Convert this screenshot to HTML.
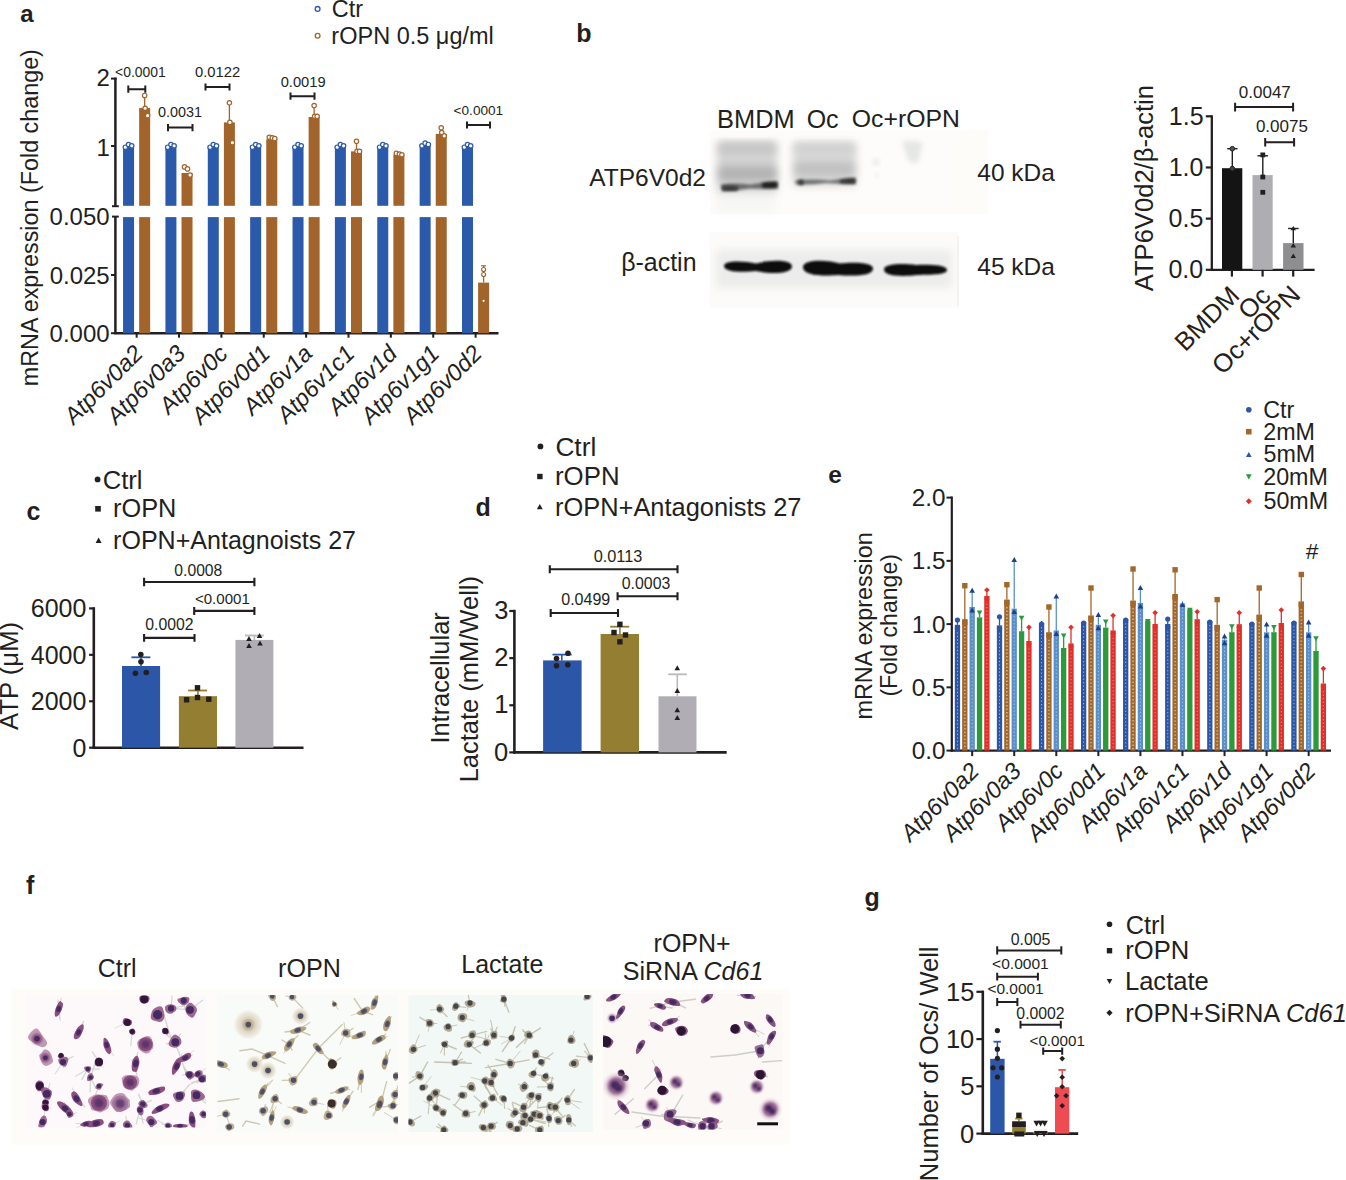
<!DOCTYPE html>
<html><head><meta charset="utf-8"><style>
html,body{margin:0;padding:0;background:#fff;}
svg{display:block;font-family:"Liberation Sans",sans-serif;}
</style></head><body>
<svg width="1346" height="1180" viewBox="0 0 1346 1180">
<rect width="1346" height="1180" fill="#fff"/>
<text x="20.20" y="21.56" font-size="24" font-weight="bold" text-anchor="start" fill="#231f20">a</text>
<circle cx="317.60" cy="8.90" r="2.40" fill="white" stroke="#2c5aaa" stroke-width="1.3"/>
<circle cx="317.60" cy="35.70" r="2.40" fill="white" stroke="#a2642a" stroke-width="1.3"/>
<text x="331.72" y="17.10" font-size="23.5" text-anchor="start" fill="#231f20">Ctr</text>
<text x="331.37" y="43.80" font-size="23.5" text-anchor="start" fill="#231f20">rOPN 0.5 μg/ml</text>
<line x1="115.40" y1="77.60" x2="115.40" y2="206.20" stroke="#231f20" stroke-width="2.5"/>
<line x1="111.00" y1="78.60" x2="116.60" y2="78.60" stroke="#231f20" stroke-width="2"/>
<line x1="111.00" y1="146.00" x2="115.40" y2="146.00" stroke="#231f20" stroke-width="2"/>
<line x1="112.00" y1="206.20" x2="118.80" y2="206.20" stroke="#231f20" stroke-width="2"/>
<line x1="115.40" y1="216.60" x2="115.40" y2="333.20" stroke="#231f20" stroke-width="2.5"/>
<line x1="112.00" y1="216.60" x2="118.80" y2="216.60" stroke="#231f20" stroke-width="2"/>
<line x1="111.00" y1="275.00" x2="115.40" y2="275.00" stroke="#231f20" stroke-width="2"/>
<line x1="111.00" y1="333.20" x2="115.40" y2="333.20" stroke="#231f20" stroke-width="2"/>
<line x1="114.20" y1="333.20" x2="498.50" y2="333.20" stroke="#231f20" stroke-width="2.5"/>
<text x="96.46" y="86.40" font-size="24" text-anchor="start" fill="#231f20">2</text>
<text x="96.46" y="155.86" font-size="24" text-anchor="start" fill="#231f20">1</text>
<text x="49.54" y="225.00" font-size="24" text-anchor="start" fill="#231f20">0.050</text>
<text x="49.66" y="284.00" font-size="24" text-anchor="start" fill="#231f20">0.025</text>
<text x="49.54" y="342.40" font-size="24" text-anchor="start" fill="#231f20">0.000</text>
<text transform="translate(37.50,386.22) rotate(-90)" font-size="23.34" text-anchor="start" fill="#231f20">mRNA expression (Fold change)</text>
<rect x="123.05" y="146.00" width="11.00" height="59.80" fill="#2c5aaa"/>
<rect x="123.05" y="217.10" width="11.00" height="116.10" fill="#2c5aaa"/>
<rect x="139.15" y="107.92" width="11.00" height="97.88" fill="#a2642a"/>
<rect x="139.15" y="217.10" width="11.00" height="116.10" fill="#a2642a"/>
<line x1="136.65" y1="333.20" x2="136.65" y2="337.70" stroke="#231f20" stroke-width="2"/>
<rect x="165.42" y="146.00" width="11.00" height="59.80" fill="#2c5aaa"/>
<rect x="165.42" y="217.10" width="11.00" height="116.10" fill="#2c5aaa"/>
<rect x="181.52" y="172.96" width="11.00" height="32.84" fill="#a2642a"/>
<rect x="181.52" y="217.10" width="11.00" height="116.10" fill="#a2642a"/>
<line x1="179.02" y1="333.20" x2="179.02" y2="337.70" stroke="#231f20" stroke-width="2"/>
<rect x="207.79" y="146.00" width="11.00" height="59.80" fill="#2c5aaa"/>
<rect x="207.79" y="217.10" width="11.00" height="116.10" fill="#2c5aaa"/>
<rect x="223.89" y="122.41" width="11.00" height="83.39" fill="#a2642a"/>
<rect x="223.89" y="217.10" width="11.00" height="116.10" fill="#a2642a"/>
<line x1="221.39" y1="333.20" x2="221.39" y2="337.70" stroke="#231f20" stroke-width="2"/>
<rect x="250.16" y="146.00" width="11.00" height="59.80" fill="#2c5aaa"/>
<rect x="250.16" y="217.10" width="11.00" height="116.10" fill="#2c5aaa"/>
<rect x="266.26" y="139.26" width="11.00" height="66.54" fill="#a2642a"/>
<rect x="266.26" y="217.10" width="11.00" height="116.10" fill="#a2642a"/>
<line x1="263.76" y1="333.20" x2="263.76" y2="337.70" stroke="#231f20" stroke-width="2"/>
<rect x="292.53" y="146.00" width="11.00" height="59.80" fill="#2c5aaa"/>
<rect x="292.53" y="217.10" width="11.00" height="116.10" fill="#2c5aaa"/>
<rect x="308.63" y="117.02" width="11.00" height="88.78" fill="#a2642a"/>
<rect x="308.63" y="217.10" width="11.00" height="116.10" fill="#a2642a"/>
<line x1="306.13" y1="333.20" x2="306.13" y2="337.70" stroke="#231f20" stroke-width="2"/>
<rect x="334.90" y="146.00" width="11.00" height="59.80" fill="#2c5aaa"/>
<rect x="334.90" y="217.10" width="11.00" height="116.10" fill="#2c5aaa"/>
<rect x="351.00" y="151.39" width="11.00" height="54.41" fill="#a2642a"/>
<rect x="351.00" y="217.10" width="11.00" height="116.10" fill="#a2642a"/>
<line x1="348.50" y1="333.20" x2="348.50" y2="337.70" stroke="#231f20" stroke-width="2"/>
<rect x="377.27" y="146.00" width="11.00" height="59.80" fill="#2c5aaa"/>
<rect x="377.27" y="217.10" width="11.00" height="116.10" fill="#2c5aaa"/>
<rect x="393.37" y="154.76" width="11.00" height="51.04" fill="#a2642a"/>
<rect x="393.37" y="217.10" width="11.00" height="116.10" fill="#a2642a"/>
<line x1="390.87" y1="333.20" x2="390.87" y2="337.70" stroke="#231f20" stroke-width="2"/>
<rect x="419.64" y="144.65" width="11.00" height="61.15" fill="#2c5aaa"/>
<rect x="419.64" y="217.10" width="11.00" height="116.10" fill="#2c5aaa"/>
<rect x="435.74" y="133.87" width="11.00" height="71.93" fill="#a2642a"/>
<rect x="435.74" y="217.10" width="11.00" height="116.10" fill="#a2642a"/>
<line x1="433.24" y1="333.20" x2="433.24" y2="337.70" stroke="#231f20" stroke-width="2"/>
<rect x="462.01" y="146.00" width="11.00" height="59.80" fill="#2c5aaa"/>
<rect x="462.01" y="217.10" width="11.00" height="116.10" fill="#2c5aaa"/>
<line x1="475.61" y1="333.20" x2="475.61" y2="337.70" stroke="#231f20" stroke-width="2"/>
<rect x="478.11" y="282.60" width="11.00" height="50.60" fill="#a2642a"/>
<line x1="483.61" y1="282.60" x2="483.61" y2="265.80" stroke="#a2642a" stroke-width="1.2"/>
<line x1="481.11" y1="265.80" x2="486.11" y2="265.80" stroke="#a2642a" stroke-width="1.2"/>
<circle cx="483.61" cy="269.50" r="2.00" fill="white" stroke="#a2642a" stroke-width="1.1"/>
<circle cx="483.61" cy="274.50" r="2.00" fill="white" stroke="#a2642a" stroke-width="1.1"/>
<circle cx="483.61" cy="300.80" r="1.10" fill="white" stroke="none" stroke-width="1"/>
<line x1="144.65" y1="95.45" x2="144.65" y2="107.92" stroke="#a2642a" stroke-width="1.3"/>
<line x1="229.39" y1="102.86" x2="229.39" y2="122.41" stroke="#a2642a" stroke-width="1.3"/>
<line x1="314.13" y1="105.56" x2="314.13" y2="117.02" stroke="#a2642a" stroke-width="1.3"/>
<line x1="356.50" y1="141.28" x2="356.50" y2="151.39" stroke="#a2642a" stroke-width="1.3"/>
<line x1="441.24" y1="127.80" x2="441.24" y2="133.87" stroke="#a2642a" stroke-width="1.3"/>
<circle cx="144.65" cy="95.45" r="2.20" fill="white" stroke="#a2642a" stroke-width="1.2"/>
<circle cx="145.15" cy="108.26" r="2.20" fill="white" stroke="#a2642a" stroke-width="1.2"/>
<circle cx="147.65" cy="115.67" r="2.20" fill="white" stroke="#a2642a" stroke-width="1.2"/>
<circle cx="184.52" cy="166.89" r="2.20" fill="white" stroke="#a2642a" stroke-width="1.2"/>
<circle cx="187.52" cy="168.92" r="2.20" fill="white" stroke="#a2642a" stroke-width="1.2"/>
<circle cx="190.02" cy="174.98" r="2.20" fill="white" stroke="#a2642a" stroke-width="1.2"/>
<circle cx="229.39" cy="102.86" r="2.20" fill="white" stroke="#a2642a" stroke-width="1.2"/>
<circle cx="229.89" cy="122.41" r="2.20" fill="white" stroke="#a2642a" stroke-width="1.2"/>
<circle cx="232.39" cy="142.63" r="2.20" fill="white" stroke="#a2642a" stroke-width="1.2"/>
<circle cx="269.26" cy="137.24" r="2.20" fill="white" stroke="#a2642a" stroke-width="1.2"/>
<circle cx="272.26" cy="137.91" r="2.20" fill="white" stroke="#a2642a" stroke-width="1.2"/>
<circle cx="274.76" cy="138.59" r="2.20" fill="white" stroke="#a2642a" stroke-width="1.2"/>
<circle cx="314.13" cy="105.56" r="2.20" fill="white" stroke="#a2642a" stroke-width="1.2"/>
<circle cx="314.63" cy="116.34" r="2.20" fill="white" stroke="#a2642a" stroke-width="1.2"/>
<circle cx="317.13" cy="116.34" r="2.20" fill="white" stroke="#a2642a" stroke-width="1.2"/>
<circle cx="356.50" cy="141.28" r="2.20" fill="white" stroke="#a2642a" stroke-width="1.2"/>
<circle cx="357.00" cy="151.39" r="2.20" fill="white" stroke="#a2642a" stroke-width="1.2"/>
<circle cx="359.50" cy="151.39" r="2.20" fill="white" stroke="#a2642a" stroke-width="1.2"/>
<circle cx="396.37" cy="153.41" r="2.20" fill="white" stroke="#a2642a" stroke-width="1.2"/>
<circle cx="399.37" cy="154.09" r="2.20" fill="white" stroke="#a2642a" stroke-width="1.2"/>
<circle cx="401.87" cy="154.76" r="2.20" fill="white" stroke="#a2642a" stroke-width="1.2"/>
<circle cx="441.24" cy="127.80" r="2.20" fill="white" stroke="#a2642a" stroke-width="1.2"/>
<circle cx="441.74" cy="132.52" r="2.20" fill="white" stroke="#a2642a" stroke-width="1.2"/>
<circle cx="444.24" cy="135.89" r="2.20" fill="white" stroke="#a2642a" stroke-width="1.2"/>
<circle cx="125.35" cy="147.20" r="2.20" fill="white" stroke="#2c5aaa" stroke-width="1.2"/>
<circle cx="128.55" cy="144.50" r="2.20" fill="white" stroke="#2c5aaa" stroke-width="1.2"/>
<circle cx="131.75" cy="145.80" r="2.20" fill="white" stroke="#2c5aaa" stroke-width="1.2"/>
<circle cx="167.72" cy="147.20" r="2.20" fill="white" stroke="#2c5aaa" stroke-width="1.2"/>
<circle cx="170.92" cy="144.50" r="2.20" fill="white" stroke="#2c5aaa" stroke-width="1.2"/>
<circle cx="174.12" cy="145.80" r="2.20" fill="white" stroke="#2c5aaa" stroke-width="1.2"/>
<circle cx="210.09" cy="147.20" r="2.20" fill="white" stroke="#2c5aaa" stroke-width="1.2"/>
<circle cx="213.29" cy="144.50" r="2.20" fill="white" stroke="#2c5aaa" stroke-width="1.2"/>
<circle cx="216.49" cy="145.80" r="2.20" fill="white" stroke="#2c5aaa" stroke-width="1.2"/>
<circle cx="252.46" cy="147.20" r="2.20" fill="white" stroke="#2c5aaa" stroke-width="1.2"/>
<circle cx="255.66" cy="144.50" r="2.20" fill="white" stroke="#2c5aaa" stroke-width="1.2"/>
<circle cx="258.86" cy="145.80" r="2.20" fill="white" stroke="#2c5aaa" stroke-width="1.2"/>
<circle cx="294.83" cy="147.20" r="2.20" fill="white" stroke="#2c5aaa" stroke-width="1.2"/>
<circle cx="298.03" cy="144.50" r="2.20" fill="white" stroke="#2c5aaa" stroke-width="1.2"/>
<circle cx="301.23" cy="145.80" r="2.20" fill="white" stroke="#2c5aaa" stroke-width="1.2"/>
<circle cx="337.20" cy="147.20" r="2.20" fill="white" stroke="#2c5aaa" stroke-width="1.2"/>
<circle cx="340.40" cy="144.50" r="2.20" fill="white" stroke="#2c5aaa" stroke-width="1.2"/>
<circle cx="343.60" cy="145.80" r="2.20" fill="white" stroke="#2c5aaa" stroke-width="1.2"/>
<circle cx="379.57" cy="147.20" r="2.20" fill="white" stroke="#2c5aaa" stroke-width="1.2"/>
<circle cx="382.77" cy="144.50" r="2.20" fill="white" stroke="#2c5aaa" stroke-width="1.2"/>
<circle cx="385.97" cy="145.80" r="2.20" fill="white" stroke="#2c5aaa" stroke-width="1.2"/>
<circle cx="421.94" cy="145.85" r="2.20" fill="white" stroke="#2c5aaa" stroke-width="1.2"/>
<circle cx="425.14" cy="143.15" r="2.20" fill="white" stroke="#2c5aaa" stroke-width="1.2"/>
<circle cx="428.34" cy="144.45" r="2.20" fill="white" stroke="#2c5aaa" stroke-width="1.2"/>
<circle cx="464.31" cy="147.20" r="2.20" fill="white" stroke="#2c5aaa" stroke-width="1.2"/>
<circle cx="467.51" cy="144.50" r="2.20" fill="white" stroke="#2c5aaa" stroke-width="1.2"/>
<circle cx="470.71" cy="145.80" r="2.20" fill="white" stroke="#2c5aaa" stroke-width="1.2"/>
<path d="M128.30,85.60V92.80M128.30,89.20H145.30M145.30,85.60V92.80" fill="none" stroke="#231f20" stroke-width="2.0"/>
<text x="115.07" y="76.54" font-size="13.92" text-anchor="start" fill="#231f20">&lt;0.0001</text>
<path d="M168.00,124.00V131.20M168.00,127.60H192.50M192.50,124.00V131.20" fill="none" stroke="#231f20" stroke-width="2.0"/>
<text x="157.90" y="117.38" font-size="14.4" text-anchor="start" fill="#231f20">0.0031</text>
<path d="M205.50,83.40V90.60M205.50,87.00H229.50M229.50,83.40V90.60" fill="none" stroke="#231f20" stroke-width="2.0"/>
<text x="194.98" y="77.14" font-size="14.77" text-anchor="start" fill="#231f20">0.0122</text>
<path d="M290.50,92.60V99.80M290.50,96.20H314.50M314.50,92.60V99.80" fill="none" stroke="#231f20" stroke-width="2.0"/>
<text x="280.69" y="87.29" font-size="14.7" text-anchor="start" fill="#231f20">0.0019</text>
<path d="M467.00,121.40V128.60M467.00,125.00H490.00M490.00,121.40V128.60" fill="none" stroke="#231f20" stroke-width="2.0"/>
<text x="453.59" y="115.03" font-size="13.61" text-anchor="start" fill="#231f20">&lt;0.0001</text>
<text transform="translate(144.30,355.05) rotate(-45)" font-size="23.6" font-style="italic" text-anchor="end" fill="#231f20">Atp6v0a2</text>
<text transform="translate(186.67,355.05) rotate(-45)" font-size="23.6" font-style="italic" text-anchor="end" fill="#231f20">Atp6v0a3</text>
<text transform="translate(229.04,355.05) rotate(-45)" font-size="23.6" font-style="italic" text-anchor="end" fill="#231f20">Atp6v0c</text>
<text transform="translate(271.41,355.05) rotate(-45)" font-size="23.6" font-style="italic" text-anchor="end" fill="#231f20">Atp6v0d1</text>
<text transform="translate(313.78,355.05) rotate(-45)" font-size="23.6" font-style="italic" text-anchor="end" fill="#231f20">Atp6v1a</text>
<text transform="translate(356.15,355.05) rotate(-45)" font-size="23.6" font-style="italic" text-anchor="end" fill="#231f20">Atp6v1c1</text>
<text transform="translate(398.52,355.05) rotate(-45)" font-size="23.6" font-style="italic" text-anchor="end" fill="#231f20">Atp6v1d</text>
<text transform="translate(440.89,355.05) rotate(-45)" font-size="23.6" font-style="italic" text-anchor="end" fill="#231f20">Atp6v1g1</text>
<text transform="translate(483.26,355.05) rotate(-45)" font-size="23.6" font-style="italic" text-anchor="end" fill="#231f20">Atp6v0d2</text>
<defs>
<filter id="bl1" x="-50%" y="-50%" width="200%" height="200%"><feGaussianBlur stdDeviation="1.6"/></filter>
<filter id="bl2" x="-50%" y="-50%" width="200%" height="200%"><feGaussianBlur stdDeviation="4"/></filter>
<filter id="bl3" x="-50%" y="-50%" width="200%" height="200%"><feGaussianBlur stdDeviation="2.5"/></filter>
<filter id="bl05" x="-50%" y="-50%" width="200%" height="200%"><feGaussianBlur stdDeviation="0.8"/></filter>
</defs>
<rect x="710.40" y="130.40" width="277.60" height="84.00" fill="#fdfcfa"/>
<rect x="716.00" y="186.00" width="60.00" height="26.00" fill="#f6f6f5" filter="url(#bl2)"/>
<rect x="717.00" y="142.00" width="60.00" height="50.00" fill="#d2d2d2" filter="url(#bl2)"/>
<rect x="719.00" y="143.00" width="56.00" height="9.00" fill="#c2c2c2" filter="url(#bl2)"/>
<rect x="719.00" y="167.00" width="57.00" height="13.00" fill="#b0b0b0" filter="url(#bl2)"/>
<path d="M721,184.5 Q736,182.5 750,184.5 Q765,182 778,181.5 L778,188.5 Q764,189 750,188.5 Q736,191 722,190.5 Z" fill="#6a6a6a" stroke="none" stroke-width="1" filter="url(#bl1)"/>
<path d="M722,186 Q730,185 738,186.5 L738,190.5 Q730,191.5 722,190.5 Z" fill="#3a3a3a" stroke="none" stroke-width="1" filter="url(#bl1)"/>
<path d="M762,183 Q770,181.5 777,182 L777,187.5 Q769,188 762,187.5 Z" fill="#1e1e1e" stroke="none" stroke-width="1" filter="url(#bl1)"/>
<rect x="793.00" y="142.00" width="63.00" height="44.00" fill="#d9d9d9" filter="url(#bl2)"/>
<rect x="795.00" y="144.00" width="59.00" height="9.00" fill="#cfcfcf" filter="url(#bl2)"/>
<rect x="795.00" y="162.00" width="59.00" height="14.00" fill="#c0c0c0" filter="url(#bl2)"/>
<path d="M795,180.5 Q812,178.5 830,180.5 Q845,178 856,178 L856,184 Q840,184 826,183 Q810,185 796,184.5 Z" fill="#707070" stroke="none" stroke-width="1" filter="url(#bl1)"/>
<circle cx="801.00" cy="182.20" r="2.80" fill="#3a3a3a" stroke="none" stroke-width="1" filter="url(#bl1)"/>
<path d="M840,180 Q848,178 855,178.5 L855,183.5 Q846,183.5 840,183 Z" fill="#333333" stroke="none" stroke-width="1" filter="url(#bl1)"/>
<circle cx="876.00" cy="162.00" r="3.00" fill="#e4e4e4" stroke="none" stroke-width="1" filter="url(#bl3)"/>
<circle cx="877.00" cy="175.00" r="2.00" fill="#e8e8e8" stroke="none" stroke-width="1" filter="url(#bl3)"/>
<path d="M902,141 Q915,140 923,143 L918,162 Q912,165 908,160 Z" fill="#e6e6e6" stroke="none" stroke-width="1" filter="url(#bl3)"/>
<rect x="952.50" y="131.00" width="35.50" height="83.00" fill="#fdfcf8"/>
<rect x="709.70" y="232.00" width="248.30" height="76.00" fill="#fcfbf9"/>
<rect x="716.00" y="250.00" width="236.00" height="38.00" fill="#ececec" filter="url(#bl2)"/>
<line x1="958.00" y1="236.00" x2="958.00" y2="306.00" stroke="#e8e8e8" stroke-width="1"/>
<path d="M724,266 C724,260 745,261 756,263.5 C768,260 792,259 792,266.5 C792,274 770,274.5 756,271 C744,272.5 724,272.5 724,266 Z" fill="#0d0b0b" stroke="none" stroke-width="1" filter="url(#bl05)"/>
<path d="M803,267 C803,259 828,259.5 840,263.5 C852,262 873,262 873,268.5 C873,276.5 852,276 838,275 C826,276 803,276.5 803,267 Z" fill="#0b0909" stroke="none" stroke-width="1" filter="url(#bl05)"/>
<path d="M884,269.5 C884,263 905,263.5 916,265 C930,264.5 947,265 947,270 C947,275 930,274.5 918,275 C905,276.5 884,277 884,269.5 Z" fill="#0d0b0b" stroke="none" stroke-width="1" filter="url(#bl05)"/>
<text x="576.17" y="42.02" font-size="25" font-weight="bold" text-anchor="start" fill="#231f20">b</text>
<text x="717.07" y="127.52" font-size="25.39" text-anchor="start" fill="#231f20">BMDM</text>
<text x="806.67" y="127.50" font-size="25" text-anchor="start" fill="#231f20">Oc</text>
<text x="851.78" y="127.35" font-size="24.79" text-anchor="start" fill="#231f20">Oc+rOPN</text>
<text x="589.20" y="186.48" font-size="24.52" text-anchor="start" fill="#231f20">ATP6V0d2</text>
<text x="621.18" y="271.38" font-size="24.94" text-anchor="start" fill="#231f20">β-actin</text>
<text x="977.31" y="181.05" font-size="24.48" text-anchor="start" fill="#231f20">40 kDa</text>
<text x="977.31" y="275.15" font-size="24.48" text-anchor="start" fill="#231f20">45 kDa</text>
<line x1="1211.80" y1="115.30" x2="1211.80" y2="270.80" stroke="#231f20" stroke-width="2.3"/>
<line x1="1205.80" y1="269.80" x2="1211.80" y2="269.80" stroke="#231f20" stroke-width="2.2"/>
<line x1="1205.80" y1="218.63" x2="1211.80" y2="218.63" stroke="#231f20" stroke-width="2.2"/>
<line x1="1205.80" y1="167.47" x2="1211.80" y2="167.47" stroke="#231f20" stroke-width="2.2"/>
<line x1="1205.80" y1="116.30" x2="1211.80" y2="116.30" stroke="#231f20" stroke-width="2.2"/>
<line x1="1210.80" y1="269.80" x2="1314.60" y2="269.80" stroke="#231f20" stroke-width="2.3"/>
<text x="1168.85" y="125.15" font-size="25" text-anchor="start" fill="#231f20">1.5</text>
<text x="1168.72" y="176.00" font-size="25" text-anchor="start" fill="#231f20">1.0</text>
<text x="1168.55" y="227.00" font-size="25" text-anchor="start" fill="#231f20">0.5</text>
<text x="1168.42" y="277.80" font-size="25" text-anchor="start" fill="#231f20">0.0</text>
<rect x="1222.00" y="168.20" width="20.30" height="101.60" fill="#141414"/>
<rect x="1252.50" y="175.10" width="20.20" height="94.70" fill="#aeadb2"/>
<rect x="1283.10" y="243.10" width="20.40" height="26.70" fill="#8e8d90"/>
<line x1="1231.90" y1="269.80" x2="1231.90" y2="276.60" stroke="#231f20" stroke-width="2.2"/>
<line x1="1262.60" y1="269.80" x2="1262.60" y2="276.60" stroke="#231f20" stroke-width="2.2"/>
<line x1="1293.20" y1="269.80" x2="1293.20" y2="276.60" stroke="#231f20" stroke-width="2.2"/>
<line x1="1232.30" y1="148.70" x2="1232.30" y2="168.20" stroke="#231f20" stroke-width="1.4"/>
<line x1="1227.20" y1="148.70" x2="1237.50" y2="148.70" stroke="#231f20" stroke-width="1.4"/>
<circle cx="1232.30" cy="148.70" r="2.30" fill="#555" stroke="#231f20" stroke-width="1"/>
<circle cx="1232.30" cy="168.60" r="2.30" fill="#444" stroke="#231f20" stroke-width="1"/>
<line x1="1262.80" y1="155.80" x2="1262.80" y2="175.10" stroke="#231f20" stroke-width="1.4"/>
<line x1="1257.50" y1="155.80" x2="1268.00" y2="155.80" stroke="#231f20" stroke-width="1.4"/>
<rect x="1260.40" y="152.50" width="4.80" height="4.80" fill="#231f20"/>
<rect x="1260.40" y="174.60" width="4.80" height="4.80" fill="#231f20"/>
<rect x="1260.40" y="189.90" width="4.80" height="4.80" fill="#231f20"/>
<line x1="1293.30" y1="228.50" x2="1293.30" y2="243.10" stroke="#231f20" stroke-width="1.4"/>
<line x1="1288.10" y1="228.50" x2="1298.60" y2="228.50" stroke="#231f20" stroke-width="1.4"/>
<path d="M1293.3,243.0L1296,247.4L1290.6,247.4Z" fill="#231f20" stroke="none" stroke-width="1"/>
<path d="M1293.3,253.6L1296,258.0L1290.6,258.0Z" fill="#231f20" stroke="none" stroke-width="1"/>
<path d="M1293.3,226L1296,230.3L1290.6,230.3Z" fill="#231f20" stroke="none" stroke-width="1"/>
<path d="M1235.10,102.70V111.50M1235.10,107.10H1293.10M1293.10,102.70V111.50" fill="none" stroke="#231f20" stroke-width="2.0"/>
<text x="1238.81" y="97.90" font-size="17" text-anchor="start" fill="#231f20">0.0047</text>
<path d="M1265.20,137.90V146.50M1265.20,142.20H1294.10M1294.10,137.90V146.50" fill="none" stroke="#231f20" stroke-width="2.0"/>
<text x="1255.90" y="131.70" font-size="17" text-anchor="start" fill="#231f20">0.0075</text>
<text transform="translate(1152.90,291.20) rotate(-90)" font-size="25.59" text-anchor="start" fill="#231f20">ATP6V0d2/β-actin</text>
<text transform="translate(1240.80,297.10) rotate(-45)" font-size="25.7" text-anchor="end" fill="#231f20">BMDM</text>
<text transform="translate(1272.05,297.45) rotate(-45)" font-size="25.7" text-anchor="end" fill="#231f20">Oc</text>
<text transform="translate(1301.80,296.40) rotate(-45)" font-size="25.7" text-anchor="end" fill="#231f20">Oc+rOPN</text>
<text x="26.52" y="519.60" font-size="25" font-weight="bold" text-anchor="start" fill="#231f20">c</text>
<circle cx="97.60" cy="479.40" r="2.90" fill="#231f20" stroke="none" stroke-width="1"/>
<text x="102.72" y="488.57" font-size="25.61" text-anchor="start" fill="#231f20">Ctrl</text>
<rect x="95.20" y="506.00" width="5.60" height="5.60" fill="#231f20"/>
<text x="113.05" y="517.14" font-size="25.34" text-anchor="start" fill="#231f20">rOPN</text>
<path d="M98.60,537.60L101.60,543.00L95.60,543.00Z" fill="#231f20" stroke="none" stroke-width="1"/>
<text x="113.07" y="549.07" font-size="25.06" text-anchor="start" fill="#231f20">rOPN+Antagnoists 27</text>
<line x1="93.80" y1="607.20" x2="93.80" y2="748.90" stroke="#231f20" stroke-width="2.6"/>
<line x1="89.10" y1="747.70" x2="93.80" y2="747.70" stroke="#231f20" stroke-width="2.2"/>
<line x1="89.10" y1="701.27" x2="93.80" y2="701.27" stroke="#231f20" stroke-width="2.2"/>
<line x1="89.10" y1="654.83" x2="93.80" y2="654.83" stroke="#231f20" stroke-width="2.2"/>
<line x1="89.10" y1="608.40" x2="93.80" y2="608.40" stroke="#231f20" stroke-width="2.2"/>
<line x1="92.60" y1="747.70" x2="303.50" y2="747.70" stroke="#231f20" stroke-width="2.6"/>
<text x="30.75" y="617.40" font-size="25" text-anchor="start" fill="#231f20">6000</text>
<text x="30.75" y="663.83" font-size="25" text-anchor="start" fill="#231f20">4000</text>
<text x="30.75" y="710.27" font-size="25" text-anchor="start" fill="#231f20">2000</text>
<text x="72.50" y="756.70" font-size="25" text-anchor="start" fill="#231f20">0</text>
<text transform="translate(18.20,730.10) rotate(-90)" font-size="25.76" text-anchor="start" fill="#231f20">ATP (μM)</text>
<rect x="122.00" y="666.00" width="38.10" height="81.70" fill="#2c57a8"/>
<rect x="178.90" y="696.20" width="38.10" height="51.50" fill="#947e32"/>
<rect x="235.40" y="639.90" width="38.00" height="107.80" fill="#b0aeb4"/>
<line x1="141.00" y1="657.30" x2="141.00" y2="666.00" stroke="#2c57a8" stroke-width="1.6"/>
<line x1="131.40" y1="657.30" x2="150.40" y2="657.30" stroke="#2c57a8" stroke-width="1.8"/>
<line x1="197.90" y1="690.50" x2="197.90" y2="696.20" stroke="#947e32" stroke-width="1.6"/>
<line x1="188.20" y1="690.50" x2="207.00" y2="690.50" stroke="#947e32" stroke-width="1.8"/>
<line x1="254.40" y1="635.50" x2="254.40" y2="639.90" stroke="#b9b8bd" stroke-width="1.6"/>
<line x1="245.00" y1="635.50" x2="263.80" y2="635.50" stroke="#b9b8bd" stroke-width="1.8"/>
<circle cx="140.80" cy="654.50" r="2.80" fill="#231f20" stroke="none" stroke-width="1"/>
<circle cx="141.00" cy="661.80" r="2.80" fill="#231f20" stroke="none" stroke-width="1"/>
<circle cx="135.40" cy="673.30" r="2.80" fill="#231f20" stroke="none" stroke-width="1"/>
<circle cx="146.30" cy="672.50" r="2.80" fill="#231f20" stroke="none" stroke-width="1"/>
<rect x="183.90" y="697.10" width="5.40" height="5.40" fill="#231f20"/>
<rect x="194.80" y="685.10" width="5.40" height="5.40" fill="#231f20"/>
<rect x="194.80" y="694.80" width="5.40" height="5.40" fill="#231f20"/>
<rect x="206.10" y="696.50" width="5.40" height="5.40" fill="#231f20"/>
<path d="M249.00,635.98L251.80,641.02L246.20,641.02Z" fill="#231f20" stroke="none" stroke-width="1"/>
<path d="M249.00,642.98L251.80,648.02L246.20,648.02Z" fill="#231f20" stroke="none" stroke-width="1"/>
<path d="M260.00,640.48L262.80,645.52L257.20,645.52Z" fill="#231f20" stroke="none" stroke-width="1"/>
<path d="M259.50,632.98L262.30,638.02L256.70,638.02Z" fill="#231f20" stroke="none" stroke-width="1"/>
<path d="M144.10,577.80V586.20M144.10,582.00H254.40M254.40,577.80V586.20" fill="none" stroke="#231f20" stroke-width="2.1"/>
<text x="174.35" y="575.58" font-size="15.68" text-anchor="start" fill="#231f20">0.0008</text>
<path d="M194.20,606.90V614.90M194.20,610.90H254.40M254.40,606.90V614.90" fill="none" stroke="#231f20" stroke-width="2.1"/>
<text x="194.92" y="603.65" font-size="15.07" text-anchor="start" fill="#231f20">&lt;0.0001</text>
<path d="M144.10,634.00V641.80M144.10,637.90H194.50M194.50,634.00V641.80" fill="none" stroke="#231f20" stroke-width="2.1"/>
<text x="145.25" y="630.27" font-size="15.81" text-anchor="start" fill="#231f20">0.0002</text>
<text x="475.50" y="515.92" font-size="25" font-weight="bold" text-anchor="start" fill="#231f20">d</text>
<circle cx="540.40" cy="446.40" r="2.90" fill="#231f20" stroke="none" stroke-width="1"/>
<text x="555.38" y="455.97" font-size="26.3" text-anchor="start" fill="#231f20">Ctrl</text>
<rect x="537.20" y="473.80" width="5.40" height="5.40" fill="#231f20"/>
<text x="555.02" y="484.67" font-size="25.81" text-anchor="start" fill="#231f20">rOPN</text>
<path d="M539.80,504.09L542.70,509.31L536.90,509.31Z" fill="#231f20" stroke="none" stroke-width="1"/>
<text x="555.05" y="516.22" font-size="25.41" text-anchor="start" fill="#231f20">rOPN+Antagonists 27</text>
<line x1="514.40" y1="609.80" x2="514.40" y2="753.60" stroke="#231f20" stroke-width="2.6"/>
<line x1="509.30" y1="752.40" x2="514.40" y2="752.40" stroke="#231f20" stroke-width="2.2"/>
<line x1="509.30" y1="705.27" x2="514.40" y2="705.27" stroke="#231f20" stroke-width="2.2"/>
<line x1="509.30" y1="658.13" x2="514.40" y2="658.13" stroke="#231f20" stroke-width="2.2"/>
<line x1="509.30" y1="611.00" x2="514.40" y2="611.00" stroke="#231f20" stroke-width="2.2"/>
<line x1="513.20" y1="752.40" x2="726.70" y2="752.40" stroke="#231f20" stroke-width="2.6"/>
<text x="494.04" y="760.65" font-size="25.5" text-anchor="start" fill="#231f20">0</text>
<text x="494.30" y="713.26" font-size="25.5" text-anchor="start" fill="#231f20">1</text>
<text x="494.30" y="666.38" font-size="25.5" text-anchor="start" fill="#231f20">2</text>
<text x="494.17" y="619.25" font-size="25.5" text-anchor="start" fill="#231f20">3</text>
<text transform="translate(449.20,743.59) rotate(-90)" font-size="25.41" text-anchor="start" fill="#231f20">Intracellular</text>
<text transform="translate(478.30,782.34) rotate(-90)" font-size="25.49" text-anchor="start" fill="#231f20">Lactate (mM/Well)</text>
<rect x="543.10" y="660.40" width="38.50" height="92.00" fill="#2c57a8"/>
<rect x="600.60" y="634.00" width="38.40" height="118.40" fill="#947e32"/>
<rect x="658.50" y="696.30" width="38.00" height="56.10" fill="#b0aeb4"/>
<line x1="561.80" y1="654.60" x2="561.80" y2="660.40" stroke="#2c57a8" stroke-width="1.6"/>
<line x1="552.50" y1="654.60" x2="571.70" y2="654.60" stroke="#2c57a8" stroke-width="1.8"/>
<line x1="619.90" y1="626.70" x2="619.90" y2="634.00" stroke="#947e32" stroke-width="1.6"/>
<line x1="610.20" y1="626.70" x2="629.20" y2="626.70" stroke="#947e32" stroke-width="1.8"/>
<line x1="677.30" y1="674.30" x2="677.30" y2="696.30" stroke="#b9b8bd" stroke-width="1.6"/>
<line x1="668.30" y1="674.30" x2="686.80" y2="674.30" stroke="#b9b8bd" stroke-width="1.8"/>
<circle cx="556.50" cy="658.50" r="2.80" fill="#231f20" stroke="none" stroke-width="1"/>
<circle cx="568.00" cy="653.30" r="2.80" fill="#231f20" stroke="none" stroke-width="1"/>
<circle cx="556.50" cy="665.80" r="2.80" fill="#231f20" stroke="none" stroke-width="1"/>
<circle cx="567.80" cy="664.70" r="2.80" fill="#231f20" stroke="none" stroke-width="1"/>
<rect x="617.20" y="621.60" width="5.40" height="5.40" fill="#231f20"/>
<rect x="611.30" y="629.80" width="5.40" height="5.40" fill="#231f20"/>
<rect x="622.80" y="632.30" width="5.40" height="5.40" fill="#231f20"/>
<rect x="617.20" y="639.10" width="5.40" height="5.40" fill="#231f20"/>
<path d="M677.30,665.18L680.10,670.22L674.50,670.22Z" fill="#231f20" stroke="none" stroke-width="1"/>
<path d="M677.30,687.98L680.10,693.02L674.50,693.02Z" fill="#231f20" stroke="none" stroke-width="1"/>
<path d="M677.30,707.18L680.10,712.22L674.50,712.22Z" fill="#231f20" stroke="none" stroke-width="1"/>
<path d="M677.30,714.98L680.10,720.02L674.50,720.02Z" fill="#231f20" stroke="none" stroke-width="1"/>
<path d="M549.80,565.30V573.30M549.80,569.30H677.50M677.50,565.30V573.30" fill="none" stroke="#231f20" stroke-width="2.1"/>
<text x="593.63" y="562.12" font-size="16.32" text-anchor="start" fill="#231f20">0.0113</text>
<path d="M617.60,592.30V600.30M617.60,596.30H677.50M677.50,592.30V600.30" fill="none" stroke="#231f20" stroke-width="2.1"/>
<text x="621.74" y="588.52" font-size="15.88" text-anchor="start" fill="#231f20">0.0003</text>
<path d="M550.70,609.00V617.00M550.70,613.00H618.00M618.00,609.00V617.00" fill="none" stroke="#231f20" stroke-width="2.1"/>
<text x="561.24" y="605.43" font-size="16.04" text-anchor="start" fill="#231f20">0.0499</text>
<text x="828.24" y="483.43" font-size="24.5" font-weight="bold" text-anchor="start" fill="#231f20">e</text>
<circle cx="1248.80" cy="409.70" r="2.80" fill="#2c57a8" stroke="none" stroke-width="1"/>
<rect x="1246.00" y="428.90" width="5.60" height="5.60" fill="#a3672a"/>
<path d="M1248.80,451.89L1251.70,457.11L1245.90,457.11Z" fill="#2c57a8" stroke="none" stroke-width="1"/>
<path d="M1245.90,474.19L1251.70,474.19L1248.80,479.41Z" fill="#2a9a3a" stroke="none" stroke-width="1"/>
<path d="M1248.80,498.20L1251.80,501.20L1248.80,504.20L1245.80,501.20Z" fill="#e1302a" stroke="none" stroke-width="1"/>
<text x="1263.23" y="417.62" font-size="23.31" text-anchor="start" fill="#231f20">Ctr</text>
<text x="1263.24" y="485.00" font-size="23.28" text-anchor="start" fill="#231f20">20mM</text>
<text x="1263.24" y="439.80" font-size="23.28" text-anchor="start" fill="#231f20">2mM</text>
<text x="1263.47" y="461.86" font-size="23.28" text-anchor="start" fill="#231f20">5mM</text>
<text x="1263.47" y="509.40" font-size="23.28" text-anchor="start" fill="#231f20">50mM</text>
<line x1="951.80" y1="496.50" x2="951.80" y2="751.70" stroke="#231f20" stroke-width="2.2"/>
<line x1="946.50" y1="750.60" x2="951.80" y2="750.60" stroke="#231f20" stroke-width="2.0"/>
<line x1="946.50" y1="687.35" x2="951.80" y2="687.35" stroke="#231f20" stroke-width="2.0"/>
<line x1="946.50" y1="624.10" x2="951.80" y2="624.10" stroke="#231f20" stroke-width="2.0"/>
<line x1="946.50" y1="560.85" x2="951.80" y2="560.85" stroke="#231f20" stroke-width="2.0"/>
<line x1="946.50" y1="497.60" x2="951.80" y2="497.60" stroke="#231f20" stroke-width="2.0"/>
<line x1="950.80" y1="750.60" x2="1331.00" y2="750.60" stroke="#231f20" stroke-width="2.4"/>
<text x="911.67" y="506.01" font-size="24.3" text-anchor="start" fill="#231f20">2.0</text>
<text x="911.80" y="569.02" font-size="24.3" text-anchor="start" fill="#231f20">1.5</text>
<text x="911.67" y="632.51" font-size="24.3" text-anchor="start" fill="#231f20">1.0</text>
<text x="911.80" y="695.76" font-size="24.3" text-anchor="start" fill="#231f20">0.5</text>
<text x="911.67" y="759.01" font-size="24.3" text-anchor="start" fill="#231f20">0.0</text>
<text transform="translate(872.30,719.62) rotate(-90)" font-size="23.42" text-anchor="start" fill="#231f20">mRNA expression</text>
<text transform="translate(897.00,696.59) rotate(-90)" font-size="23.12" text-anchor="start" fill="#231f20">(Fold change)</text>
<text x="1305.70" y="559.37" font-size="22.88" text-anchor="start" fill="#231f20">#</text>
<rect x="954.80" y="624.80" width="5.30" height="125.80" fill="#2c57a8"/>
<line x1="957.45" y1="628.80" x2="957.45" y2="749.60" stroke="#9db3dc" stroke-width="1.0" stroke-dasharray="1.3,2.2"/>
<line x1="957.45" y1="620.00" x2="957.45" y2="624.80" stroke="#2c57a8" stroke-width="1.3"/>
<circle cx="957.45" cy="620.00" r="2.60" fill="#2c57a8" stroke="none" stroke-width="1"/>
<circle cx="957.45" cy="627.80" r="2.60" fill="#2c57a8" stroke="none" stroke-width="1"/>
<rect x="962.16" y="619.20" width="5.30" height="131.40" fill="#a3672a"/>
<line x1="964.81" y1="623.20" x2="964.81" y2="749.60" stroke="#c9b59c" stroke-width="1.6" stroke-dasharray="1.3,2.2"/>
<line x1="964.81" y1="585.70" x2="964.81" y2="619.20" stroke="#a3672a" stroke-width="1.3"/>
<rect x="962.11" y="583.00" width="5.40" height="5.40" fill="#a3672a"/>
<rect x="962.11" y="619.50" width="5.40" height="5.40" fill="#a3672a"/>
<rect x="969.52" y="607.00" width="5.30" height="143.60" fill="#5a8fcd"/>
<line x1="972.17" y1="611.00" x2="972.17" y2="749.60" stroke="#a9c1e2" stroke-width="1.0" stroke-dasharray="1.3,2.2"/>
<line x1="972.17" y1="590.30" x2="972.17" y2="607.00" stroke="#5a8fcd" stroke-width="1.3"/>
<path d="M972.17,587.78L974.97,592.82L969.37,592.82Z" fill="#1e3f8a" stroke="none" stroke-width="1"/>
<path d="M972.17,607.48L974.97,612.52L969.37,612.52Z" fill="#1e3f8a" stroke="none" stroke-width="1"/>
<rect x="976.88" y="617.40" width="5.30" height="133.20" fill="#2a9a3a"/>
<line x1="979.53" y1="613.00" x2="979.53" y2="617.40" stroke="#2a9a3a" stroke-width="1.3"/>
<path d="M976.73,610.48L982.33,610.48L979.53,615.52Z" fill="#2a9a3a" stroke="none" stroke-width="1"/>
<path d="M976.73,617.88L982.33,617.88L979.53,622.92Z" fill="#2a9a3a" stroke="none" stroke-width="1"/>
<rect x="984.24" y="596.00" width="5.30" height="154.60" fill="#e1302a"/>
<line x1="986.89" y1="600.00" x2="986.89" y2="749.60" stroke="#f08a86" stroke-width="1.0" stroke-dasharray="1.3,2.2"/>
<line x1="986.89" y1="590.00" x2="986.89" y2="596.00" stroke="#e1302a" stroke-width="1.3"/>
<path d="M986.89,587.20L989.69,590.00L986.89,592.80L984.09,590.00Z" fill="#e1302a" stroke="none" stroke-width="1"/>
<path d="M986.89,596.20L989.69,599.00L986.89,601.80L984.09,599.00Z" fill="#e1302a" stroke="none" stroke-width="1"/>
<line x1="972.17" y1="750.60" x2="972.17" y2="756.10" stroke="#231f20" stroke-width="2.0"/>
<rect x="996.86" y="625.40" width="5.30" height="125.20" fill="#2c57a8"/>
<line x1="999.51" y1="629.40" x2="999.51" y2="749.60" stroke="#9db3dc" stroke-width="1.0" stroke-dasharray="1.3,2.2"/>
<line x1="999.51" y1="616.80" x2="999.51" y2="625.40" stroke="#2c57a8" stroke-width="1.3"/>
<circle cx="999.51" cy="616.80" r="2.60" fill="#2c57a8" stroke="none" stroke-width="1"/>
<circle cx="999.51" cy="628.40" r="2.60" fill="#2c57a8" stroke="none" stroke-width="1"/>
<rect x="1004.22" y="599.60" width="5.30" height="151.00" fill="#a3672a"/>
<line x1="1006.87" y1="603.60" x2="1006.87" y2="749.60" stroke="#c9b59c" stroke-width="1.6" stroke-dasharray="1.3,2.2"/>
<line x1="1006.87" y1="584.70" x2="1006.87" y2="599.60" stroke="#a3672a" stroke-width="1.3"/>
<rect x="1004.17" y="582.00" width="5.40" height="5.40" fill="#a3672a"/>
<rect x="1004.17" y="599.90" width="5.40" height="5.40" fill="#a3672a"/>
<rect x="1011.58" y="608.60" width="5.30" height="142.00" fill="#5a8fcd"/>
<line x1="1014.23" y1="612.60" x2="1014.23" y2="749.60" stroke="#a9c1e2" stroke-width="1.0" stroke-dasharray="1.3,2.2"/>
<line x1="1014.23" y1="559.60" x2="1014.23" y2="608.60" stroke="#5a8fcd" stroke-width="1.3"/>
<path d="M1014.23,557.08L1017.03,562.12L1011.43,562.12Z" fill="#1e3f8a" stroke="none" stroke-width="1"/>
<path d="M1014.23,609.08L1017.03,614.12L1011.43,614.12Z" fill="#1e3f8a" stroke="none" stroke-width="1"/>
<rect x="1018.94" y="631.30" width="5.30" height="119.30" fill="#2a9a3a"/>
<line x1="1021.59" y1="618.30" x2="1021.59" y2="631.30" stroke="#2a9a3a" stroke-width="1.3"/>
<path d="M1018.79,615.78L1024.39,615.78L1021.59,620.82Z" fill="#2a9a3a" stroke="none" stroke-width="1"/>
<path d="M1018.79,631.78L1024.39,631.78L1021.59,636.82Z" fill="#2a9a3a" stroke="none" stroke-width="1"/>
<rect x="1026.30" y="641.00" width="5.30" height="109.60" fill="#e1302a"/>
<line x1="1028.95" y1="645.00" x2="1028.95" y2="749.60" stroke="#f08a86" stroke-width="1.0" stroke-dasharray="1.3,2.2"/>
<line x1="1028.95" y1="627.20" x2="1028.95" y2="641.00" stroke="#e1302a" stroke-width="1.3"/>
<path d="M1028.95,624.40L1031.75,627.20L1028.95,630.00L1026.15,627.20Z" fill="#e1302a" stroke="none" stroke-width="1"/>
<path d="M1028.95,641.20L1031.75,644.00L1028.95,646.80L1026.15,644.00Z" fill="#e1302a" stroke="none" stroke-width="1"/>
<line x1="1014.23" y1="750.60" x2="1014.23" y2="756.10" stroke="#231f20" stroke-width="2.0"/>
<rect x="1038.92" y="623.00" width="5.30" height="127.60" fill="#2c57a8"/>
<line x1="1041.57" y1="627.00" x2="1041.57" y2="749.60" stroke="#9db3dc" stroke-width="1.0" stroke-dasharray="1.3,2.2"/>
<line x1="1041.57" y1="621.00" x2="1041.57" y2="623.00" stroke="#2c57a8" stroke-width="1.3"/>
<circle cx="1041.57" cy="624.00" r="2.60" fill="#2c57a8" stroke="none" stroke-width="1"/>
<rect x="1046.28" y="632.30" width="5.30" height="118.30" fill="#a3672a"/>
<line x1="1048.93" y1="636.30" x2="1048.93" y2="749.60" stroke="#c9b59c" stroke-width="1.6" stroke-dasharray="1.3,2.2"/>
<line x1="1048.93" y1="607.00" x2="1048.93" y2="632.30" stroke="#a3672a" stroke-width="1.3"/>
<rect x="1046.23" y="604.30" width="5.40" height="5.40" fill="#a3672a"/>
<rect x="1046.23" y="632.60" width="5.40" height="5.40" fill="#a3672a"/>
<rect x="1053.64" y="630.40" width="5.30" height="120.20" fill="#5a8fcd"/>
<line x1="1056.29" y1="634.40" x2="1056.29" y2="749.60" stroke="#a9c1e2" stroke-width="1.0" stroke-dasharray="1.3,2.2"/>
<line x1="1056.29" y1="596.00" x2="1056.29" y2="630.40" stroke="#5a8fcd" stroke-width="1.3"/>
<path d="M1056.29,593.48L1059.09,598.52L1053.49,598.52Z" fill="#1e3f8a" stroke="none" stroke-width="1"/>
<path d="M1056.29,630.88L1059.09,635.92L1053.49,635.92Z" fill="#1e3f8a" stroke="none" stroke-width="1"/>
<rect x="1061.00" y="648.00" width="5.30" height="102.60" fill="#2a9a3a"/>
<line x1="1063.65" y1="636.00" x2="1063.65" y2="648.00" stroke="#2a9a3a" stroke-width="1.3"/>
<path d="M1060.85,633.48L1066.45,633.48L1063.65,638.52Z" fill="#2a9a3a" stroke="none" stroke-width="1"/>
<path d="M1060.85,648.48L1066.45,648.48L1063.65,653.52Z" fill="#2a9a3a" stroke="none" stroke-width="1"/>
<rect x="1068.36" y="643.40" width="5.30" height="107.20" fill="#e1302a"/>
<line x1="1071.01" y1="647.40" x2="1071.01" y2="749.60" stroke="#f08a86" stroke-width="1.0" stroke-dasharray="1.3,2.2"/>
<line x1="1071.01" y1="627.20" x2="1071.01" y2="643.40" stroke="#e1302a" stroke-width="1.3"/>
<path d="M1071.01,624.40L1073.81,627.20L1071.01,630.00L1068.21,627.20Z" fill="#e1302a" stroke="none" stroke-width="1"/>
<path d="M1071.01,643.60L1073.81,646.40L1071.01,649.20L1068.21,646.40Z" fill="#e1302a" stroke="none" stroke-width="1"/>
<line x1="1056.29" y1="750.60" x2="1056.29" y2="756.10" stroke="#231f20" stroke-width="2.0"/>
<rect x="1080.98" y="622.00" width="5.30" height="128.60" fill="#2c57a8"/>
<line x1="1083.63" y1="626.00" x2="1083.63" y2="749.60" stroke="#9db3dc" stroke-width="1.0" stroke-dasharray="1.3,2.2"/>
<line x1="1083.63" y1="621.00" x2="1083.63" y2="622.00" stroke="#2c57a8" stroke-width="1.3"/>
<circle cx="1083.63" cy="623.00" r="2.60" fill="#2c57a8" stroke="none" stroke-width="1"/>
<rect x="1088.34" y="615.50" width="5.30" height="135.10" fill="#a3672a"/>
<line x1="1090.99" y1="619.50" x2="1090.99" y2="749.60" stroke="#c9b59c" stroke-width="1.6" stroke-dasharray="1.3,2.2"/>
<line x1="1090.99" y1="588.00" x2="1090.99" y2="615.50" stroke="#a3672a" stroke-width="1.3"/>
<rect x="1088.29" y="585.30" width="5.40" height="5.40" fill="#a3672a"/>
<rect x="1088.29" y="615.80" width="5.40" height="5.40" fill="#a3672a"/>
<rect x="1095.70" y="624.80" width="5.30" height="125.80" fill="#5a8fcd"/>
<line x1="1098.35" y1="628.80" x2="1098.35" y2="749.60" stroke="#a9c1e2" stroke-width="1.0" stroke-dasharray="1.3,2.2"/>
<line x1="1098.35" y1="614.60" x2="1098.35" y2="624.80" stroke="#5a8fcd" stroke-width="1.3"/>
<path d="M1098.35,612.08L1101.15,617.12L1095.55,617.12Z" fill="#1e3f8a" stroke="none" stroke-width="1"/>
<path d="M1098.35,625.28L1101.15,630.32L1095.55,630.32Z" fill="#1e3f8a" stroke="none" stroke-width="1"/>
<rect x="1103.06" y="627.60" width="5.30" height="123.00" fill="#2a9a3a"/>
<line x1="1105.71" y1="622.00" x2="1105.71" y2="627.60" stroke="#2a9a3a" stroke-width="1.3"/>
<path d="M1102.91,619.48L1108.51,619.48L1105.71,624.52Z" fill="#2a9a3a" stroke="none" stroke-width="1"/>
<path d="M1102.91,628.08L1108.51,628.08L1105.71,633.12Z" fill="#2a9a3a" stroke="none" stroke-width="1"/>
<rect x="1110.42" y="630.40" width="5.30" height="120.20" fill="#e1302a"/>
<line x1="1113.07" y1="634.40" x2="1113.07" y2="749.60" stroke="#f08a86" stroke-width="1.0" stroke-dasharray="1.3,2.2"/>
<line x1="1113.07" y1="615.50" x2="1113.07" y2="630.40" stroke="#e1302a" stroke-width="1.3"/>
<path d="M1113.07,612.70L1115.87,615.50L1113.07,618.30L1110.27,615.50Z" fill="#e1302a" stroke="none" stroke-width="1"/>
<path d="M1113.07,630.60L1115.87,633.40L1113.07,636.20L1110.27,633.40Z" fill="#e1302a" stroke="none" stroke-width="1"/>
<line x1="1098.35" y1="750.60" x2="1098.35" y2="756.10" stroke="#231f20" stroke-width="2.0"/>
<rect x="1123.04" y="619.20" width="5.30" height="131.40" fill="#2c57a8"/>
<line x1="1125.69" y1="623.20" x2="1125.69" y2="749.60" stroke="#9db3dc" stroke-width="1.0" stroke-dasharray="1.3,2.2"/>
<circle cx="1125.69" cy="620.20" r="2.60" fill="#2c57a8" stroke="none" stroke-width="1"/>
<rect x="1130.40" y="600.60" width="5.30" height="150.00" fill="#a3672a"/>
<line x1="1133.05" y1="604.60" x2="1133.05" y2="749.60" stroke="#c9b59c" stroke-width="1.6" stroke-dasharray="1.3,2.2"/>
<line x1="1133.05" y1="569.00" x2="1133.05" y2="600.60" stroke="#a3672a" stroke-width="1.3"/>
<rect x="1130.35" y="566.30" width="5.40" height="5.40" fill="#a3672a"/>
<rect x="1130.35" y="600.90" width="5.40" height="5.40" fill="#a3672a"/>
<rect x="1137.76" y="603.00" width="5.30" height="147.60" fill="#5a8fcd"/>
<line x1="1140.41" y1="607.00" x2="1140.41" y2="749.60" stroke="#a9c1e2" stroke-width="1.0" stroke-dasharray="1.3,2.2"/>
<line x1="1140.41" y1="587.50" x2="1140.41" y2="603.00" stroke="#5a8fcd" stroke-width="1.3"/>
<path d="M1140.41,584.98L1143.21,590.02L1137.61,590.02Z" fill="#1e3f8a" stroke="none" stroke-width="1"/>
<path d="M1140.41,603.48L1143.21,608.52L1137.61,608.52Z" fill="#1e3f8a" stroke="none" stroke-width="1"/>
<rect x="1145.12" y="620.50" width="5.30" height="130.10" fill="#2a9a3a"/>
<path d="M1144.97,618.98L1150.57,618.98L1147.77,624.02Z" fill="#2a9a3a" stroke="none" stroke-width="1"/>
<rect x="1152.48" y="624.00" width="5.30" height="126.60" fill="#e1302a"/>
<line x1="1155.13" y1="628.00" x2="1155.13" y2="749.60" stroke="#f08a86" stroke-width="1.0" stroke-dasharray="1.3,2.2"/>
<line x1="1155.13" y1="612.70" x2="1155.13" y2="624.00" stroke="#e1302a" stroke-width="1.3"/>
<path d="M1155.13,609.90L1157.93,612.70L1155.13,615.50L1152.33,612.70Z" fill="#e1302a" stroke="none" stroke-width="1"/>
<path d="M1155.13,624.20L1157.93,627.00L1155.13,629.80L1152.33,627.00Z" fill="#e1302a" stroke="none" stroke-width="1"/>
<line x1="1140.41" y1="750.60" x2="1140.41" y2="756.10" stroke="#231f20" stroke-width="2.0"/>
<rect x="1165.10" y="624.00" width="5.30" height="126.60" fill="#2c57a8"/>
<line x1="1167.75" y1="628.00" x2="1167.75" y2="749.60" stroke="#9db3dc" stroke-width="1.0" stroke-dasharray="1.3,2.2"/>
<line x1="1167.75" y1="619.00" x2="1167.75" y2="624.00" stroke="#2c57a8" stroke-width="1.3"/>
<circle cx="1167.75" cy="619.00" r="2.60" fill="#2c57a8" stroke="none" stroke-width="1"/>
<circle cx="1167.75" cy="627.00" r="2.60" fill="#2c57a8" stroke="none" stroke-width="1"/>
<rect x="1172.46" y="594.00" width="5.30" height="156.60" fill="#a3672a"/>
<line x1="1175.11" y1="598.00" x2="1175.11" y2="749.60" stroke="#c9b59c" stroke-width="1.6" stroke-dasharray="1.3,2.2"/>
<line x1="1175.11" y1="569.80" x2="1175.11" y2="594.00" stroke="#a3672a" stroke-width="1.3"/>
<rect x="1172.41" y="567.10" width="5.40" height="5.40" fill="#a3672a"/>
<rect x="1172.41" y="594.30" width="5.40" height="5.40" fill="#a3672a"/>
<rect x="1179.82" y="603.40" width="5.30" height="147.20" fill="#5a8fcd"/>
<line x1="1182.47" y1="607.40" x2="1182.47" y2="749.60" stroke="#a9c1e2" stroke-width="1.0" stroke-dasharray="1.3,2.2"/>
<line x1="1182.47" y1="601.50" x2="1182.47" y2="603.40" stroke="#5a8fcd" stroke-width="1.3"/>
<path d="M1182.47,601.88L1185.27,606.92L1179.67,606.92Z" fill="#1e3f8a" stroke="none" stroke-width="1"/>
<rect x="1187.18" y="609.30" width="5.30" height="141.30" fill="#2a9a3a"/>
<path d="M1187.03,607.78L1192.63,607.78L1189.83,612.82Z" fill="#2a9a3a" stroke="none" stroke-width="1"/>
<rect x="1194.54" y="619.20" width="5.30" height="131.40" fill="#e1302a"/>
<line x1="1197.19" y1="623.20" x2="1197.19" y2="749.60" stroke="#f08a86" stroke-width="1.0" stroke-dasharray="1.3,2.2"/>
<line x1="1197.19" y1="611.80" x2="1197.19" y2="619.20" stroke="#e1302a" stroke-width="1.3"/>
<path d="M1197.19,609.00L1199.99,611.80L1197.19,614.60L1194.39,611.80Z" fill="#e1302a" stroke="none" stroke-width="1"/>
<path d="M1197.19,619.40L1199.99,622.20L1197.19,625.00L1194.39,622.20Z" fill="#e1302a" stroke="none" stroke-width="1"/>
<line x1="1182.47" y1="750.60" x2="1182.47" y2="756.10" stroke="#231f20" stroke-width="2.0"/>
<rect x="1207.16" y="621.00" width="5.30" height="129.60" fill="#2c57a8"/>
<line x1="1209.81" y1="625.00" x2="1209.81" y2="749.60" stroke="#9db3dc" stroke-width="1.0" stroke-dasharray="1.3,2.2"/>
<circle cx="1209.81" cy="622.00" r="2.60" fill="#2c57a8" stroke="none" stroke-width="1"/>
<rect x="1214.52" y="624.80" width="5.30" height="125.80" fill="#a3672a"/>
<line x1="1217.17" y1="628.80" x2="1217.17" y2="749.60" stroke="#c9b59c" stroke-width="1.6" stroke-dasharray="1.3,2.2"/>
<line x1="1217.17" y1="599.60" x2="1217.17" y2="624.80" stroke="#a3672a" stroke-width="1.3"/>
<rect x="1214.47" y="596.90" width="5.40" height="5.40" fill="#a3672a"/>
<rect x="1214.47" y="625.10" width="5.40" height="5.40" fill="#a3672a"/>
<rect x="1221.88" y="639.70" width="5.30" height="110.90" fill="#5a8fcd"/>
<line x1="1224.53" y1="643.70" x2="1224.53" y2="749.60" stroke="#a9c1e2" stroke-width="1.0" stroke-dasharray="1.3,2.2"/>
<line x1="1224.53" y1="636.00" x2="1224.53" y2="639.70" stroke="#5a8fcd" stroke-width="1.3"/>
<path d="M1224.53,633.48L1227.33,638.52L1221.73,638.52Z" fill="#1e3f8a" stroke="none" stroke-width="1"/>
<path d="M1224.53,640.18L1227.33,645.22L1221.73,645.22Z" fill="#1e3f8a" stroke="none" stroke-width="1"/>
<rect x="1229.24" y="632.30" width="5.30" height="118.30" fill="#2a9a3a"/>
<line x1="1231.89" y1="626.70" x2="1231.89" y2="632.30" stroke="#2a9a3a" stroke-width="1.3"/>
<path d="M1229.09,624.18L1234.69,624.18L1231.89,629.22Z" fill="#2a9a3a" stroke="none" stroke-width="1"/>
<path d="M1229.09,632.78L1234.69,632.78L1231.89,637.82Z" fill="#2a9a3a" stroke="none" stroke-width="1"/>
<rect x="1236.60" y="624.20" width="5.30" height="126.40" fill="#e1302a"/>
<line x1="1239.25" y1="628.20" x2="1239.25" y2="749.60" stroke="#f08a86" stroke-width="1.0" stroke-dasharray="1.3,2.2"/>
<line x1="1239.25" y1="612.70" x2="1239.25" y2="624.20" stroke="#e1302a" stroke-width="1.3"/>
<path d="M1239.25,609.90L1242.05,612.70L1239.25,615.50L1236.45,612.70Z" fill="#e1302a" stroke="none" stroke-width="1"/>
<path d="M1239.25,624.40L1242.05,627.20L1239.25,630.00L1236.45,627.20Z" fill="#e1302a" stroke="none" stroke-width="1"/>
<line x1="1224.53" y1="750.60" x2="1224.53" y2="756.10" stroke="#231f20" stroke-width="2.0"/>
<rect x="1249.22" y="623.00" width="5.30" height="127.60" fill="#2c57a8"/>
<line x1="1251.87" y1="627.00" x2="1251.87" y2="749.60" stroke="#9db3dc" stroke-width="1.0" stroke-dasharray="1.3,2.2"/>
<circle cx="1251.87" cy="624.00" r="2.60" fill="#2c57a8" stroke="none" stroke-width="1"/>
<rect x="1256.58" y="614.60" width="5.30" height="136.00" fill="#a3672a"/>
<line x1="1259.23" y1="618.60" x2="1259.23" y2="749.60" stroke="#c9b59c" stroke-width="1.6" stroke-dasharray="1.3,2.2"/>
<line x1="1259.23" y1="588.00" x2="1259.23" y2="614.60" stroke="#a3672a" stroke-width="1.3"/>
<rect x="1256.53" y="585.30" width="5.40" height="5.40" fill="#a3672a"/>
<rect x="1256.53" y="614.90" width="5.40" height="5.40" fill="#a3672a"/>
<rect x="1263.94" y="632.30" width="5.30" height="118.30" fill="#5a8fcd"/>
<line x1="1266.59" y1="636.30" x2="1266.59" y2="749.60" stroke="#a9c1e2" stroke-width="1.0" stroke-dasharray="1.3,2.2"/>
<line x1="1266.59" y1="623.90" x2="1266.59" y2="632.30" stroke="#5a8fcd" stroke-width="1.3"/>
<path d="M1266.59,621.38L1269.39,626.42L1263.79,626.42Z" fill="#1e3f8a" stroke="none" stroke-width="1"/>
<path d="M1266.59,632.78L1269.39,637.82L1263.79,637.82Z" fill="#1e3f8a" stroke="none" stroke-width="1"/>
<rect x="1271.30" y="632.30" width="5.30" height="118.30" fill="#2a9a3a"/>
<line x1="1273.95" y1="627.60" x2="1273.95" y2="632.30" stroke="#2a9a3a" stroke-width="1.3"/>
<path d="M1271.15,625.08L1276.75,625.08L1273.95,630.12Z" fill="#2a9a3a" stroke="none" stroke-width="1"/>
<path d="M1271.15,632.78L1276.75,632.78L1273.95,637.82Z" fill="#2a9a3a" stroke="none" stroke-width="1"/>
<rect x="1278.66" y="623.00" width="5.30" height="127.60" fill="#e1302a"/>
<line x1="1281.31" y1="627.00" x2="1281.31" y2="749.60" stroke="#f08a86" stroke-width="1.0" stroke-dasharray="1.3,2.2"/>
<line x1="1281.31" y1="610.00" x2="1281.31" y2="623.00" stroke="#e1302a" stroke-width="1.3"/>
<path d="M1281.31,607.20L1284.11,610.00L1281.31,612.80L1278.51,610.00Z" fill="#e1302a" stroke="none" stroke-width="1"/>
<path d="M1281.31,623.20L1284.11,626.00L1281.31,628.80L1278.51,626.00Z" fill="#e1302a" stroke="none" stroke-width="1"/>
<line x1="1266.59" y1="750.60" x2="1266.59" y2="756.10" stroke="#231f20" stroke-width="2.0"/>
<rect x="1291.28" y="622.00" width="5.30" height="128.60" fill="#2c57a8"/>
<line x1="1293.93" y1="626.00" x2="1293.93" y2="749.60" stroke="#9db3dc" stroke-width="1.0" stroke-dasharray="1.3,2.2"/>
<circle cx="1293.93" cy="623.00" r="2.60" fill="#2c57a8" stroke="none" stroke-width="1"/>
<rect x="1298.64" y="601.50" width="5.30" height="149.10" fill="#a3672a"/>
<line x1="1301.29" y1="605.50" x2="1301.29" y2="749.60" stroke="#c9b59c" stroke-width="1.6" stroke-dasharray="1.3,2.2"/>
<line x1="1301.29" y1="574.50" x2="1301.29" y2="601.50" stroke="#a3672a" stroke-width="1.3"/>
<rect x="1298.59" y="571.80" width="5.40" height="5.40" fill="#a3672a"/>
<rect x="1298.59" y="601.80" width="5.40" height="5.40" fill="#a3672a"/>
<rect x="1306.00" y="632.30" width="5.30" height="118.30" fill="#5a8fcd"/>
<line x1="1308.65" y1="636.30" x2="1308.65" y2="749.60" stroke="#a9c1e2" stroke-width="1.0" stroke-dasharray="1.3,2.2"/>
<line x1="1308.65" y1="622.00" x2="1308.65" y2="632.30" stroke="#5a8fcd" stroke-width="1.3"/>
<path d="M1308.65,619.48L1311.45,624.52L1305.85,624.52Z" fill="#1e3f8a" stroke="none" stroke-width="1"/>
<path d="M1308.65,632.78L1311.45,637.82L1305.85,637.82Z" fill="#1e3f8a" stroke="none" stroke-width="1"/>
<rect x="1313.36" y="651.00" width="5.30" height="99.60" fill="#2a9a3a"/>
<line x1="1316.01" y1="638.80" x2="1316.01" y2="651.00" stroke="#2a9a3a" stroke-width="1.3"/>
<path d="M1313.21,636.28L1318.81,636.28L1316.01,641.32Z" fill="#2a9a3a" stroke="none" stroke-width="1"/>
<path d="M1313.21,651.48L1318.81,651.48L1316.01,656.52Z" fill="#2a9a3a" stroke="none" stroke-width="1"/>
<rect x="1320.72" y="683.50" width="5.30" height="67.10" fill="#e1302a"/>
<line x1="1323.37" y1="687.50" x2="1323.37" y2="749.60" stroke="#f08a86" stroke-width="1.0" stroke-dasharray="1.3,2.2"/>
<line x1="1323.37" y1="668.60" x2="1323.37" y2="683.50" stroke="#e1302a" stroke-width="1.3"/>
<path d="M1323.37,665.80L1326.17,668.60L1323.37,671.40L1320.57,668.60Z" fill="#e1302a" stroke="none" stroke-width="1"/>
<path d="M1323.37,683.70L1326.17,686.50L1323.37,689.30L1320.57,686.50Z" fill="#e1302a" stroke="none" stroke-width="1"/>
<line x1="1308.65" y1="750.60" x2="1308.65" y2="756.10" stroke="#231f20" stroke-width="2.0"/>
<text transform="translate(980.52,772.55) rotate(-45)" font-size="23.5" font-style="italic" text-anchor="end" fill="#231f20">Atp6v0a2</text>
<text transform="translate(1022.58,772.55) rotate(-45)" font-size="23.5" font-style="italic" text-anchor="end" fill="#231f20">Atp6v0a3</text>
<text transform="translate(1064.64,772.55) rotate(-45)" font-size="23.5" font-style="italic" text-anchor="end" fill="#231f20">Atp6v0c</text>
<text transform="translate(1106.70,772.55) rotate(-45)" font-size="23.5" font-style="italic" text-anchor="end" fill="#231f20">Atp6v0d1</text>
<text transform="translate(1148.76,772.55) rotate(-45)" font-size="23.5" font-style="italic" text-anchor="end" fill="#231f20">Atp6v1a</text>
<text transform="translate(1190.82,772.55) rotate(-45)" font-size="23.5" font-style="italic" text-anchor="end" fill="#231f20">Atp6v1c1</text>
<text transform="translate(1232.88,772.55) rotate(-45)" font-size="23.5" font-style="italic" text-anchor="end" fill="#231f20">Atp6v1d</text>
<text transform="translate(1274.94,772.55) rotate(-45)" font-size="23.5" font-style="italic" text-anchor="end" fill="#231f20">Atp6v1g1</text>
<text transform="translate(1317.00,772.55) rotate(-45)" font-size="23.5" font-style="italic" text-anchor="end" fill="#231f20">Atp6v0d2</text>
<text x="26.12" y="893.73" font-size="25" font-weight="bold" text-anchor="start" fill="#231f20">f</text>
<defs>
<filter id="cb05" x="-50%" y="-50%" width="200%" height="200%"><feGaussianBlur stdDeviation="0.6"/></filter>
<filter id="cb1" x="-50%" y="-50%" width="200%" height="200%"><feGaussianBlur stdDeviation="1.2"/></filter>
<filter id="cb3" x="-50%" y="-50%" width="200%" height="200%"><feGaussianBlur stdDeviation="2.5"/></filter>
<radialGradient id="hg_2"><stop offset="0" stop-color="#b09a70" stop-opacity="0.9"/><stop offset="0.35" stop-color="#c8b898" stop-opacity="0.7"/><stop offset="0.8" stop-color="#ddd4c0" stop-opacity="0.45"/><stop offset="1" stop-color="#e8e0cc" stop-opacity="0"/></radialGradient>
<radialGradient id="hg_4"><stop offset="0" stop-color="#9a6a95" stop-opacity="0.9"/><stop offset="0.6" stop-color="#b58fb0" stop-opacity="0.6"/><stop offset="1" stop-color="#e8d8e4" stop-opacity="0"/></radialGradient>
<radialGradient id="hg_1"><stop offset="0" stop-color="#9a6a95"/><stop offset="1" stop-color="#e8d8e4" stop-opacity="0"/></radialGradient>
<radialGradient id="hg_3"><stop offset="0" stop-color="#a09070"/><stop offset="1" stop-color="#e8e0cc" stop-opacity="0"/></radialGradient>
<clipPath id="cl1"><rect x="25.4" y="995.6" width="180.6" height="132"/></clipPath>
<clipPath id="cl2"><rect x="217.2" y="995" width="180.8" height="136.2"/></clipPath>
<clipPath id="cl3"><rect x="408.5" y="995" width="184.2" height="136.9"/></clipPath>
<clipPath id="cl4"><rect x="603" y="994" width="179.2" height="135.8"/></clipPath>
</defs>
<rect x="11.00" y="988.60" width="778.40" height="156.00" fill="#fefcf8"/>
<rect x="25.40" y="995.60" width="180.60" height="132.00" fill="#fdf8f9"/>
<g clip-path="url(#cl1)">
<path d="M164.0,1015.4 L170.0,1035.0 L178.0,1050.0 L186.6,1074.7" stroke="#cdd4ce" stroke-width="1.4" stroke-linejoin="round" stroke-linecap="round" fill="none" opacity="0.9"/>
<path d="M132.0,1060.0 L137.0,1075.0" stroke="#cdd4ce" stroke-width="1.4" stroke-linejoin="round" stroke-linecap="round" fill="none" opacity="0.9"/>
<path d="M58.0,1000.0 L60.0,1020.0" stroke="#cdd4ce" stroke-width="1.4" stroke-linejoin="round" stroke-linecap="round" fill="none" opacity="0.9"/>
<path d="M58.8,1009.0L61.2,998.3" stroke="#cdd4ce" stroke-width="1.1" stroke-linecap="round" fill="none" opacity="0.85"/>
<path d="M144.2,999.2L145.9,992.5" stroke="#cdd4ce" stroke-width="0.8" stroke-linecap="round" fill="none" opacity="0.85"/>
<path d="M127.3,1022.5L114.9,1028.1" stroke="#cdd4ce" stroke-width="0.8" stroke-linecap="round" fill="none" opacity="0.85"/>
<path d="M132.2,1031.6L130.8,1045.5" stroke="#cdd4ce" stroke-width="1.2" stroke-linecap="round" fill="none" opacity="0.85"/>
<path d="M157.6,1014.7L162.7,1011.0" stroke="#cdd4ce" stroke-width="0.8" stroke-linecap="round" fill="none" opacity="0.85"/>
<path d="M171.0,1008.4L185.8,1009.3" stroke="#cdd4ce" stroke-width="1.3" stroke-linecap="round" fill="none" opacity="0.85"/>
<path d="M171.0,1008.4L184.0,1005.8" stroke="#cdd4ce" stroke-width="1.2" stroke-linecap="round" fill="none" opacity="0.85"/>
<path d="M171.0,1008.4L172.3,993.1" stroke="#cdd4ce" stroke-width="1.2" stroke-linecap="round" fill="none" opacity="0.85"/>
<path d="M183.7,1000.6L184.7,1008.7" stroke="#cdd4ce" stroke-width="1.1" stroke-linecap="round" fill="none" opacity="0.85"/>
<path d="M183.7,1000.6L182.2,1006.6" stroke="#cdd4ce" stroke-width="1.4" stroke-linecap="round" fill="none" opacity="0.85"/>
<path d="M190.0,1009.8L196.2,1006.5" stroke="#cdd4ce" stroke-width="1.2" stroke-linecap="round" fill="none" opacity="0.85"/>
<path d="M190.0,1009.8L188.5,1001.0" stroke="#cdd4ce" stroke-width="1.3" stroke-linecap="round" fill="none" opacity="0.85"/>
<path d="M190.0,1009.8L202.5,1000.2" stroke="#cdd4ce" stroke-width="1.2" stroke-linecap="round" fill="none" opacity="0.85"/>
<path d="M78.6,1032.3L83.4,1021.5" stroke="#cdd4ce" stroke-width="1.4" stroke-linecap="round" fill="none" opacity="0.85"/>
<path d="M78.6,1032.3L75.2,1037.6" stroke="#cdd4ce" stroke-width="1.0" stroke-linecap="round" fill="none" opacity="0.85"/>
<path d="M106.8,1045.0L109.3,1054.3" stroke="#cdd4ce" stroke-width="1.4" stroke-linecap="round" fill="none" opacity="0.85"/>
<path d="M106.8,1045.0L113.6,1055.7" stroke="#cdd4ce" stroke-width="0.9" stroke-linecap="round" fill="none" opacity="0.85"/>
<path d="M175.3,1042.2L180.5,1034.0" stroke="#cdd4ce" stroke-width="1.3" stroke-linecap="round" fill="none" opacity="0.85"/>
<path d="M175.3,1042.2L166.4,1043.9" stroke="#cdd4ce" stroke-width="1.4" stroke-linecap="round" fill="none" opacity="0.85"/>
<path d="M175.3,1042.2L166.5,1034.4" stroke="#cdd4ce" stroke-width="1.3" stroke-linecap="round" fill="none" opacity="0.85"/>
<path d="M63.0,1062.0L63.9,1068.1" stroke="#cdd4ce" stroke-width="0.9" stroke-linecap="round" fill="none" opacity="0.85"/>
<path d="M63.0,1062.0L73.1,1056.5" stroke="#cdd4ce" stroke-width="1.1" stroke-linecap="round" fill="none" opacity="0.85"/>
<path d="M63.0,1062.0L55.0,1074.0" stroke="#cdd4ce" stroke-width="1.0" stroke-linecap="round" fill="none" opacity="0.85"/>
<path d="M99.0,1062.0L92.5,1051.8" stroke="#cdd4ce" stroke-width="1.3" stroke-linecap="round" fill="none" opacity="0.85"/>
<path d="M135.8,1063.4L137.9,1052.0" stroke="#cdd4ce" stroke-width="1.1" stroke-linecap="round" fill="none" opacity="0.85"/>
<path d="M135.8,1063.4L137.4,1053.9" stroke="#cdd4ce" stroke-width="1.2" stroke-linecap="round" fill="none" opacity="0.85"/>
<path d="M87.8,1069.0L75.7,1076.3" stroke="#cdd4ce" stroke-width="1.1" stroke-linecap="round" fill="none" opacity="0.85"/>
<path d="M87.8,1069.0L99.2,1069.1" stroke="#cdd4ce" stroke-width="1.4" stroke-linecap="round" fill="none" opacity="0.85"/>
<path d="M87.8,1069.0L81.9,1079.5" stroke="#cdd4ce" stroke-width="1.4" stroke-linecap="round" fill="none" opacity="0.85"/>
<path d="M90.6,1077.5L95.8,1088.1" stroke="#cdd4ce" stroke-width="1.4" stroke-linecap="round" fill="none" opacity="0.85"/>
<path d="M90.6,1077.5L94.8,1064.2" stroke="#cdd4ce" stroke-width="1.4" stroke-linecap="round" fill="none" opacity="0.85"/>
<path d="M90.6,1077.5L90.1,1091.9" stroke="#cdd4ce" stroke-width="1.3" stroke-linecap="round" fill="none" opacity="0.85"/>
<path d="M176.7,1066.2L182.1,1053.8" stroke="#cdd4ce" stroke-width="1.0" stroke-linecap="round" fill="none" opacity="0.85"/>
<path d="M185.2,1057.8L192.5,1055.0" stroke="#cdd4ce" stroke-width="1.0" stroke-linecap="round" fill="none" opacity="0.85"/>
<path d="M185.2,1057.8L193.8,1050.5" stroke="#cdd4ce" stroke-width="0.9" stroke-linecap="round" fill="none" opacity="0.85"/>
<path d="M189.4,1074.7L184.1,1067.5" stroke="#cdd4ce" stroke-width="1.3" stroke-linecap="round" fill="none" opacity="0.85"/>
<path d="M189.4,1074.7L182.3,1074.9" stroke="#cdd4ce" stroke-width="1.0" stroke-linecap="round" fill="none" opacity="0.85"/>
<path d="M197.9,1074.0L191.0,1077.8" stroke="#cdd4ce" stroke-width="0.9" stroke-linecap="round" fill="none" opacity="0.85"/>
<path d="M197.9,1074.0L206.9,1067.5" stroke="#cdd4ce" stroke-width="0.9" stroke-linecap="round" fill="none" opacity="0.85"/>
<path d="M202.0,1079.0L187.7,1085.6" stroke="#cdd4ce" stroke-width="1.0" stroke-linecap="round" fill="none" opacity="0.85"/>
<path d="M202.0,1079.0L196.9,1082.8" stroke="#cdd4ce" stroke-width="1.5" stroke-linecap="round" fill="none" opacity="0.85"/>
<path d="M202.0,1079.0L191.6,1082.7" stroke="#cdd4ce" stroke-width="1.1" stroke-linecap="round" fill="none" opacity="0.85"/>
<path d="M46.8,1093.8L50.1,1083.1" stroke="#cdd4ce" stroke-width="1.0" stroke-linecap="round" fill="none" opacity="0.85"/>
<path d="M46.8,1093.8L40.9,1085.8" stroke="#cdd4ce" stroke-width="1.2" stroke-linecap="round" fill="none" opacity="0.85"/>
<path d="M46.8,1093.8L41.5,1104.9" stroke="#cdd4ce" stroke-width="0.8" stroke-linecap="round" fill="none" opacity="0.85"/>
<path d="M45.4,1103.0L51.1,1108.8" stroke="#cdd4ce" stroke-width="0.8" stroke-linecap="round" fill="none" opacity="0.85"/>
<path d="M99.0,1086.0L93.3,1100.3" stroke="#cdd4ce" stroke-width="1.3" stroke-linecap="round" fill="none" opacity="0.85"/>
<path d="M76.5,1098.7L84.9,1106.8" stroke="#cdd4ce" stroke-width="1.4" stroke-linecap="round" fill="none" opacity="0.85"/>
<path d="M76.5,1098.7L72.3,1087.8" stroke="#cdd4ce" stroke-width="0.9" stroke-linecap="round" fill="none" opacity="0.85"/>
<path d="M65.2,1108.6L57.6,1103.0" stroke="#cdd4ce" stroke-width="0.9" stroke-linecap="round" fill="none" opacity="0.85"/>
<path d="M65.2,1108.6L73.2,1116.0" stroke="#cdd4ce" stroke-width="1.5" stroke-linecap="round" fill="none" opacity="0.85"/>
<path d="M65.2,1108.6L74.3,1114.7" stroke="#cdd4ce" stroke-width="1.0" stroke-linecap="round" fill="none" opacity="0.85"/>
<path d="M156.2,1091.0L149.6,1095.5" stroke="#cdd4ce" stroke-width="1.0" stroke-linecap="round" fill="none" opacity="0.85"/>
<path d="M156.2,1091.0L163.6,1087.6" stroke="#cdd4ce" stroke-width="1.3" stroke-linecap="round" fill="none" opacity="0.85"/>
<path d="M142.8,1104.3L151.4,1100.4" stroke="#cdd4ce" stroke-width="1.4" stroke-linecap="round" fill="none" opacity="0.85"/>
<path d="M142.8,1104.3L138.6,1094.3" stroke="#cdd4ce" stroke-width="1.5" stroke-linecap="round" fill="none" opacity="0.85"/>
<path d="M159.8,1108.6L166.3,1106.5" stroke="#cdd4ce" stroke-width="0.9" stroke-linecap="round" fill="none" opacity="0.85"/>
<path d="M140.0,1110.0L143.1,1123.2" stroke="#cdd4ce" stroke-width="1.2" stroke-linecap="round" fill="none" opacity="0.85"/>
<path d="M140.0,1110.0L145.2,1101.9" stroke="#cdd4ce" stroke-width="1.0" stroke-linecap="round" fill="none" opacity="0.85"/>
<path d="M140.0,1110.0L136.2,1124.2" stroke="#cdd4ce" stroke-width="1.2" stroke-linecap="round" fill="none" opacity="0.85"/>
<path d="M179.5,1095.9L185.1,1091.1" stroke="#cdd4ce" stroke-width="1.2" stroke-linecap="round" fill="none" opacity="0.85"/>
<path d="M179.5,1095.9L184.6,1099.8" stroke="#cdd4ce" stroke-width="0.9" stroke-linecap="round" fill="none" opacity="0.85"/>
<path d="M179.5,1095.9L188.8,1085.6" stroke="#cdd4ce" stroke-width="1.4" stroke-linecap="round" fill="none" opacity="0.85"/>
<path d="M196.5,1095.2L205.4,1103.0" stroke="#cdd4ce" stroke-width="1.4" stroke-linecap="round" fill="none" opacity="0.85"/>
<path d="M196.5,1095.2L206.7,1100.5" stroke="#cdd4ce" stroke-width="1.2" stroke-linecap="round" fill="none" opacity="0.85"/>
<path d="M192.2,1119.9L191.8,1131.5" stroke="#cdd4ce" stroke-width="1.4" stroke-linecap="round" fill="none" opacity="0.85"/>
<path d="M192.2,1119.9L192.0,1127.0" stroke="#cdd4ce" stroke-width="0.8" stroke-linecap="round" fill="none" opacity="0.85"/>
<path d="M203.5,1114.2L216.2,1115.2" stroke="#cdd4ce" stroke-width="0.9" stroke-linecap="round" fill="none" opacity="0.85"/>
<path d="M203.5,1114.2L214.6,1124.0" stroke="#cdd4ce" stroke-width="0.8" stroke-linecap="round" fill="none" opacity="0.85"/>
<path d="M42.6,1122.0L45.2,1110.4" stroke="#cdd4ce" stroke-width="0.9" stroke-linecap="round" fill="none" opacity="0.85"/>
<path d="M96.2,1123.4L103.7,1122.1" stroke="#cdd4ce" stroke-width="1.4" stroke-linecap="round" fill="none" opacity="0.85"/>
<path d="M96.2,1123.4L86.4,1123.9" stroke="#cdd4ce" stroke-width="1.5" stroke-linecap="round" fill="none" opacity="0.85"/>
<path d="M151.3,1122.0L138.8,1117.9" stroke="#cdd4ce" stroke-width="1.0" stroke-linecap="round" fill="none" opacity="0.85"/>
<path d="M151.3,1122.0L153.7,1130.9" stroke="#cdd4ce" stroke-width="0.8" stroke-linecap="round" fill="none" opacity="0.85"/>
<path d="M127.3,1125.5L125.9,1116.4" stroke="#cdd4ce" stroke-width="1.1" stroke-linecap="round" fill="none" opacity="0.85"/>
<path d="M127.3,1125.5L122.0,1129.5" stroke="#cdd4ce" stroke-width="1.0" stroke-linecap="round" fill="none" opacity="0.85"/>
<path d="M69.4,1114.2L76.4,1112.9" stroke="#cdd4ce" stroke-width="1.0" stroke-linecap="round" fill="none" opacity="0.85"/>
<path d="M69.4,1114.2L57.7,1103.5" stroke="#cdd4ce" stroke-width="1.2" stroke-linecap="round" fill="none" opacity="0.85"/>
<path d="M69.4,1114.2L64.6,1102.5" stroke="#cdd4ce" stroke-width="1.0" stroke-linecap="round" fill="none" opacity="0.85"/>
<path d="M86.0,1124.0L94.1,1121.7" stroke="#cdd4ce" stroke-width="0.9" stroke-linecap="round" fill="none" opacity="0.85"/>
<path d="M86.0,1124.0L73.5,1129.1" stroke="#cdd4ce" stroke-width="0.9" stroke-linecap="round" fill="none" opacity="0.85"/>
<path d="M86.0,1124.0L76.1,1123.4" stroke="#cdd4ce" stroke-width="1.0" stroke-linecap="round" fill="none" opacity="0.85"/>
<path d="M112.0,1125.0L117.4,1137.8" stroke="#cdd4ce" stroke-width="1.2" stroke-linecap="round" fill="none" opacity="0.85"/>
<path d="M112.0,1125.0L119.4,1121.0" stroke="#cdd4ce" stroke-width="0.9" stroke-linecap="round" fill="none" opacity="0.85"/>
<path d="M168.0,1126.0L157.5,1120.3" stroke="#cdd4ce" stroke-width="1.0" stroke-linecap="round" fill="none" opacity="0.85"/>
<path d="M168.0,1126.0L176.4,1127.1" stroke="#cdd4ce" stroke-width="0.9" stroke-linecap="round" fill="none" opacity="0.85"/>
<path d="M168.0,1126.0L161.6,1123.9" stroke="#cdd4ce" stroke-width="0.9" stroke-linecap="round" fill="none" opacity="0.85"/>
<path d="M180.0,1126.0L193.8,1124.5" stroke="#cdd4ce" stroke-width="1.1" stroke-linecap="round" fill="none" opacity="0.85"/>
<path d="M180.0,1126.0L193.5,1123.1" stroke="#cdd4ce" stroke-width="1.0" stroke-linecap="round" fill="none" opacity="0.85"/>
<path d="M180.0,1126.0L187.4,1124.7" stroke="#cdd4ce" stroke-width="0.9" stroke-linecap="round" fill="none" opacity="0.85"/>
<path d="M60.7,1001.2 Q61.8,1002.0 62.7,1003.1 Q63.6,1004.2 62.5,1007.2 Q61.4,1010.2 60.4,1012.6 Q59.5,1014.9 57.4,1016.3 Q55.3,1017.6 54.8,1015.4 Q54.4,1013.1 55.1,1010.2 Q55.8,1007.3 57.7,1003.9 Q59.5,1000.5 60.7,1001.2Z" fill="#8e5080" stroke="none" stroke-width="1" filter="url(#cb05)"/>
<ellipse cx="58.8" cy="1009.0" rx="3.3" ry="2.4" transform="rotate(-70 58.8 1009.0)" fill="#452c62" filter="url(#cb05)"/>
<path d="M146.4,994.9 Q148.3,995.6 149.2,997.1 Q150.1,998.6 149.0,1000.9 Q147.9,1003.1 145.4,1003.6 Q142.9,1004.1 141.6,1003.1 Q140.4,1002.2 139.7,1000.6 Q139.0,998.9 139.5,997.3 Q140.0,995.6 142.3,994.9 Q144.5,994.2 146.4,994.9Z" fill="#8e5080" stroke="none" stroke-width="1" filter="url(#cb05)"/>
<circle cx="144.20" cy="999.20" r="4.00" fill="#30193a" stroke="none" stroke-width="1" filter="url(#cb05)"/>
<path d="M122.8,1020.9 Q123.4,1018.5 124.4,1018.2 Q125.5,1017.9 127.8,1018.5 Q130.1,1019.1 131.2,1020.2 Q132.4,1021.3 131.9,1023.2 Q131.4,1025.1 129.9,1025.6 Q128.5,1026.1 126.8,1025.8 Q125.1,1025.4 123.7,1024.3 Q122.2,1023.3 122.8,1020.9Z" fill="#8e5080" stroke="none" stroke-width="1" filter="url(#cb05)"/>
<circle cx="127.30" cy="1022.50" r="3.50" fill="#30193a" stroke="none" stroke-width="1" filter="url(#cb05)"/>
<path d="M129.0,1031.5 Q128.9,1030.2 129.6,1029.8 Q130.3,1029.3 131.8,1028.8 Q133.4,1028.2 134.2,1029.3 Q135.0,1030.4 135.4,1031.5 Q135.7,1032.7 134.9,1033.7 Q134.1,1034.8 132.9,1035.0 Q131.8,1035.1 130.4,1034.0 Q129.0,1032.8 129.0,1031.5Z" fill="#8e5080" stroke="none" stroke-width="1" filter="url(#cb05)"/>
<circle cx="132.20" cy="1031.60" r="2.50" fill="#30193a" stroke="none" stroke-width="1" filter="url(#cb05)"/>
<path d="M158.1,1006.6 Q161.7,1005.3 162.7,1008.1 Q163.7,1010.8 164.3,1014.0 Q165.0,1017.1 163.2,1020.0 Q161.4,1022.8 158.2,1021.8 Q155.1,1020.7 152.7,1020.2 Q150.3,1019.6 150.8,1015.8 Q151.3,1011.9 152.8,1009.8 Q154.4,1007.8 158.1,1006.6Z" fill="#8e5080" stroke="none" stroke-width="1" filter="url(#cb05)" opacity="0.85"/>
<circle cx="157.60" cy="1014.70" r="4.68" fill="#452c62" stroke="none" stroke-width="1" filter="url(#cb05)"/>
<path d="M165.1,1009.7 Q164.5,1006.7 166.1,1005.6 Q167.8,1004.5 170.0,1004.2 Q172.1,1003.9 174.2,1005.1 Q176.2,1006.2 176.4,1008.3 Q176.5,1010.4 175.5,1011.0 Q174.5,1011.6 172.8,1012.9 Q171.0,1014.1 168.4,1013.4 Q165.8,1012.8 165.1,1009.7Z" fill="#8e5080" stroke="none" stroke-width="1" filter="url(#cb05)" opacity="0.85"/>
<circle cx="171.00" cy="1008.40" r="3.12" fill="#452c62" stroke="none" stroke-width="1" filter="url(#cb05)"/>
<path d="M178.1,1001.8 Q176.3,999.6 178.7,998.5 Q181.2,997.5 183.0,997.0 Q184.8,996.5 187.3,996.9 Q189.9,997.4 189.4,999.6 Q189.0,1001.9 187.8,1003.3 Q186.6,1004.8 184.7,1005.2 Q182.9,1005.5 181.4,1004.8 Q179.9,1004.0 178.1,1001.8Z" fill="#8e5080" stroke="none" stroke-width="1" filter="url(#cb05)" opacity="0.85"/>
<circle cx="183.70" cy="1000.60" r="3.12" fill="#452c62" stroke="none" stroke-width="1" filter="url(#cb05)"/>
<path d="M187.8,1004.1 Q190.3,1001.9 191.7,1003.1 Q193.1,1004.3 195.5,1006.7 Q197.9,1009.2 196.5,1011.9 Q195.1,1014.7 193.8,1016.7 Q192.5,1018.7 189.8,1016.8 Q187.2,1015.0 186.2,1013.0 Q185.2,1011.1 185.2,1008.7 Q185.2,1006.3 187.8,1004.1Z" fill="#8e5080" stroke="none" stroke-width="1" filter="url(#cb05)" opacity="0.85"/>
<circle cx="190.00" cy="1009.80" r="3.90" fill="#452c62" stroke="none" stroke-width="1" filter="url(#cb05)"/>
<path d="M28.9,1034.8 Q31.0,1031.5 33.7,1029.4 Q36.5,1027.4 38.3,1029.5 Q40.0,1031.6 41.6,1034.4 Q43.2,1037.1 45.8,1040.0 Q48.3,1042.9 46.0,1045.7 Q43.8,1048.4 39.4,1046.2 Q35.1,1044.1 33.7,1042.9 Q32.3,1041.7 29.5,1039.9 Q26.8,1038.1 28.9,1034.8Z" fill="#c09ab4" stroke="none" stroke-width="1" filter="url(#cb05)"/>
<circle cx="37.00" cy="1038.70" r="5.25" fill="#8e5080" stroke="none" stroke-width="1" filter="url(#cb1)"/>
<circle cx="37.00" cy="1038.70" r="2.80" fill="#452c62" stroke="none" stroke-width="1" filter="url(#cb05)"/>
<path d="M40.2,1054.0 Q41.8,1053.1 43.0,1050.7 Q44.1,1048.2 47.2,1049.7 Q50.2,1051.2 51.2,1054.5 Q52.1,1057.8 53.0,1059.7 Q53.9,1061.7 51.5,1063.6 Q49.2,1065.5 46.4,1066.0 Q43.6,1066.4 42.1,1063.3 Q40.7,1060.2 39.6,1057.5 Q38.5,1054.9 40.2,1054.0Z" fill="#c09ab4" stroke="none" stroke-width="1" filter="url(#cb05)"/>
<circle cx="45.40" cy="1057.80" r="4.50" fill="#8e5080" stroke="none" stroke-width="1" filter="url(#cb1)"/>
<circle cx="45.40" cy="1057.80" r="2.40" fill="#452c62" stroke="none" stroke-width="1" filter="url(#cb05)"/>
<path d="M81.6,1024.6 Q83.7,1023.6 83.8,1026.0 Q84.0,1028.4 82.6,1031.6 Q81.3,1034.9 79.8,1037.0 Q78.2,1039.1 76.2,1039.3 Q74.3,1039.6 73.8,1037.4 Q73.4,1035.3 74.9,1032.2 Q76.4,1029.0 78.0,1027.3 Q79.5,1025.6 81.6,1024.6Z" fill="#8e5080" stroke="none" stroke-width="1" filter="url(#cb05)"/>
<ellipse cx="78.6" cy="1032.3" rx="3.3" ry="2.4" transform="rotate(-60 78.6 1032.3)" fill="#452c62" filter="url(#cb05)"/>
<path d="M103.5,1039.4 Q103.5,1037.2 105.4,1038.0 Q107.3,1038.8 108.7,1042.1 Q110.2,1045.3 111.0,1048.2 Q111.8,1051.0 110.9,1052.7 Q109.9,1054.4 108.7,1054.0 Q107.5,1053.5 105.5,1050.4 Q103.5,1047.3 103.4,1044.4 Q103.4,1041.6 103.5,1039.4Z" fill="#8e5080" stroke="none" stroke-width="1" filter="url(#cb05)"/>
<ellipse cx="106.8" cy="1045.0" rx="3.3" ry="2.4" transform="rotate(-110 106.8 1045.0)" fill="#452c62" filter="url(#cb05)"/>
<path d="M152.9,1042.6 Q153.6,1045.0 153.3,1046.9 Q153.0,1048.7 152.1,1049.3 Q151.2,1049.9 150.3,1051.4 Q149.4,1052.9 147.3,1053.5 Q145.3,1054.0 142.3,1052.1 Q139.4,1050.2 138.5,1048.7 Q137.7,1047.3 137.5,1045.8 Q137.3,1044.4 137.1,1043.0 Q137.0,1041.6 138.6,1040.2 Q140.1,1038.8 142.1,1037.9 Q144.1,1036.9 145.1,1036.4 Q146.1,1035.8 148.3,1036.1 Q150.5,1036.4 151.4,1038.3 Q152.2,1040.1 152.9,1042.6Z" fill="#c09ab4" stroke="none" stroke-width="1" filter="url(#cb05)"/>
<circle cx="145.60" cy="1044.30" r="7.12" fill="#8e5080" stroke="none" stroke-width="1" filter="url(#cb05)"/>
<circle cx="145.60" cy="1044.30" r="4.12" fill="#452c62" stroke="none" stroke-width="1" filter="url(#cb1)" opacity="0.7"/>
<path d="M162.9,1028.2 Q163.6,1027.7 165.0,1027.7 Q166.4,1027.7 167.2,1028.7 Q168.0,1029.6 168.7,1031.4 Q169.4,1033.1 168.1,1033.9 Q166.8,1034.7 165.6,1034.3 Q164.4,1034.0 163.2,1033.5 Q162.0,1033.0 162.0,1030.8 Q162.1,1028.7 162.9,1028.2Z" fill="#8e5080" stroke="none" stroke-width="1" filter="url(#cb05)"/>
<circle cx="165.40" cy="1031.00" r="3.00" fill="#30193a" stroke="none" stroke-width="1" filter="url(#cb05)"/>
<path d="M176.6,1034.9 Q178.8,1036.4 180.1,1037.8 Q181.4,1039.3 181.5,1041.9 Q181.6,1044.4 179.0,1046.2 Q176.3,1048.0 174.4,1047.8 Q172.4,1047.6 170.0,1046.3 Q167.7,1044.9 169.1,1041.8 Q170.5,1038.8 172.5,1036.1 Q174.5,1033.5 176.6,1034.9Z" fill="#8e5080" stroke="none" stroke-width="1" filter="url(#cb05)" opacity="0.85"/>
<circle cx="175.30" cy="1042.20" r="3.90" fill="#452c62" stroke="none" stroke-width="1" filter="url(#cb05)"/>
<path d="M61.9,1053.0 Q62.8,1053.5 63.7,1054.6 Q64.6,1055.7 63.9,1056.8 Q63.1,1057.9 61.7,1058.1 Q60.4,1058.3 59.3,1057.9 Q58.3,1057.5 57.9,1056.9 Q57.5,1056.3 58.4,1054.7 Q59.3,1053.2 60.1,1052.9 Q61.0,1052.6 61.9,1053.0Z" fill="#8e5080" stroke="none" stroke-width="1" filter="url(#cb05)"/>
<circle cx="61.00" cy="1055.60" r="2.50" fill="#30193a" stroke="none" stroke-width="1" filter="url(#cb05)"/>
<path d="M67.7,1057.7 Q68.7,1059.1 68.2,1061.0 Q67.6,1062.8 66.6,1065.3 Q65.7,1067.7 63.1,1066.4 Q60.5,1065.2 59.7,1064.1 Q59.0,1063.1 58.3,1061.2 Q57.7,1059.4 59.4,1058.3 Q61.2,1057.3 63.9,1056.8 Q66.7,1056.4 67.7,1057.7Z" fill="#8e5080" stroke="none" stroke-width="1" filter="url(#cb05)" opacity="0.85"/>
<circle cx="63.00" cy="1062.00" r="3.12" fill="#452c62" stroke="none" stroke-width="1" filter="url(#cb05)"/>
<path d="M98.1,1057.6 Q100.2,1057.2 101.4,1058.3 Q102.6,1059.4 102.9,1060.8 Q103.3,1062.2 102.6,1064.5 Q102.0,1066.7 99.7,1066.6 Q97.3,1066.5 96.2,1066.0 Q95.1,1065.6 94.7,1063.5 Q94.3,1061.4 95.2,1059.7 Q96.0,1058.0 98.1,1057.6Z" fill="#8e5080" stroke="none" stroke-width="1" filter="url(#cb05)"/>
<circle cx="99.00" cy="1062.00" r="4.00" fill="#30193a" stroke="none" stroke-width="1" filter="url(#cb05)"/>
<path d="M135.2,1056.4 Q136.7,1055.0 137.7,1056.3 Q138.6,1057.5 139.2,1059.8 Q139.8,1062.2 138.3,1067.4 Q136.8,1072.5 135.7,1072.1 Q134.6,1071.7 133.2,1071.6 Q131.7,1071.5 131.7,1066.8 Q131.7,1062.0 132.7,1059.9 Q133.7,1057.8 135.2,1056.4Z" fill="#8e5080" stroke="none" stroke-width="1" filter="url(#cb05)"/>
<ellipse cx="135.8" cy="1063.4" rx="3.8" ry="2.8" transform="rotate(-80 135.8 1063.4)" fill="#452c62" filter="url(#cb05)"/>
<path d="M84.2,1068.6 Q83.6,1067.2 84.9,1066.8 Q86.1,1066.4 87.7,1066.2 Q89.3,1066.0 90.3,1066.5 Q91.3,1067.0 91.1,1068.7 Q90.9,1070.3 90.0,1071.9 Q89.1,1073.4 87.9,1072.6 Q86.7,1071.9 85.8,1070.9 Q84.8,1070.0 84.2,1068.6Z" fill="#8e5080" stroke="none" stroke-width="1" filter="url(#cb05)" opacity="0.85"/>
<circle cx="87.80" cy="1069.00" r="2.34" fill="#452c62" stroke="none" stroke-width="1" filter="url(#cb05)"/>
<path d="M92.3,1073.7 Q93.1,1075.0 93.7,1075.9 Q94.2,1076.8 93.7,1078.0 Q93.3,1079.3 91.9,1080.1 Q90.5,1081.0 88.9,1081.1 Q87.2,1081.3 87.0,1080.0 Q86.8,1078.6 87.3,1076.6 Q87.7,1074.6 89.6,1073.5 Q91.4,1072.4 92.3,1073.7Z" fill="#8e5080" stroke="none" stroke-width="1" filter="url(#cb05)" opacity="0.85"/>
<circle cx="90.60" cy="1077.50" r="2.34" fill="#452c62" stroke="none" stroke-width="1" filter="url(#cb05)"/>
<path d="M139.4,1081.0 Q139.2,1082.7 138.6,1084.8 Q137.9,1086.9 135.9,1088.0 Q133.9,1089.1 133.4,1090.0 Q133.0,1091.0 130.0,1090.2 Q126.9,1089.4 126.5,1089.2 Q126.0,1089.0 124.7,1088.0 Q123.5,1087.1 122.9,1084.9 Q122.3,1082.7 121.8,1080.3 Q121.2,1077.8 122.9,1076.8 Q124.5,1075.7 125.7,1075.3 Q126.9,1075.0 128.8,1075.0 Q130.7,1075.1 133.8,1075.2 Q136.9,1075.4 138.2,1077.3 Q139.6,1079.2 139.4,1081.0Z" fill="#c09ab4" stroke="none" stroke-width="1" filter="url(#cb05)"/>
<circle cx="130.10" cy="1082.50" r="7.12" fill="#8e5080" stroke="none" stroke-width="1" filter="url(#cb05)"/>
<circle cx="130.10" cy="1082.50" r="4.12" fill="#452c62" stroke="none" stroke-width="1" filter="url(#cb1)" opacity="0.7"/>
<path d="M178.6,1057.8 Q181.1,1056.6 181.3,1058.9 Q181.5,1061.1 180.8,1064.1 Q180.1,1067.1 177.9,1069.9 Q175.7,1072.7 174.2,1074.3 Q172.6,1075.8 172.1,1073.7 Q171.6,1071.6 172.0,1068.8 Q172.4,1065.9 174.3,1062.4 Q176.2,1058.9 178.6,1057.8Z" fill="#8e5080" stroke="none" stroke-width="1" filter="url(#cb05)"/>
<ellipse cx="176.7" cy="1066.2" rx="3.8" ry="2.8" transform="rotate(-65 176.7 1066.2)" fill="#452c62" filter="url(#cb05)"/>
<path d="M190.0,1053.1 Q191.6,1054.1 191.2,1055.9 Q190.8,1057.7 189.1,1059.3 Q187.5,1060.9 184.7,1061.5 Q181.9,1062.1 179.8,1061.8 Q177.7,1061.6 177.9,1060.2 Q178.1,1058.7 180.9,1056.7 Q183.8,1054.8 186.1,1053.5 Q188.4,1052.1 190.0,1053.1Z" fill="#8e5080" stroke="none" stroke-width="1" filter="url(#cb05)"/>
<ellipse cx="185.2" cy="1057.8" rx="3.3" ry="2.4" transform="rotate(-30 185.2 1057.8)" fill="#452c62" filter="url(#cb05)"/>
<path d="M185.5,1075.6 Q184.7,1074.2 185.2,1072.9 Q185.7,1071.6 187.5,1071.2 Q189.3,1070.8 190.9,1071.0 Q192.4,1071.2 193.8,1073.3 Q195.3,1075.5 194.2,1076.7 Q193.1,1077.8 191.5,1079.1 Q189.8,1080.4 188.1,1078.8 Q186.4,1077.1 185.5,1075.6Z" fill="#8e5080" stroke="none" stroke-width="1" filter="url(#cb05)" opacity="0.85"/>
<circle cx="189.40" cy="1074.70" r="3.12" fill="#452c62" stroke="none" stroke-width="1" filter="url(#cb05)"/>
<path d="M201.2,1070.6 Q203.1,1071.5 202.7,1073.8 Q202.3,1076.1 200.8,1076.8 Q199.4,1077.5 197.7,1077.7 Q196.0,1077.9 194.7,1076.6 Q193.4,1075.4 194.1,1073.9 Q194.8,1072.4 195.8,1071.7 Q196.8,1071.0 198.0,1070.3 Q199.2,1069.6 201.2,1070.6Z" fill="#8e5080" stroke="none" stroke-width="1" filter="url(#cb05)" opacity="0.85"/>
<circle cx="197.90" cy="1074.00" r="2.73" fill="#452c62" stroke="none" stroke-width="1" filter="url(#cb05)"/>
<path d="M197.8,1078.9 Q197.4,1077.2 198.8,1075.8 Q200.2,1074.5 203.0,1074.4 Q205.8,1074.4 206.2,1076.0 Q206.5,1077.6 206.6,1079.5 Q206.6,1081.5 205.1,1082.0 Q203.5,1082.6 202.0,1082.8 Q200.6,1082.9 199.4,1081.8 Q198.3,1080.6 197.8,1078.9Z" fill="#8e5080" stroke="none" stroke-width="1" filter="url(#cb05)" opacity="0.85"/>
<circle cx="202.00" cy="1079.00" r="3.12" fill="#452c62" stroke="none" stroke-width="1" filter="url(#cb05)"/>
<path d="M35.5,1083.8 Q36.3,1081.6 38.1,1080.8 Q39.9,1080.0 41.7,1081.2 Q43.6,1082.4 43.8,1084.0 Q43.9,1085.5 43.9,1087.7 Q43.9,1089.9 41.8,1090.8 Q39.6,1091.6 38.1,1091.0 Q36.7,1090.5 35.8,1088.2 Q34.8,1085.9 35.5,1083.8Z" fill="#8e5080" stroke="none" stroke-width="1" filter="url(#cb05)"/>
<circle cx="39.80" cy="1086.00" r="4.00" fill="#30193a" stroke="none" stroke-width="1" filter="url(#cb05)"/>
<path d="M42.9,1087.4 Q45.8,1086.7 47.7,1087.9 Q49.7,1089.1 51.1,1090.2 Q52.5,1091.2 51.8,1094.5 Q51.1,1097.7 50.0,1098.9 Q48.8,1100.2 46.3,1099.2 Q43.8,1098.2 43.1,1096.7 Q42.3,1095.1 41.2,1091.6 Q40.1,1088.0 42.9,1087.4Z" fill="#8e5080" stroke="none" stroke-width="1" filter="url(#cb05)" opacity="0.85"/>
<circle cx="46.80" cy="1093.80" r="3.90" fill="#452c62" stroke="none" stroke-width="1" filter="url(#cb05)"/>
<path d="M44.9,1099.2 Q45.9,1098.9 47.5,1099.7 Q49.1,1100.5 49.1,1101.9 Q49.2,1103.4 48.1,1105.0 Q47.1,1106.6 45.7,1106.6 Q44.4,1106.7 43.5,1105.4 Q42.6,1104.0 42.3,1102.6 Q42.0,1101.1 43.0,1100.2 Q43.9,1099.4 44.9,1099.2Z" fill="#8e5080" stroke="none" stroke-width="1" filter="url(#cb05)"/>
<circle cx="45.40" cy="1103.00" r="3.00" fill="#30193a" stroke="none" stroke-width="1" filter="url(#cb05)"/>
<path d="M41.6,1106.8 Q41.3,1104.9 42.6,1104.2 Q43.9,1103.5 45.9,1103.7 Q47.9,1104.0 48.4,1105.3 Q48.9,1106.6 49.0,1108.6 Q49.0,1110.6 47.7,1111.0 Q46.5,1111.3 45.0,1110.9 Q43.4,1110.4 42.7,1109.5 Q41.9,1108.6 41.6,1106.8Z" fill="#8e5080" stroke="none" stroke-width="1" filter="url(#cb05)"/>
<circle cx="45.40" cy="1107.50" r="3.00" fill="#30193a" stroke="none" stroke-width="1" filter="url(#cb05)"/>
<path d="M102.0,1083.4 Q104.2,1084.1 103.1,1085.3 Q101.9,1086.5 101.4,1088.1 Q100.9,1089.7 99.5,1089.7 Q98.1,1089.7 96.5,1089.0 Q94.9,1088.3 95.6,1086.7 Q96.3,1085.0 96.8,1084.3 Q97.3,1083.7 98.5,1083.2 Q99.7,1082.7 102.0,1083.4Z" fill="#8e5080" stroke="none" stroke-width="1" filter="url(#cb05)" opacity="0.85"/>
<circle cx="99.00" cy="1086.00" r="2.34" fill="#452c62" stroke="none" stroke-width="1" filter="url(#cb05)"/>
<path d="M108.9,1100.3 Q110.0,1102.0 109.4,1105.1 Q108.9,1108.2 106.6,1109.6 Q104.3,1111.0 102.2,1111.8 Q100.0,1112.7 99.1,1112.2 Q98.3,1111.7 94.4,1110.8 Q90.5,1109.9 90.8,1108.5 Q91.1,1107.2 89.3,1104.5 Q87.5,1101.7 88.0,1100.1 Q88.4,1098.6 90.3,1097.3 Q92.2,1096.1 94.1,1095.1 Q96.0,1094.2 99.3,1094.4 Q102.5,1094.7 104.9,1095.0 Q107.3,1095.3 107.6,1096.9 Q107.8,1098.5 108.9,1100.3Z" fill="#c09ab4" stroke="none" stroke-width="1" filter="url(#cb05)"/>
<circle cx="99.00" cy="1103.00" r="8.07" fill="#8e5080" stroke="none" stroke-width="1" filter="url(#cb05)"/>
<circle cx="99.00" cy="1103.00" r="4.68" fill="#452c62" stroke="none" stroke-width="1" filter="url(#cb1)" opacity="0.7"/>
<path d="M129.9,1101.2 Q129.4,1102.1 130.0,1104.4 Q130.6,1106.8 128.8,1108.1 Q127.0,1109.5 124.1,1110.8 Q121.2,1112.1 119.4,1112.1 Q117.6,1112.1 116.6,1112.1 Q115.6,1112.1 113.7,1109.0 Q111.7,1105.8 111.0,1105.3 Q110.3,1104.7 110.1,1102.8 Q109.9,1100.9 112.4,1097.7 Q114.9,1094.4 116.7,1093.7 Q118.5,1093.0 121.2,1093.0 Q123.9,1092.9 125.2,1095.0 Q126.5,1097.1 128.5,1098.7 Q130.5,1100.3 129.9,1101.2Z" fill="#c09ab4" stroke="none" stroke-width="1" filter="url(#cb05)"/>
<circle cx="120.20" cy="1103.60" r="8.07" fill="#a878a0" stroke="none" stroke-width="1" filter="url(#cb05)"/>
<circle cx="120.20" cy="1103.60" r="4.68" fill="#452c62" stroke="none" stroke-width="1" filter="url(#cb1)" opacity="0.7"/>
<path d="M71.2,1094.1 Q71.2,1092.2 73.1,1091.5 Q75.0,1090.8 76.8,1093.1 Q78.7,1095.4 80.7,1099.3 Q82.7,1103.2 82.5,1105.0 Q82.4,1106.8 80.2,1105.8 Q78.0,1104.8 75.4,1102.8 Q72.9,1100.7 72.1,1098.3 Q71.2,1096.0 71.2,1094.1Z" fill="#8e5080" stroke="none" stroke-width="1" filter="url(#cb05)"/>
<ellipse cx="76.5" cy="1098.7" rx="3.8" ry="2.8" transform="rotate(-125 76.5 1098.7)" fill="#452c62" filter="url(#cb05)"/>
<path d="M57.0,1103.1 Q56.9,1101.1 59.1,1101.2 Q61.3,1101.3 64.9,1103.5 Q68.4,1105.7 70.9,1109.0 Q73.5,1112.3 73.5,1114.1 Q73.5,1115.8 71.8,1115.9 Q70.2,1116.0 66.2,1113.4 Q62.3,1110.8 59.7,1107.9 Q57.2,1105.1 57.0,1103.1Z" fill="#8e5080" stroke="none" stroke-width="1" filter="url(#cb05)"/>
<ellipse cx="65.2" cy="1108.6" rx="3.8" ry="2.8" transform="rotate(-140 65.2 1108.6)" fill="#452c62" filter="url(#cb05)"/>
<path d="M163.9,1086.6 Q165.3,1086.9 165.2,1088.9 Q165.2,1090.8 162.0,1092.4 Q158.9,1094.0 155.4,1094.7 Q151.9,1095.4 150.1,1094.9 Q148.3,1094.4 148.3,1092.7 Q148.3,1091.0 152.3,1089.3 Q156.3,1087.7 159.5,1086.9 Q162.6,1086.2 163.9,1086.6Z" fill="#8e5080" stroke="none" stroke-width="1" filter="url(#cb05)"/>
<ellipse cx="156.2" cy="1091.0" rx="3.8" ry="2.8" transform="rotate(-20 156.2 1091.0)" fill="#452c62" filter="url(#cb05)"/>
<path d="M138.7,1105.0 Q137.8,1103.8 138.7,1102.4 Q139.5,1100.9 141.5,1100.3 Q143.6,1099.7 144.7,1100.9 Q145.8,1102.0 147.1,1103.9 Q148.4,1105.8 147.0,1106.9 Q145.6,1107.9 144.2,1108.3 Q142.8,1108.7 141.2,1107.4 Q139.6,1106.2 138.7,1105.0Z" fill="#8e5080" stroke="none" stroke-width="1" filter="url(#cb05)" opacity="0.85"/>
<circle cx="142.80" cy="1104.30" r="2.73" fill="#452c62" stroke="none" stroke-width="1" filter="url(#cb05)"/>
<path d="M167.7,1103.7 Q170.3,1104.2 169.2,1105.9 Q168.0,1107.5 164.6,1109.5 Q161.2,1111.5 157.2,1112.9 Q153.2,1114.3 152.1,1113.8 Q150.9,1113.2 152.6,1110.8 Q154.4,1108.4 156.0,1107.3 Q157.5,1106.2 161.2,1104.7 Q165.0,1103.3 167.7,1103.7Z" fill="#8e5080" stroke="none" stroke-width="1" filter="url(#cb05)"/>
<ellipse cx="159.8" cy="1108.6" rx="3.8" ry="2.8" transform="rotate(-25 159.8 1108.6)" fill="#452c62" filter="url(#cb05)"/>
<path d="M137.1,1107.6 Q137.6,1106.2 139.6,1105.4 Q141.7,1104.7 142.6,1106.7 Q143.4,1108.7 143.6,1110.3 Q143.8,1111.8 143.2,1113.7 Q142.7,1115.5 141.0,1115.5 Q139.4,1115.4 138.2,1113.6 Q137.1,1111.8 136.8,1110.4 Q136.6,1108.9 137.1,1107.6Z" fill="#8e5080" stroke="none" stroke-width="1" filter="url(#cb05)" opacity="0.85"/>
<circle cx="140.00" cy="1110.00" r="2.73" fill="#452c62" stroke="none" stroke-width="1" filter="url(#cb05)"/>
<path d="M173.3,1096.7 Q172.1,1094.4 174.3,1093.0 Q176.6,1091.6 179.5,1091.4 Q182.4,1091.2 183.9,1091.9 Q185.5,1092.7 185.1,1095.0 Q184.7,1097.3 183.2,1099.5 Q181.7,1101.6 179.2,1101.9 Q176.7,1102.3 175.6,1100.7 Q174.5,1099.0 173.3,1096.7Z" fill="#8e5080" stroke="none" stroke-width="1" filter="url(#cb05)" opacity="0.85"/>
<circle cx="179.50" cy="1095.90" r="3.90" fill="#452c62" stroke="none" stroke-width="1" filter="url(#cb05)"/>
<path d="M203.7,1094.1 Q205.7,1096.2 204.8,1097.9 Q204.0,1099.6 199.8,1100.9 Q195.7,1102.3 193.5,1102.0 Q191.3,1101.7 191.2,1098.7 Q191.1,1095.8 190.9,1093.0 Q190.7,1090.2 193.5,1089.7 Q196.3,1089.3 199.0,1090.6 Q201.6,1091.9 203.7,1094.1Z" fill="#8e5080" stroke="none" stroke-width="1" filter="url(#cb05)" opacity="0.85"/>
<circle cx="196.50" cy="1095.20" r="3.90" fill="#452c62" stroke="none" stroke-width="1" filter="url(#cb05)"/>
<path d="M189.7,1112.8 Q190.3,1111.3 191.7,1111.5 Q193.1,1111.6 194.2,1114.8 Q195.3,1118.0 195.4,1122.3 Q195.4,1126.5 195.0,1127.9 Q194.6,1129.2 192.4,1127.2 Q190.3,1125.3 189.4,1123.7 Q188.5,1122.1 188.8,1118.2 Q189.2,1114.2 189.7,1112.8Z" fill="#8e5080" stroke="none" stroke-width="1" filter="url(#cb05)"/>
<ellipse cx="192.2" cy="1119.9" rx="3.8" ry="2.8" transform="rotate(-100 192.2 1119.9)" fill="#452c62" filter="url(#cb05)"/>
<path d="M199.6,1115.1 Q199.0,1114.1 200.0,1112.6 Q201.0,1111.0 202.5,1110.6 Q203.9,1110.2 205.0,1111.2 Q206.0,1112.3 207.0,1113.1 Q208.0,1113.9 207.3,1115.8 Q206.7,1117.8 204.9,1118.2 Q203.2,1118.6 201.7,1117.4 Q200.2,1116.1 199.6,1115.1Z" fill="#8e5080" stroke="none" stroke-width="1" filter="url(#cb05)" opacity="0.85"/>
<circle cx="203.50" cy="1114.20" r="2.34" fill="#452c62" stroke="none" stroke-width="1" filter="url(#cb05)"/>
<path d="M44.5,1115.6 Q46.1,1116.1 46.8,1118.9 Q47.6,1121.6 46.4,1123.3 Q45.1,1125.0 44.3,1126.5 Q43.4,1127.9 40.6,1127.8 Q37.8,1127.6 38.4,1125.2 Q38.9,1122.7 39.4,1121.0 Q39.9,1119.2 41.4,1117.1 Q42.9,1115.1 44.5,1115.6Z" fill="#8e5080" stroke="none" stroke-width="1" filter="url(#cb05)" opacity="0.85"/>
<circle cx="42.60" cy="1122.00" r="3.12" fill="#452c62" stroke="none" stroke-width="1" filter="url(#cb05)"/>
<path d="M102.9,1120.0 Q103.5,1120.9 103.8,1122.6 Q104.1,1124.2 101.0,1125.4 Q97.9,1126.7 94.3,1127.2 Q90.7,1127.7 88.4,1127.2 Q86.2,1126.8 87.5,1124.5 Q88.8,1122.2 92.6,1120.6 Q96.4,1118.9 99.4,1119.0 Q102.4,1119.0 102.9,1120.0Z" fill="#8e5080" stroke="none" stroke-width="1" filter="url(#cb05)"/>
<ellipse cx="96.2" cy="1123.4" rx="3.8" ry="2.8" transform="rotate(-15 96.2 1123.4)" fill="#452c62" filter="url(#cb05)"/>
<path d="M146.2,1119.4 Q146.4,1117.3 148.5,1116.2 Q150.7,1115.1 152.5,1116.6 Q154.4,1118.2 156.3,1120.5 Q158.1,1122.8 156.3,1123.9 Q154.4,1125.1 152.6,1126.8 Q150.9,1128.4 150.1,1126.8 Q149.3,1125.1 147.7,1123.2 Q146.1,1121.4 146.2,1119.4Z" fill="#8e5080" stroke="none" stroke-width="1" filter="url(#cb05)" opacity="0.85"/>
<circle cx="151.30" cy="1122.00" r="3.12" fill="#452c62" stroke="none" stroke-width="1" filter="url(#cb05)"/>
<path d="M123.0,1123.6 Q123.4,1121.7 125.8,1120.7 Q128.2,1119.8 129.4,1121.4 Q130.6,1123.0 131.6,1124.5 Q132.7,1126.0 132.1,1127.9 Q131.5,1129.8 129.6,1130.2 Q127.8,1130.6 126.3,1129.6 Q124.8,1128.6 123.7,1127.1 Q122.6,1125.6 123.0,1123.6Z" fill="#8e5080" stroke="none" stroke-width="1" filter="url(#cb05)" opacity="0.85"/>
<circle cx="127.30" cy="1125.50" r="2.73" fill="#452c62" stroke="none" stroke-width="1" filter="url(#cb05)"/>
<path d="M67.4,1110.2 Q68.9,1108.8 70.1,1110.3 Q71.3,1111.8 72.2,1112.8 Q73.1,1113.8 73.0,1115.2 Q72.9,1116.7 71.1,1117.5 Q69.3,1118.3 68.6,1117.8 Q67.8,1117.3 66.9,1115.6 Q66.0,1113.9 65.9,1112.8 Q65.8,1111.6 67.4,1110.2Z" fill="#8e5080" stroke="none" stroke-width="1" filter="url(#cb05)" opacity="0.85"/>
<circle cx="69.40" cy="1114.20" r="2.34" fill="#452c62" stroke="none" stroke-width="1" filter="url(#cb05)"/>
<path d="M92.3,1121.9 Q92.7,1123.1 92.1,1124.2 Q91.4,1125.4 88.3,1126.1 Q85.3,1126.9 83.8,1126.7 Q82.2,1126.5 80.9,1125.8 Q79.6,1125.1 80.4,1124.3 Q81.2,1123.5 83.2,1122.2 Q85.2,1120.9 88.5,1120.8 Q91.9,1120.7 92.3,1121.9Z" fill="#8e5080" stroke="none" stroke-width="1" filter="url(#cb05)"/>
<ellipse cx="86.0" cy="1124.0" rx="2.8" ry="2.1" transform="rotate(-10 86.0 1124.0)" fill="#452c62" filter="url(#cb05)"/>
<path d="M111.4,1120.9 Q112.4,1120.7 114.2,1121.4 Q116.1,1122.2 116.0,1123.5 Q115.8,1124.9 115.1,1126.2 Q114.3,1127.5 112.8,1128.8 Q111.4,1130.1 109.8,1129.0 Q108.2,1127.8 108.0,1126.4 Q107.8,1125.0 109.1,1123.0 Q110.4,1121.0 111.4,1120.9Z" fill="#8e5080" stroke="none" stroke-width="1" filter="url(#cb05)" opacity="0.85"/>
<circle cx="112.00" cy="1125.00" r="2.34" fill="#452c62" stroke="none" stroke-width="1" filter="url(#cb05)"/>
<path d="M169.1,1122.8 Q170.4,1123.5 171.4,1124.3 Q172.5,1125.1 171.8,1126.6 Q171.2,1128.1 169.4,1128.7 Q167.7,1129.2 166.8,1128.8 Q165.9,1128.3 165.2,1127.5 Q164.6,1126.6 164.7,1125.3 Q164.8,1123.9 166.3,1123.0 Q167.8,1122.0 169.1,1122.8Z" fill="#8e5080" stroke="none" stroke-width="1" filter="url(#cb05)" opacity="0.85"/>
<circle cx="168.00" cy="1126.00" r="2.34" fill="#452c62" stroke="none" stroke-width="1" filter="url(#cb05)"/>
<path d="M187.2,1125.2 Q188.6,1126.2 187.1,1126.9 Q185.6,1127.6 182.9,1128.3 Q180.1,1128.9 178.3,1128.4 Q176.6,1128.0 174.3,1127.2 Q172.0,1126.5 173.0,1125.4 Q174.0,1124.4 177.3,1124.0 Q180.6,1123.7 183.2,1124.0 Q185.7,1124.3 187.2,1125.2Z" fill="#8e5080" stroke="none" stroke-width="1" filter="url(#cb05)"/>
<ellipse cx="180.0" cy="1126.0" rx="2.8" ry="2.1" transform="rotate(0 180.0 1126.0)" fill="#452c62" filter="url(#cb05)"/>
</g>
<rect x="217.20" y="995.00" width="180.80" height="136.20" fill="#f9fbf8"/>
<g clip-path="url(#cl2)">
<path d="M294.2,1080.3 L318.2,1048.6 L342.2,1024.6" stroke="#cbc3a8" stroke-width="1.4" stroke-linejoin="round" stroke-linecap="round" fill="none" opacity="0.9"/>
<path d="M239.8,1050.7 L252.0,1049.0 L268.0,1055.6 L285.0,1063.4" stroke="#cbc3a8" stroke-width="1.4" stroke-linejoin="round" stroke-linecap="round" fill="none" opacity="0.9"/>
<path d="M218.0,1101.5 L239.1,1098.7" stroke="#cbc3a8" stroke-width="1.4" stroke-linejoin="round" stroke-linecap="round" fill="none" opacity="0.9"/>
<path d="M242.6,1126.2 L246.0,1121.0 L259.6,1124.1" stroke="#cbc3a8" stroke-width="1.4" stroke-linejoin="round" stroke-linecap="round" fill="none" opacity="0.9"/>
<path d="M354.2,998.5 L362.6,1011.2 L372.5,1014.7" stroke="#cbc3a8" stroke-width="1.4" stroke-linejoin="round" stroke-linecap="round" fill="none" opacity="0.9"/>
<path d="M369.7,1107.2 L381.7,1100.1 L386.6,1081.8" stroke="#cbc3a8" stroke-width="1.4" stroke-linejoin="round" stroke-linecap="round" fill="none" opacity="0.9"/>
<path d="M285.0,1032.0 L297.7,1030.2 L310.0,1035.0" stroke="#cbc3a8" stroke-width="1.4" stroke-linejoin="round" stroke-linecap="round" fill="none" opacity="0.9"/>
<path d="M282.0,1040.0 L289.2,1044.3 L292.0,1050.0" stroke="#cbc3a8" stroke-width="1.4" stroke-linejoin="round" stroke-linecap="round" fill="none" opacity="0.9"/>
<path d="M297.7,1030.2L309.8,1022.5" stroke="#cbc3a8" stroke-width="1.3" stroke-linecap="round" fill="none" opacity="0.85"/>
<path d="M289.2,1044.3L286.1,1051.8" stroke="#cbc3a8" stroke-width="0.8" stroke-linecap="round" fill="none" opacity="0.85"/>
<path d="M289.2,1044.3L298.0,1035.5" stroke="#cbc3a8" stroke-width="1.4" stroke-linecap="round" fill="none" opacity="0.85"/>
<path d="M289.2,1044.3L283.8,1053.2" stroke="#cbc3a8" stroke-width="1.0" stroke-linecap="round" fill="none" opacity="0.85"/>
<path d="M318.2,1048.6L328.9,1059.6" stroke="#cbc3a8" stroke-width="1.4" stroke-linecap="round" fill="none" opacity="0.85"/>
<path d="M268.0,1055.6L275.7,1052.3" stroke="#cbc3a8" stroke-width="0.8" stroke-linecap="round" fill="none" opacity="0.85"/>
<path d="M268.0,1055.6L258.9,1061.9" stroke="#cbc3a8" stroke-width="1.1" stroke-linecap="round" fill="none" opacity="0.85"/>
<path d="M220.8,1064.1L229.4,1070.1" stroke="#cbc3a8" stroke-width="1.1" stroke-linecap="round" fill="none" opacity="0.85"/>
<path d="M220.8,1064.1L212.4,1059.5" stroke="#cbc3a8" stroke-width="1.5" stroke-linecap="round" fill="none" opacity="0.85"/>
<path d="M220.8,1064.1L207.5,1061.8" stroke="#cbc3a8" stroke-width="1.3" stroke-linecap="round" fill="none" opacity="0.85"/>
<path d="M293.5,1080.3L288.7,1073.3" stroke="#cbc3a8" stroke-width="1.0" stroke-linecap="round" fill="none" opacity="0.85"/>
<path d="M293.5,1080.3L282.3,1080.4" stroke="#cbc3a8" stroke-width="1.4" stroke-linecap="round" fill="none" opacity="0.85"/>
<path d="M332.3,1064.1L340.9,1057.8" stroke="#cbc3a8" stroke-width="1.2" stroke-linecap="round" fill="none" opacity="0.85"/>
<path d="M345.7,1033.0L343.9,1022.3" stroke="#cbc3a8" stroke-width="1.0" stroke-linecap="round" fill="none" opacity="0.85"/>
<path d="M345.7,1033.0L339.8,1044.6" stroke="#cbc3a8" stroke-width="0.9" stroke-linecap="round" fill="none" opacity="0.85"/>
<path d="M345.7,1033.0L353.0,1028.3" stroke="#cbc3a8" stroke-width="1.4" stroke-linecap="round" fill="none" opacity="0.85"/>
<path d="M359.8,1035.2L346.8,1036.6" stroke="#cbc3a8" stroke-width="1.2" stroke-linecap="round" fill="none" opacity="0.85"/>
<path d="M359.8,1035.2L352.5,1038.7" stroke="#cbc3a8" stroke-width="1.2" stroke-linecap="round" fill="none" opacity="0.85"/>
<path d="M378.9,1039.4L387.7,1036.0" stroke="#cbc3a8" stroke-width="0.8" stroke-linecap="round" fill="none" opacity="0.85"/>
<path d="M378.9,1039.4L385.7,1037.6" stroke="#cbc3a8" stroke-width="1.2" stroke-linecap="round" fill="none" opacity="0.85"/>
<path d="M378.9,1039.4L385.5,1034.4" stroke="#cbc3a8" stroke-width="1.4" stroke-linecap="round" fill="none" opacity="0.85"/>
<path d="M387.3,1023.9L391.6,1016.6" stroke="#cbc3a8" stroke-width="0.9" stroke-linecap="round" fill="none" opacity="0.85"/>
<path d="M364.0,1011.2L351.1,1015.4" stroke="#cbc3a8" stroke-width="0.8" stroke-linecap="round" fill="none" opacity="0.85"/>
<path d="M374.6,1002.7L375.9,996.6" stroke="#cbc3a8" stroke-width="0.9" stroke-linecap="round" fill="none" opacity="0.85"/>
<path d="M374.6,1002.7L375.9,989.5" stroke="#cbc3a8" stroke-width="0.8" stroke-linecap="round" fill="none" opacity="0.85"/>
<path d="M292.0,997.0L302.7,1008.0" stroke="#cbc3a8" stroke-width="1.3" stroke-linecap="round" fill="none" opacity="0.85"/>
<path d="M292.0,997.0L286.0,996.1" stroke="#cbc3a8" stroke-width="1.2" stroke-linecap="round" fill="none" opacity="0.85"/>
<path d="M334.4,1004.1L338.1,1009.3" stroke="#cbc3a8" stroke-width="1.0" stroke-linecap="round" fill="none" opacity="0.85"/>
<path d="M385.2,1062.0L385.9,1051.1" stroke="#cbc3a8" stroke-width="1.0" stroke-linecap="round" fill="none" opacity="0.85"/>
<path d="M385.2,1062.0L390.3,1049.4" stroke="#cbc3a8" stroke-width="1.4" stroke-linecap="round" fill="none" opacity="0.85"/>
<path d="M385.2,1062.0L386.5,1053.9" stroke="#cbc3a8" stroke-width="1.3" stroke-linecap="round" fill="none" opacity="0.85"/>
<path d="M395.8,1076.1L399.1,1070.8" stroke="#cbc3a8" stroke-width="1.4" stroke-linecap="round" fill="none" opacity="0.85"/>
<path d="M395.8,1076.1L406.4,1072.5" stroke="#cbc3a8" stroke-width="1.3" stroke-linecap="round" fill="none" opacity="0.85"/>
<path d="M361.2,1076.8L361.4,1092.4" stroke="#cbc3a8" stroke-width="1.0" stroke-linecap="round" fill="none" opacity="0.85"/>
<path d="M361.2,1076.8L357.9,1089.4" stroke="#cbc3a8" stroke-width="1.5" stroke-linecap="round" fill="none" opacity="0.85"/>
<path d="M341.5,1090.2L348.0,1086.8" stroke="#cbc3a8" stroke-width="0.9" stroke-linecap="round" fill="none" opacity="0.85"/>
<path d="M341.5,1090.2L330.8,1093.2" stroke="#cbc3a8" stroke-width="1.5" stroke-linecap="round" fill="none" opacity="0.85"/>
<path d="M341.5,1090.2L349.8,1089.5" stroke="#cbc3a8" stroke-width="1.1" stroke-linecap="round" fill="none" opacity="0.85"/>
<path d="M346.4,1101.5L353.0,1091.2" stroke="#cbc3a8" stroke-width="1.4" stroke-linecap="round" fill="none" opacity="0.85"/>
<path d="M346.4,1101.5L342.5,1110.9" stroke="#cbc3a8" stroke-width="1.2" stroke-linecap="round" fill="none" opacity="0.85"/>
<path d="M314.0,1102.2L323.8,1104.4" stroke="#cbc3a8" stroke-width="0.9" stroke-linecap="round" fill="none" opacity="0.85"/>
<path d="M299.8,1110.0L306.6,1111.5" stroke="#cbc3a8" stroke-width="0.9" stroke-linecap="round" fill="none" opacity="0.85"/>
<path d="M299.8,1110.0L306.0,1110.9" stroke="#cbc3a8" stroke-width="1.3" stroke-linecap="round" fill="none" opacity="0.85"/>
<path d="M299.8,1110.0L287.8,1106.9" stroke="#cbc3a8" stroke-width="0.9" stroke-linecap="round" fill="none" opacity="0.85"/>
<path d="M328.8,1115.6L327.4,1105.4" stroke="#cbc3a8" stroke-width="1.2" stroke-linecap="round" fill="none" opacity="0.85"/>
<path d="M262.4,1091.6L272.5,1080.1" stroke="#cbc3a8" stroke-width="1.2" stroke-linecap="round" fill="none" opacity="0.85"/>
<path d="M262.4,1091.6L268.6,1082.7" stroke="#cbc3a8" stroke-width="0.8" stroke-linecap="round" fill="none" opacity="0.85"/>
<path d="M262.4,1091.6L267.3,1084.2" stroke="#cbc3a8" stroke-width="1.5" stroke-linecap="round" fill="none" opacity="0.85"/>
<path d="M275.1,1098.7L269.8,1112.5" stroke="#cbc3a8" stroke-width="1.1" stroke-linecap="round" fill="none" opacity="0.85"/>
<path d="M275.1,1098.7L281.4,1103.6" stroke="#cbc3a8" stroke-width="1.3" stroke-linecap="round" fill="none" opacity="0.85"/>
<path d="M263.1,1110.7L265.6,1104.6" stroke="#cbc3a8" stroke-width="1.2" stroke-linecap="round" fill="none" opacity="0.85"/>
<path d="M271.6,1117.8L276.1,1106.5" stroke="#cbc3a8" stroke-width="0.8" stroke-linecap="round" fill="none" opacity="0.85"/>
<path d="M271.6,1117.8L273.3,1102.5" stroke="#cbc3a8" stroke-width="0.9" stroke-linecap="round" fill="none" opacity="0.85"/>
<path d="M225.7,1114.2L229.9,1125.2" stroke="#cbc3a8" stroke-width="1.1" stroke-linecap="round" fill="none" opacity="0.85"/>
<path d="M225.7,1114.2L212.5,1117.3" stroke="#cbc3a8" stroke-width="1.1" stroke-linecap="round" fill="none" opacity="0.85"/>
<path d="M229.2,1127.0L229.0,1134.2" stroke="#cbc3a8" stroke-width="1.2" stroke-linecap="round" fill="none" opacity="0.85"/>
<path d="M379.6,1104.3L372.4,1115.0" stroke="#cbc3a8" stroke-width="0.8" stroke-linecap="round" fill="none" opacity="0.85"/>
<path d="M379.6,1104.3L373.3,1116.0" stroke="#cbc3a8" stroke-width="1.1" stroke-linecap="round" fill="none" opacity="0.85"/>
<path d="M393.0,1105.8L400.2,1103.9" stroke="#cbc3a8" stroke-width="1.1" stroke-linecap="round" fill="none" opacity="0.85"/>
<path d="M393.0,1105.8L378.4,1107.3" stroke="#cbc3a8" stroke-width="1.3" stroke-linecap="round" fill="none" opacity="0.85"/>
<path d="M395.1,1094.5L400.2,1080.1" stroke="#cbc3a8" stroke-width="1.4" stroke-linecap="round" fill="none" opacity="0.85"/>
<path d="M395.1,1094.5L392.7,1102.5" stroke="#cbc3a8" stroke-width="1.1" stroke-linecap="round" fill="none" opacity="0.85"/>
<path d="M395.1,1094.5L394.5,1104.8" stroke="#cbc3a8" stroke-width="1.3" stroke-linecap="round" fill="none" opacity="0.85"/>
<path d="M396.5,1119.9L384.3,1112.6" stroke="#cbc3a8" stroke-width="0.9" stroke-linecap="round" fill="none" opacity="0.85"/>
<path d="M272.3,996.4L277.4,1006.6" stroke="#cbc3a8" stroke-width="1.4" stroke-linecap="round" fill="none" opacity="0.85"/>
<path d="M272.3,996.4L283.5,988.1" stroke="#cbc3a8" stroke-width="1.4" stroke-linecap="round" fill="none" opacity="0.85"/>
<circle cx="248.3" cy="1024.6" r="15.0" fill="url(#hg_2)"/>
<circle cx="248.30" cy="1024.60" r="5.40" fill="#b5a27c" stroke="none" stroke-width="1" filter="url(#cb1)" opacity="0.7"/>
<circle cx="248.30" cy="1024.60" r="2.80" fill="#4e4f68" stroke="none" stroke-width="1" filter="url(#cb05)"/>
<circle cx="300.5" cy="1016.1" r="8.8" fill="url(#hg_2)"/>
<circle cx="300.50" cy="1016.10" r="3.15" fill="#b5a27c" stroke="none" stroke-width="1" filter="url(#cb1)" opacity="0.7"/>
<circle cx="300.50" cy="1016.10" r="2.80" fill="#4e4f68" stroke="none" stroke-width="1" filter="url(#cb05)"/>
<path d="M304.1,1026.8 Q306.6,1027.2 306.4,1028.4 Q306.2,1029.5 302.8,1031.5 Q299.3,1033.4 295.8,1033.8 Q292.4,1034.1 291.5,1033.6 Q290.7,1033.2 290.0,1031.9 Q289.4,1030.7 293.7,1028.7 Q298.0,1026.7 299.8,1026.5 Q301.6,1026.4 304.1,1026.8Z" fill="#b5a27c" stroke="none" stroke-width="1" filter="url(#cb05)"/>
<ellipse cx="297.7" cy="1030.2" rx="3.3" ry="2.4" transform="rotate(-20 297.7 1030.2)" fill="#4e4f68" filter="url(#cb05)"/>
<path d="M291.3,1038.6 Q292.9,1038.0 294.0,1038.3 Q295.2,1038.6 294.1,1042.0 Q293.0,1045.3 290.7,1048.2 Q288.5,1051.0 286.6,1051.2 Q284.8,1051.3 284.3,1049.7 Q283.7,1048.1 284.8,1045.5 Q285.8,1042.9 287.8,1041.1 Q289.8,1039.3 291.3,1038.6Z" fill="#b5a27c" stroke="none" stroke-width="1" filter="url(#cb05)"/>
<ellipse cx="289.2" cy="1044.3" rx="3.3" ry="2.4" transform="rotate(-60 289.2 1044.3)" fill="#4e4f68" filter="url(#cb05)"/>
<path d="M323.5,1053.2 Q323.3,1054.2 321.4,1054.2 Q319.6,1054.2 317.6,1052.2 Q315.5,1050.3 313.8,1047.7 Q312.1,1045.2 313.1,1044.1 Q314.1,1043.0 315.5,1042.7 Q316.8,1042.5 318.6,1044.6 Q320.5,1046.8 322.1,1049.5 Q323.8,1052.2 323.5,1053.2Z" fill="#b5a27c" stroke="none" stroke-width="1" filter="url(#cb05)"/>
<ellipse cx="318.2" cy="1048.6" rx="3.3" ry="2.4" transform="rotate(50 318.2 1048.6)" fill="#4e4f68" filter="url(#cb05)"/>
<path d="M274.6,1051.5 Q277.0,1052.0 275.9,1053.5 Q274.8,1054.9 271.5,1057.0 Q268.2,1059.1 266.6,1059.3 Q265.0,1059.4 263.2,1059.1 Q261.3,1058.8 261.7,1057.3 Q262.0,1055.8 263.7,1054.2 Q265.3,1052.5 268.8,1051.7 Q272.2,1050.9 274.6,1051.5Z" fill="#b5a27c" stroke="none" stroke-width="1" filter="url(#cb05)"/>
<ellipse cx="268.0" cy="1055.6" rx="3.3" ry="2.4" transform="rotate(-25 268.0 1055.6)" fill="#4e4f68" filter="url(#cb05)"/>
<circle cx="254.6" cy="1064.1" r="8.8" fill="url(#hg_2)"/>
<circle cx="254.60" cy="1064.10" r="3.15" fill="#b5a27c" stroke="none" stroke-width="1" filter="url(#cb1)" opacity="0.7"/>
<circle cx="254.60" cy="1064.10" r="2.80" fill="#4e4f68" stroke="none" stroke-width="1" filter="url(#cb05)"/>
<circle cx="268.0" cy="1070.5" r="8.8" fill="url(#hg_2)"/>
<circle cx="268.00" cy="1070.50" r="3.15" fill="#b5a27c" stroke="none" stroke-width="1" filter="url(#cb1)" opacity="0.7"/>
<circle cx="268.00" cy="1070.50" r="2.80" fill="#4e4f68" stroke="none" stroke-width="1" filter="url(#cb05)"/>
<path d="M227.8,1065.3 Q227.8,1067.0 226.2,1067.7 Q224.6,1068.4 222.1,1067.9 Q219.6,1067.4 217.4,1066.3 Q215.1,1065.2 214.0,1063.2 Q212.9,1061.2 213.8,1060.4 Q214.8,1059.6 219.2,1060.4 Q223.7,1061.3 225.8,1062.5 Q227.9,1063.6 227.8,1065.3Z" fill="#b5a27c" stroke="none" stroke-width="1" filter="url(#cb05)"/>
<ellipse cx="220.8" cy="1064.1" rx="3.3" ry="2.4" transform="rotate(20 220.8 1064.1)" fill="#4e4f68" filter="url(#cb05)"/>
<path d="M291.4,1076.9 Q293.3,1076.6 295.2,1076.1 Q297.0,1075.6 297.4,1078.1 Q297.8,1080.7 297.1,1082.3 Q296.4,1084.0 294.8,1084.8 Q293.2,1085.7 291.9,1085.4 Q290.6,1085.0 289.2,1082.4 Q287.8,1079.7 288.7,1078.5 Q289.5,1077.2 291.4,1076.9Z" fill="#b5a27c" stroke="none" stroke-width="1" filter="url(#cb05)" opacity="0.85"/>
<circle cx="293.50" cy="1080.30" r="2.73" fill="#4e4f68" stroke="none" stroke-width="1" filter="url(#cb05)"/>
<path d="M327.8,1063.2 Q328.2,1061.3 329.2,1059.4 Q330.1,1057.6 332.5,1058.9 Q334.9,1060.3 336.3,1061.4 Q337.7,1062.5 337.3,1064.1 Q336.9,1065.8 335.1,1067.8 Q333.3,1069.8 331.7,1069.6 Q330.1,1069.5 328.8,1067.3 Q327.5,1065.1 327.8,1063.2Z" fill="#b5a27c" stroke="none" stroke-width="1" filter="url(#cb05)"/>
<circle cx="332.30" cy="1064.10" r="4.50" fill="#3b2e2c" stroke="none" stroke-width="1" filter="url(#cb05)"/>
<path d="M342.3,1030.8 Q343.5,1029.1 344.6,1028.9 Q345.8,1028.7 347.9,1029.1 Q350.0,1029.5 350.4,1031.7 Q350.7,1034.0 350.0,1036.1 Q349.2,1038.3 347.2,1037.6 Q345.2,1036.9 343.2,1036.3 Q341.2,1035.8 341.1,1034.1 Q341.1,1032.4 342.3,1030.8Z" fill="#b5a27c" stroke="none" stroke-width="1" filter="url(#cb05)" opacity="0.85"/>
<circle cx="345.70" cy="1033.00" r="2.73" fill="#4e4f68" stroke="none" stroke-width="1" filter="url(#cb05)"/>
<path d="M365.6,1031.4 Q366.0,1032.5 365.7,1034.3 Q365.4,1036.2 363.0,1037.0 Q360.7,1037.8 358.2,1038.8 Q355.8,1039.7 353.2,1038.9 Q350.7,1038.1 352.0,1036.8 Q353.3,1035.5 355.8,1034.0 Q358.2,1032.4 361.8,1031.4 Q365.3,1030.3 365.6,1031.4Z" fill="#b5a27c" stroke="none" stroke-width="1" filter="url(#cb05)"/>
<ellipse cx="359.8" cy="1035.2" rx="3.3" ry="2.4" transform="rotate(-20 359.8 1035.2)" fill="#4e4f68" filter="url(#cb05)"/>
<path d="M383.7,1035.1 Q385.1,1035.8 385.6,1037.3 Q386.0,1038.8 383.6,1040.2 Q381.2,1041.6 378.3,1043.3 Q375.4,1045.0 373.1,1044.5 Q370.9,1044.1 372.4,1041.8 Q373.9,1039.6 375.3,1038.5 Q376.6,1037.5 379.5,1035.9 Q382.3,1034.4 383.7,1035.1Z" fill="#b5a27c" stroke="none" stroke-width="1" filter="url(#cb05)"/>
<ellipse cx="378.9" cy="1039.4" rx="3.3" ry="2.4" transform="rotate(-30 378.9 1039.4)" fill="#4e4f68" filter="url(#cb05)"/>
<path d="M388.9,1016.0 Q390.4,1015.0 390.8,1017.6 Q391.2,1020.1 390.7,1023.0 Q390.3,1025.8 388.8,1028.4 Q387.3,1031.0 386.1,1031.3 Q384.8,1031.5 383.7,1030.0 Q382.7,1028.5 383.2,1025.3 Q383.8,1022.1 385.6,1019.5 Q387.5,1017.0 388.9,1016.0Z" fill="#b5a27c" stroke="none" stroke-width="1" filter="url(#cb05)"/>
<ellipse cx="387.3" cy="1023.9" rx="3.3" ry="2.4" transform="rotate(-70 387.3 1023.9)" fill="#4e4f68" filter="url(#cb05)"/>
<path d="M368.7,1006.8 Q370.1,1007.9 370.3,1008.9 Q370.6,1009.9 368.6,1012.0 Q366.7,1014.1 363.8,1014.7 Q360.8,1015.4 359.0,1015.0 Q357.1,1014.6 356.7,1013.6 Q356.3,1012.6 358.9,1011.0 Q361.6,1009.3 364.4,1007.5 Q367.3,1005.7 368.7,1006.8Z" fill="#b5a27c" stroke="none" stroke-width="1" filter="url(#cb05)"/>
<ellipse cx="364.0" cy="1011.2" rx="3.3" ry="2.4" transform="rotate(-30 364.0 1011.2)" fill="#4e4f68" filter="url(#cb05)"/>
<path d="M376.1,996.0 Q377.9,994.5 378.2,995.8 Q378.4,997.2 377.9,1001.1 Q377.4,1004.9 376.1,1007.0 Q374.7,1009.1 373.1,1009.5 Q371.5,1009.9 370.9,1009.0 Q370.4,1008.2 371.1,1004.0 Q371.8,999.8 373.0,998.7 Q374.2,997.5 376.1,996.0Z" fill="#b5a27c" stroke="none" stroke-width="1" filter="url(#cb05)"/>
<ellipse cx="374.6" cy="1002.7" rx="3.3" ry="2.4" transform="rotate(-70 374.6 1002.7)" fill="#4e4f68" filter="url(#cb05)"/>
<path d="M292.1,993.8 Q293.0,993.6 294.7,994.6 Q296.3,995.5 296.5,996.8 Q296.6,998.1 294.8,999.7 Q292.9,1001.3 291.5,1000.6 Q290.1,1000.0 289.4,999.6 Q288.7,999.2 288.7,997.6 Q288.8,995.9 290.0,994.9 Q291.2,994.0 292.1,993.8Z" fill="#b5a27c" stroke="none" stroke-width="1" filter="url(#cb05)" opacity="0.85"/>
<circle cx="292.00" cy="997.00" r="2.34" fill="#4e4f68" stroke="none" stroke-width="1" filter="url(#cb05)"/>
<path d="M332.3,1001.3 Q332.6,999.8 333.7,1000.7 Q334.8,1001.6 336.0,1002.3 Q337.3,1003.1 337.4,1004.5 Q337.4,1005.9 336.5,1006.3 Q335.5,1006.6 334.5,1007.1 Q333.5,1007.7 332.6,1006.6 Q331.8,1005.4 331.9,1004.1 Q332.0,1002.9 332.3,1001.3Z" fill="#b5a27c" stroke="none" stroke-width="1" filter="url(#cb05)" opacity="0.85"/>
<circle cx="334.40" cy="1004.10" r="1.95" fill="#4e4f68" stroke="none" stroke-width="1" filter="url(#cb05)"/>
<path d="M385.2,1055.7 Q386.5,1053.9 387.6,1055.8 Q388.6,1057.7 388.3,1060.2 Q387.9,1062.7 386.9,1065.9 Q385.9,1069.1 385.1,1069.5 Q384.2,1069.9 382.9,1069.0 Q381.6,1068.0 381.6,1065.1 Q381.6,1062.3 382.7,1059.9 Q383.9,1057.5 385.2,1055.7Z" fill="#b5a27c" stroke="none" stroke-width="1" filter="url(#cb05)"/>
<ellipse cx="385.2" cy="1062.0" rx="3.3" ry="2.4" transform="rotate(-80 385.2 1062.0)" fill="#4e4f68" filter="url(#cb05)"/>
<path d="M395.9,1072.0 Q397.6,1071.9 398.7,1072.9 Q399.8,1073.9 399.8,1075.8 Q399.8,1077.8 398.9,1078.4 Q398.0,1079.0 396.7,1080.3 Q395.4,1081.7 394.2,1079.9 Q393.0,1078.1 392.9,1076.7 Q392.8,1075.3 393.5,1073.7 Q394.3,1072.0 395.9,1072.0Z" fill="#b5a27c" stroke="none" stroke-width="1" filter="url(#cb05)" opacity="0.85"/>
<circle cx="395.80" cy="1076.10" r="2.73" fill="#4e4f68" stroke="none" stroke-width="1" filter="url(#cb05)"/>
<path d="M361.2,1069.6 Q362.5,1069.4 363.2,1070.8 Q363.8,1072.2 364.0,1074.8 Q364.1,1077.4 363.4,1080.6 Q362.7,1083.7 361.1,1084.6 Q359.5,1085.5 358.6,1084.2 Q357.8,1083.0 357.5,1079.8 Q357.3,1076.5 358.5,1073.2 Q359.8,1069.8 361.2,1069.6Z" fill="#b5a27c" stroke="none" stroke-width="1" filter="url(#cb05)"/>
<ellipse cx="361.2" cy="1076.8" rx="3.3" ry="2.4" transform="rotate(-80 361.2 1076.8)" fill="#4e4f68" filter="url(#cb05)"/>
<path d="M347.6,1086.7 Q349.5,1087.5 347.9,1089.2 Q346.4,1090.8 343.8,1092.1 Q341.2,1093.3 339.5,1093.7 Q337.8,1094.2 336.4,1093.6 Q335.0,1093.0 335.1,1091.7 Q335.3,1090.3 337.4,1089.2 Q339.5,1088.0 342.6,1087.0 Q345.7,1085.9 347.6,1086.7Z" fill="#b5a27c" stroke="none" stroke-width="1" filter="url(#cb05)"/>
<ellipse cx="341.5" cy="1090.2" rx="3.3" ry="2.4" transform="rotate(-20 341.5 1090.2)" fill="#4e4f68" filter="url(#cb05)"/>
<path d="M349.0,1094.8 Q350.2,1094.9 350.5,1096.4 Q350.7,1097.9 349.7,1100.5 Q348.8,1103.0 347.0,1105.8 Q345.1,1108.6 343.9,1108.6 Q342.7,1108.6 342.4,1107.2 Q342.0,1105.8 342.6,1103.5 Q343.1,1101.3 345.5,1098.0 Q347.8,1094.7 349.0,1094.8Z" fill="#b5a27c" stroke="none" stroke-width="1" filter="url(#cb05)"/>
<ellipse cx="346.4" cy="1101.5" rx="3.3" ry="2.4" transform="rotate(-60 346.4 1101.5)" fill="#4e4f68" filter="url(#cb05)"/>
<path d="M328.1,1101.0 Q328.8,1099.7 329.8,1099.3 Q330.9,1098.9 333.5,1099.5 Q336.2,1100.1 336.6,1101.7 Q337.0,1103.4 336.0,1105.9 Q334.9,1108.5 333.8,1108.8 Q332.6,1109.1 330.0,1107.7 Q327.4,1106.4 327.3,1104.4 Q327.3,1102.4 328.1,1101.0Z" fill="#b5a27c" stroke="none" stroke-width="1" filter="url(#cb05)"/>
<circle cx="331.60" cy="1103.60" r="4.00" fill="#3b2e2c" stroke="none" stroke-width="1" filter="url(#cb05)"/>
<path d="M315.2,1097.2 Q317.8,1097.4 317.6,1099.3 Q317.3,1101.2 317.5,1103.3 Q317.6,1105.4 316.5,1105.7 Q315.4,1106.0 313.0,1106.2 Q310.6,1106.5 309.4,1105.0 Q308.2,1103.5 309.1,1102.2 Q310.0,1100.9 311.3,1099.0 Q312.7,1097.1 315.2,1097.2Z" fill="#b5a27c" stroke="none" stroke-width="1" filter="url(#cb05)" opacity="0.85"/>
<circle cx="314.00" cy="1102.20" r="2.73" fill="#4e4f68" stroke="none" stroke-width="1" filter="url(#cb05)"/>
<path d="M308.0,1111.8 Q308.4,1113.3 305.9,1113.7 Q303.4,1114.1 301.6,1113.6 Q299.8,1113.1 295.8,1111.3 Q291.7,1109.5 292.2,1108.1 Q292.6,1106.8 293.9,1106.2 Q295.1,1105.6 298.1,1106.3 Q301.2,1107.0 304.4,1108.7 Q307.6,1110.3 308.0,1111.8Z" fill="#b5a27c" stroke="none" stroke-width="1" filter="url(#cb05)"/>
<ellipse cx="299.8" cy="1110.0" rx="3.3" ry="2.4" transform="rotate(20 299.8 1110.0)" fill="#4e4f68" filter="url(#cb05)"/>
<path d="M328.5,1110.7 Q330.4,1111.2 331.8,1112.7 Q333.2,1114.2 332.9,1116.3 Q332.7,1118.4 331.0,1118.8 Q329.4,1119.2 327.2,1119.9 Q325.0,1120.5 324.2,1119.0 Q323.5,1117.5 323.7,1115.7 Q323.9,1114.0 325.2,1112.0 Q326.5,1110.1 328.5,1110.7Z" fill="#b5a27c" stroke="none" stroke-width="1" filter="url(#cb05)" opacity="0.85"/>
<circle cx="328.80" cy="1115.60" r="2.73" fill="#4e4f68" stroke="none" stroke-width="1" filter="url(#cb05)"/>
<path d="M264.8,1084.6 Q266.1,1084.0 266.8,1086.1 Q267.6,1088.2 266.0,1091.0 Q264.3,1093.7 262.9,1096.1 Q261.5,1098.4 259.9,1098.8 Q258.3,1099.2 258.2,1097.4 Q258.0,1095.6 258.9,1092.3 Q259.8,1088.9 261.7,1087.1 Q263.6,1085.2 264.8,1084.6Z" fill="#b5a27c" stroke="none" stroke-width="1" filter="url(#cb05)"/>
<ellipse cx="262.4" cy="1091.6" rx="3.3" ry="2.4" transform="rotate(-60 262.4 1091.6)" fill="#4e4f68" filter="url(#cb05)"/>
<path d="M276.5,1094.1 Q277.7,1094.4 278.4,1096.5 Q279.0,1098.5 279.0,1100.4 Q279.1,1102.2 276.8,1102.5 Q274.6,1102.7 272.7,1103.1 Q270.8,1103.4 270.5,1101.6 Q270.1,1099.9 271.0,1098.0 Q271.8,1096.2 273.5,1095.0 Q275.3,1093.8 276.5,1094.1Z" fill="#b5a27c" stroke="none" stroke-width="1" filter="url(#cb05)" opacity="0.85"/>
<circle cx="275.10" cy="1098.70" r="2.73" fill="#4e4f68" stroke="none" stroke-width="1" filter="url(#cb05)"/>
<path d="M265.2,1106.5 Q267.0,1105.6 267.9,1108.1 Q268.7,1110.6 267.7,1111.8 Q266.7,1113.0 264.9,1114.9 Q263.1,1116.7 261.8,1115.4 Q260.4,1114.0 259.4,1113.1 Q258.4,1112.1 259.3,1109.5 Q260.3,1107.0 261.8,1107.2 Q263.3,1107.4 265.2,1106.5Z" fill="#b5a27c" stroke="none" stroke-width="1" filter="url(#cb05)" opacity="0.85"/>
<circle cx="263.10" cy="1110.70" r="2.73" fill="#4e4f68" stroke="none" stroke-width="1" filter="url(#cb05)"/>
<path d="M271.8,1110.9 Q272.9,1109.7 273.7,1111.0 Q274.5,1112.3 274.6,1115.1 Q274.8,1117.9 273.5,1121.4 Q272.3,1124.9 271.5,1125.4 Q270.7,1125.9 269.6,1124.1 Q268.5,1122.3 268.6,1120.4 Q268.8,1118.6 269.7,1115.3 Q270.6,1112.0 271.8,1110.9Z" fill="#b5a27c" stroke="none" stroke-width="1" filter="url(#cb05)"/>
<ellipse cx="271.6" cy="1117.8" rx="3.3" ry="2.4" transform="rotate(-80 271.6 1117.8)" fill="#4e4f68" filter="url(#cb05)"/>
<circle cx="287.1" cy="1122.0" r="7.5" fill="url(#hg_2)"/>
<circle cx="287.10" cy="1122.00" r="2.70" fill="#b5a27c" stroke="none" stroke-width="1" filter="url(#cb1)" opacity="0.7"/>
<circle cx="287.10" cy="1122.00" r="2.80" fill="#4e4f68" stroke="none" stroke-width="1" filter="url(#cb05)"/>
<path d="M227.5,1110.0 Q228.1,1111.1 229.7,1112.3 Q231.2,1113.5 229.9,1115.6 Q228.6,1117.7 226.8,1117.8 Q225.1,1117.9 224.0,1117.2 Q222.9,1116.5 222.3,1115.4 Q221.6,1114.4 221.8,1113.0 Q222.0,1111.6 224.4,1110.3 Q226.8,1109.0 227.5,1110.0Z" fill="#b5a27c" stroke="none" stroke-width="1" filter="url(#cb05)" opacity="0.85"/>
<circle cx="225.70" cy="1114.20" r="2.73" fill="#4e4f68" stroke="none" stroke-width="1" filter="url(#cb05)"/>
<path d="M233.4,1124.2 Q234.3,1125.1 234.4,1127.0 Q234.5,1128.9 232.0,1129.8 Q229.6,1130.8 228.3,1130.7 Q227.1,1130.5 226.2,1129.3 Q225.3,1128.1 225.0,1127.0 Q224.7,1125.9 226.4,1124.5 Q228.2,1123.1 230.4,1123.2 Q232.5,1123.3 233.4,1124.2Z" fill="#b5a27c" stroke="none" stroke-width="1" filter="url(#cb05)" opacity="0.85"/>
<circle cx="229.20" cy="1127.00" r="2.73" fill="#4e4f68" stroke="none" stroke-width="1" filter="url(#cb05)"/>
<path d="M380.3,1095.9 Q382.4,1094.6 383.4,1097.0 Q384.5,1099.4 383.6,1102.9 Q382.7,1106.5 381.5,1108.3 Q380.2,1110.1 378.5,1110.8 Q376.8,1111.5 375.6,1110.5 Q374.3,1109.4 375.3,1106.5 Q376.3,1103.6 377.3,1100.5 Q378.3,1097.3 380.3,1095.9Z" fill="#b5a27c" stroke="none" stroke-width="1" filter="url(#cb05)"/>
<ellipse cx="379.6" cy="1104.3" rx="3.8" ry="2.8" transform="rotate(-70 379.6 1104.3)" fill="#4e4f68" filter="url(#cb05)"/>
<path d="M388.1,1107.0 Q386.7,1105.0 388.5,1104.3 Q390.3,1103.5 391.7,1101.9 Q393.2,1100.3 394.9,1102.2 Q396.7,1104.0 396.8,1105.1 Q396.8,1106.2 396.0,1107.4 Q395.2,1108.5 393.5,1109.4 Q391.8,1110.2 390.6,1109.6 Q389.5,1108.9 388.1,1107.0Z" fill="#b5a27c" stroke="none" stroke-width="1" filter="url(#cb05)" opacity="0.85"/>
<circle cx="393.00" cy="1105.80" r="2.73" fill="#4e4f68" stroke="none" stroke-width="1" filter="url(#cb05)"/>
<path d="M390.9,1095.7 Q390.3,1093.7 391.5,1092.8 Q392.6,1091.8 393.5,1090.7 Q394.3,1089.6 396.6,1089.8 Q398.8,1090.0 400.0,1091.9 Q401.1,1093.9 399.6,1096.1 Q398.1,1098.3 396.2,1099.1 Q394.2,1099.8 392.9,1098.7 Q391.6,1097.6 390.9,1095.7Z" fill="#b5a27c" stroke="none" stroke-width="1" filter="url(#cb05)" opacity="0.85"/>
<circle cx="395.10" cy="1094.50" r="2.73" fill="#4e4f68" stroke="none" stroke-width="1" filter="url(#cb05)"/>
<path d="M393.1,1121.3 Q392.6,1119.3 393.0,1118.4 Q393.4,1117.6 394.7,1116.7 Q396.0,1115.8 398.7,1116.0 Q401.5,1116.3 401.0,1118.1 Q400.6,1120.0 400.7,1121.8 Q400.7,1123.5 398.7,1124.1 Q396.7,1124.6 395.2,1123.9 Q393.7,1123.2 393.1,1121.3Z" fill="#b5a27c" stroke="none" stroke-width="1" filter="url(#cb05)" opacity="0.85"/>
<circle cx="396.50" cy="1119.90" r="2.73" fill="#4e4f68" stroke="none" stroke-width="1" filter="url(#cb05)"/>
<path d="M268.2,995.7 Q267.5,993.8 268.6,992.9 Q269.7,991.9 271.8,992.7 Q273.9,993.6 275.0,994.4 Q276.1,995.3 276.1,996.9 Q276.2,998.5 275.0,999.9 Q273.8,1001.2 272.2,1000.9 Q270.5,1000.6 269.8,999.1 Q269.0,997.5 268.2,995.7Z" fill="#b5a27c" stroke="none" stroke-width="1" filter="url(#cb05)" opacity="0.85"/>
<circle cx="272.30" cy="996.40" r="2.34" fill="#4e4f68" stroke="none" stroke-width="1" filter="url(#cb05)"/>
</g>
<rect x="408.50" y="995.00" width="184.20" height="136.90" fill="#f1f8f5"/>
<g clip-path="url(#cl3)">
<path d="M434.6,1062.0 L455.1,1062.7 L471.3,1063.4" stroke="#c2bca8" stroke-width="1.4" stroke-linejoin="round" stroke-linecap="round" fill="none" opacity="0.9"/>
<path d="M485.5,1067.6 L510.2,1063.4 L529.2,1059.9" stroke="#c2bca8" stroke-width="1.4" stroke-linejoin="round" stroke-linecap="round" fill="none" opacity="0.9"/>
<path d="M409.2,1083.2 L419.8,1076.1 L427.6,1062.0" stroke="#c2bca8" stroke-width="1.4" stroke-linejoin="round" stroke-linecap="round" fill="none" opacity="0.9"/>
<path d="M502.4,1051.4 L511.6,1038.0 L515.1,1026.7" stroke="#c2bca8" stroke-width="1.4" stroke-linejoin="round" stroke-linecap="round" fill="none" opacity="0.9"/>
<path d="M516.5,1047.2 L529.2,1035.2 L540.5,1028.1" stroke="#c2bca8" stroke-width="1.4" stroke-linejoin="round" stroke-linecap="round" fill="none" opacity="0.9"/>
<path d="M584.3,1043.6 L591.3,1057.8" stroke="#c2bca8" stroke-width="1.4" stroke-linejoin="round" stroke-linecap="round" fill="none" opacity="0.9"/>
<path d="M439.6,1009.1L447.3,1016.7" stroke="#c2bca8" stroke-width="1.2" stroke-linecap="round" fill="none" opacity="0.85"/>
<path d="M439.6,1009.1L430.2,1010.1" stroke="#c2bca8" stroke-width="0.8" stroke-linecap="round" fill="none" opacity="0.85"/>
<path d="M455.8,1006.2L466.0,1007.5" stroke="#c2bca8" stroke-width="1.1" stroke-linecap="round" fill="none" opacity="0.85"/>
<path d="M462.2,1017.5L473.9,1020.8" stroke="#c2bca8" stroke-width="0.8" stroke-linecap="round" fill="none" opacity="0.85"/>
<path d="M429.7,1023.2L419.8,1017.3" stroke="#c2bca8" stroke-width="1.4" stroke-linecap="round" fill="none" opacity="0.85"/>
<path d="M429.7,1023.2L428.2,1031.4" stroke="#c2bca8" stroke-width="0.8" stroke-linecap="round" fill="none" opacity="0.85"/>
<path d="M429.7,1023.2L436.8,1023.5" stroke="#c2bca8" stroke-width="1.2" stroke-linecap="round" fill="none" opacity="0.85"/>
<path d="M448.1,1026.7L456.9,1025.1" stroke="#c2bca8" stroke-width="1.0" stroke-linecap="round" fill="none" opacity="0.85"/>
<path d="M472.1,1035.2L486.3,1039.1" stroke="#c2bca8" stroke-width="1.0" stroke-linecap="round" fill="none" opacity="0.85"/>
<path d="M472.1,1035.2L486.6,1031.4" stroke="#c2bca8" stroke-width="1.1" stroke-linecap="round" fill="none" opacity="0.85"/>
<path d="M472.1,1035.2L461.2,1038.0" stroke="#c2bca8" stroke-width="1.3" stroke-linecap="round" fill="none" opacity="0.85"/>
<path d="M493.9,1035.2L490.9,1028.8" stroke="#c2bca8" stroke-width="1.5" stroke-linecap="round" fill="none" opacity="0.85"/>
<path d="M493.9,1035.2L497.2,1027.1" stroke="#c2bca8" stroke-width="1.2" stroke-linecap="round" fill="none" opacity="0.85"/>
<path d="M493.9,1035.2L490.6,1020.2" stroke="#c2bca8" stroke-width="1.1" stroke-linecap="round" fill="none" opacity="0.85"/>
<path d="M511.6,1038.0L500.2,1036.5" stroke="#c2bca8" stroke-width="0.8" stroke-linecap="round" fill="none" opacity="0.85"/>
<path d="M511.6,1038.0L501.4,1044.0" stroke="#c2bca8" stroke-width="0.8" stroke-linecap="round" fill="none" opacity="0.85"/>
<path d="M529.2,1035.2L523.0,1031.3" stroke="#c2bca8" stroke-width="1.2" stroke-linecap="round" fill="none" opacity="0.85"/>
<path d="M529.2,1035.2L524.5,1043.5" stroke="#c2bca8" stroke-width="1.4" stroke-linecap="round" fill="none" opacity="0.85"/>
<path d="M529.2,1035.2L522.4,1029.6" stroke="#c2bca8" stroke-width="1.1" stroke-linecap="round" fill="none" opacity="0.85"/>
<path d="M444.5,1044.3L456.3,1049.0" stroke="#c2bca8" stroke-width="1.5" stroke-linecap="round" fill="none" opacity="0.85"/>
<path d="M444.5,1044.3L444.4,1054.9" stroke="#c2bca8" stroke-width="1.2" stroke-linecap="round" fill="none" opacity="0.85"/>
<path d="M444.5,1044.3L440.4,1053.0" stroke="#c2bca8" stroke-width="1.0" stroke-linecap="round" fill="none" opacity="0.85"/>
<path d="M469.2,1044.3L474.0,1037.1" stroke="#c2bca8" stroke-width="1.4" stroke-linecap="round" fill="none" opacity="0.85"/>
<path d="M469.2,1044.3L480.4,1053.0" stroke="#c2bca8" stroke-width="1.5" stroke-linecap="round" fill="none" opacity="0.85"/>
<path d="M486.2,1042.9L485.4,1033.8" stroke="#c2bca8" stroke-width="1.0" stroke-linecap="round" fill="none" opacity="0.85"/>
<path d="M486.2,1042.9L489.0,1035.0" stroke="#c2bca8" stroke-width="0.9" stroke-linecap="round" fill="none" opacity="0.85"/>
<path d="M486.2,1042.9L474.3,1048.0" stroke="#c2bca8" stroke-width="0.9" stroke-linecap="round" fill="none" opacity="0.85"/>
<path d="M413.5,1049.3L425.6,1045.3" stroke="#c2bca8" stroke-width="1.0" stroke-linecap="round" fill="none" opacity="0.85"/>
<path d="M413.5,1049.3L419.2,1034.8" stroke="#c2bca8" stroke-width="0.9" stroke-linecap="round" fill="none" opacity="0.85"/>
<path d="M503.8,999.2L495.1,987.2" stroke="#c2bca8" stroke-width="1.1" stroke-linecap="round" fill="none" opacity="0.85"/>
<path d="M503.8,999.2L504.9,1006.3" stroke="#c2bca8" stroke-width="1.2" stroke-linecap="round" fill="none" opacity="0.85"/>
<path d="M503.8,999.2L508.9,1012.3" stroke="#c2bca8" stroke-width="1.4" stroke-linecap="round" fill="none" opacity="0.85"/>
<path d="M587.1,996.4L593.3,989.3" stroke="#c2bca8" stroke-width="1.4" stroke-linecap="round" fill="none" opacity="0.85"/>
<path d="M570.9,1040.1L574.2,1031.2" stroke="#c2bca8" stroke-width="0.9" stroke-linecap="round" fill="none" opacity="0.85"/>
<path d="M590.6,1057.8L576.2,1056.1" stroke="#c2bca8" stroke-width="1.1" stroke-linecap="round" fill="none" opacity="0.85"/>
<path d="M590.6,1057.8L584.7,1051.2" stroke="#c2bca8" stroke-width="1.2" stroke-linecap="round" fill="none" opacity="0.85"/>
<path d="M573.7,1063.4L580.3,1059.8" stroke="#c2bca8" stroke-width="0.8" stroke-linecap="round" fill="none" opacity="0.85"/>
<path d="M455.1,1062.7L465.4,1061.9" stroke="#c2bca8" stroke-width="1.5" stroke-linecap="round" fill="none" opacity="0.85"/>
<path d="M455.1,1062.7L462.5,1059.1" stroke="#c2bca8" stroke-width="1.3" stroke-linecap="round" fill="none" opacity="0.85"/>
<path d="M455.1,1062.7L461.6,1051.9" stroke="#c2bca8" stroke-width="1.2" stroke-linecap="round" fill="none" opacity="0.85"/>
<path d="M510.2,1063.4L495.9,1059.3" stroke="#c2bca8" stroke-width="1.4" stroke-linecap="round" fill="none" opacity="0.85"/>
<path d="M510.2,1063.4L520.1,1051.2" stroke="#c2bca8" stroke-width="0.9" stroke-linecap="round" fill="none" opacity="0.85"/>
<path d="M535.6,1055.0L550.0,1059.2" stroke="#c2bca8" stroke-width="1.3" stroke-linecap="round" fill="none" opacity="0.85"/>
<path d="M541.2,1062.0L553.1,1052.9" stroke="#c2bca8" stroke-width="1.2" stroke-linecap="round" fill="none" opacity="0.85"/>
<path d="M419.8,1076.1L412.6,1077.0" stroke="#c2bca8" stroke-width="1.2" stroke-linecap="round" fill="none" opacity="0.85"/>
<path d="M493.9,1074.7L488.0,1065.1" stroke="#c2bca8" stroke-width="1.1" stroke-linecap="round" fill="none" opacity="0.85"/>
<path d="M484.8,1081.0L490.3,1085.7" stroke="#c2bca8" stroke-width="1.5" stroke-linecap="round" fill="none" opacity="0.85"/>
<path d="M484.8,1081.0L471.1,1077.4" stroke="#c2bca8" stroke-width="0.8" stroke-linecap="round" fill="none" opacity="0.85"/>
<path d="M484.8,1081.0L486.1,1088.1" stroke="#c2bca8" stroke-width="1.4" stroke-linecap="round" fill="none" opacity="0.85"/>
<path d="M491.1,1082.5L497.7,1094.7" stroke="#c2bca8" stroke-width="1.4" stroke-linecap="round" fill="none" opacity="0.85"/>
<path d="M533.5,1073.3L536.2,1067.9" stroke="#c2bca8" stroke-width="1.2" stroke-linecap="round" fill="none" opacity="0.85"/>
<path d="M545.5,1076.1L553.8,1078.8" stroke="#c2bca8" stroke-width="1.0" stroke-linecap="round" fill="none" opacity="0.85"/>
<path d="M545.5,1076.1L535.4,1074.4" stroke="#c2bca8" stroke-width="1.1" stroke-linecap="round" fill="none" opacity="0.85"/>
<path d="M422.6,1087.4L431.2,1076.6" stroke="#c2bca8" stroke-width="0.8" stroke-linecap="round" fill="none" opacity="0.85"/>
<path d="M435.4,1093.0L449.7,1099.6" stroke="#c2bca8" stroke-width="1.4" stroke-linecap="round" fill="none" opacity="0.85"/>
<path d="M471.3,1087.4L460.5,1086.3" stroke="#c2bca8" stroke-width="0.9" stroke-linecap="round" fill="none" opacity="0.85"/>
<path d="M462.2,1095.2L454.8,1105.2" stroke="#c2bca8" stroke-width="1.2" stroke-linecap="round" fill="none" opacity="0.85"/>
<path d="M429.7,1098.0L428.2,1113.8" stroke="#c2bca8" stroke-width="1.1" stroke-linecap="round" fill="none" opacity="0.85"/>
<path d="M429.7,1098.0L433.9,1102.3" stroke="#c2bca8" stroke-width="1.3" stroke-linecap="round" fill="none" opacity="0.85"/>
<path d="M524.3,1086.7L518.4,1084.1" stroke="#c2bca8" stroke-width="1.1" stroke-linecap="round" fill="none" opacity="0.85"/>
<path d="M550.4,1086.7L552.4,1077.1" stroke="#c2bca8" stroke-width="1.4" stroke-linecap="round" fill="none" opacity="0.85"/>
<path d="M550.4,1086.7L543.0,1079.5" stroke="#c2bca8" stroke-width="1.1" stroke-linecap="round" fill="none" opacity="0.85"/>
<path d="M550.4,1086.7L537.4,1087.0" stroke="#c2bca8" stroke-width="1.1" stroke-linecap="round" fill="none" opacity="0.85"/>
<path d="M531.3,1095.2L525.9,1098.2" stroke="#c2bca8" stroke-width="1.0" stroke-linecap="round" fill="none" opacity="0.85"/>
<path d="M531.3,1095.2L529.8,1107.0" stroke="#c2bca8" stroke-width="1.4" stroke-linecap="round" fill="none" opacity="0.85"/>
<path d="M531.3,1095.2L532.5,1102.4" stroke="#c2bca8" stroke-width="0.8" stroke-linecap="round" fill="none" opacity="0.85"/>
<path d="M538.4,1097.3L527.9,1107.9" stroke="#c2bca8" stroke-width="1.4" stroke-linecap="round" fill="none" opacity="0.85"/>
<path d="M538.4,1097.3L537.6,1107.9" stroke="#c2bca8" stroke-width="0.9" stroke-linecap="round" fill="none" opacity="0.85"/>
<path d="M492.5,1098.0L484.7,1085.3" stroke="#c2bca8" stroke-width="1.4" stroke-linecap="round" fill="none" opacity="0.85"/>
<path d="M492.5,1098.0L485.9,1086.4" stroke="#c2bca8" stroke-width="1.2" stroke-linecap="round" fill="none" opacity="0.85"/>
<path d="M492.5,1098.0L502.0,1105.2" stroke="#c2bca8" stroke-width="0.8" stroke-linecap="round" fill="none" opacity="0.85"/>
<path d="M503.8,1098.7L504.7,1108.5" stroke="#c2bca8" stroke-width="1.2" stroke-linecap="round" fill="none" opacity="0.85"/>
<path d="M567.3,1100.1L579.3,1108.7" stroke="#c2bca8" stroke-width="0.9" stroke-linecap="round" fill="none" opacity="0.85"/>
<path d="M567.3,1100.1L581.6,1102.2" stroke="#c2bca8" stroke-width="0.9" stroke-linecap="round" fill="none" opacity="0.85"/>
<path d="M567.3,1100.1L574.4,1089.5" stroke="#c2bca8" stroke-width="1.4" stroke-linecap="round" fill="none" opacity="0.85"/>
<path d="M436.1,1107.9L423.8,1101.2" stroke="#c2bca8" stroke-width="0.8" stroke-linecap="round" fill="none" opacity="0.85"/>
<path d="M436.1,1107.9L437.3,1096.9" stroke="#c2bca8" stroke-width="1.3" stroke-linecap="round" fill="none" opacity="0.85"/>
<path d="M443.1,1112.8L436.5,1110.5" stroke="#c2bca8" stroke-width="1.2" stroke-linecap="round" fill="none" opacity="0.85"/>
<path d="M484.1,1105.0L478.9,1115.4" stroke="#c2bca8" stroke-width="1.4" stroke-linecap="round" fill="none" opacity="0.85"/>
<path d="M484.1,1105.0L484.5,1112.8" stroke="#c2bca8" stroke-width="1.0" stroke-linecap="round" fill="none" opacity="0.85"/>
<path d="M484.1,1105.0L474.0,1096.0" stroke="#c2bca8" stroke-width="1.1" stroke-linecap="round" fill="none" opacity="0.85"/>
<path d="M465.7,1113.5L453.2,1104.5" stroke="#c2bca8" stroke-width="1.2" stroke-linecap="round" fill="none" opacity="0.85"/>
<path d="M465.7,1113.5L475.2,1111.5" stroke="#c2bca8" stroke-width="1.0" stroke-linecap="round" fill="none" opacity="0.85"/>
<path d="M523.6,1107.2L532.3,1094.2" stroke="#c2bca8" stroke-width="1.1" stroke-linecap="round" fill="none" opacity="0.85"/>
<path d="M523.6,1107.2L512.9,1102.3" stroke="#c2bca8" stroke-width="1.4" stroke-linecap="round" fill="none" opacity="0.85"/>
<path d="M550.4,1106.5L538.0,1107.8" stroke="#c2bca8" stroke-width="1.4" stroke-linecap="round" fill="none" opacity="0.85"/>
<path d="M550.4,1106.5L554.5,1112.1" stroke="#c2bca8" stroke-width="1.3" stroke-linecap="round" fill="none" opacity="0.85"/>
<path d="M550.4,1106.5L560.1,1100.9" stroke="#c2bca8" stroke-width="1.1" stroke-linecap="round" fill="none" opacity="0.85"/>
<path d="M555.3,1107.2L559.9,1101.5" stroke="#c2bca8" stroke-width="1.3" stroke-linecap="round" fill="none" opacity="0.85"/>
<path d="M555.3,1107.2L562.1,1116.1" stroke="#c2bca8" stroke-width="1.5" stroke-linecap="round" fill="none" opacity="0.85"/>
<path d="M555.3,1107.2L562.1,1098.1" stroke="#c2bca8" stroke-width="1.3" stroke-linecap="round" fill="none" opacity="0.85"/>
<path d="M515.1,1112.8L512.3,1103.1" stroke="#c2bca8" stroke-width="1.4" stroke-linecap="round" fill="none" opacity="0.85"/>
<path d="M515.1,1112.8L507.6,1108.4" stroke="#c2bca8" stroke-width="1.0" stroke-linecap="round" fill="none" opacity="0.85"/>
<path d="M515.1,1112.8L525.8,1114.4" stroke="#c2bca8" stroke-width="1.1" stroke-linecap="round" fill="none" opacity="0.85"/>
<path d="M525.0,1115.6L517.4,1112.0" stroke="#c2bca8" stroke-width="1.1" stroke-linecap="round" fill="none" opacity="0.85"/>
<path d="M534.2,1114.2L522.9,1120.6" stroke="#c2bca8" stroke-width="1.3" stroke-linecap="round" fill="none" opacity="0.85"/>
<path d="M539.8,1115.6L525.7,1118.5" stroke="#c2bca8" stroke-width="1.4" stroke-linecap="round" fill="none" opacity="0.85"/>
<path d="M530.6,1119.2L546.3,1122.0" stroke="#c2bca8" stroke-width="0.9" stroke-linecap="round" fill="none" opacity="0.85"/>
<path d="M530.6,1119.2L543.7,1114.7" stroke="#c2bca8" stroke-width="1.4" stroke-linecap="round" fill="none" opacity="0.85"/>
<path d="M530.6,1119.2L545.1,1123.5" stroke="#c2bca8" stroke-width="1.4" stroke-linecap="round" fill="none" opacity="0.85"/>
<path d="M549.0,1118.5L546.4,1106.0" stroke="#c2bca8" stroke-width="1.5" stroke-linecap="round" fill="none" opacity="0.85"/>
<path d="M549.0,1118.5L554.1,1111.8" stroke="#c2bca8" stroke-width="0.9" stroke-linecap="round" fill="none" opacity="0.85"/>
<path d="M549.0,1118.5L548.6,1126.4" stroke="#c2bca8" stroke-width="1.3" stroke-linecap="round" fill="none" opacity="0.85"/>
<path d="M558.2,1120.6L565.1,1115.6" stroke="#c2bca8" stroke-width="1.4" stroke-linecap="round" fill="none" opacity="0.85"/>
<path d="M568.8,1119.9L571.6,1126.2" stroke="#c2bca8" stroke-width="1.4" stroke-linecap="round" fill="none" opacity="0.85"/>
<path d="M568.8,1119.9L575.2,1125.7" stroke="#c2bca8" stroke-width="1.4" stroke-linecap="round" fill="none" opacity="0.85"/>
<path d="M522.9,1122.7L515.6,1132.0" stroke="#c2bca8" stroke-width="1.3" stroke-linecap="round" fill="none" opacity="0.85"/>
<path d="M510.2,1125.5L519.4,1127.2" stroke="#c2bca8" stroke-width="1.1" stroke-linecap="round" fill="none" opacity="0.85"/>
<path d="M517.2,1129.0L520.1,1140.5" stroke="#c2bca8" stroke-width="1.5" stroke-linecap="round" fill="none" opacity="0.85"/>
<path d="M483.3,1127.6L489.8,1134.1" stroke="#c2bca8" stroke-width="1.4" stroke-linecap="round" fill="none" opacity="0.85"/>
<path d="M483.3,1127.6L492.5,1132.4" stroke="#c2bca8" stroke-width="1.1" stroke-linecap="round" fill="none" opacity="0.85"/>
<path d="M491.1,1126.2L497.0,1122.4" stroke="#c2bca8" stroke-width="1.5" stroke-linecap="round" fill="none" opacity="0.85"/>
<path d="M491.1,1126.2L481.4,1136.0" stroke="#c2bca8" stroke-width="1.3" stroke-linecap="round" fill="none" opacity="0.85"/>
<path d="M491.1,1126.2L487.5,1138.4" stroke="#c2bca8" stroke-width="1.3" stroke-linecap="round" fill="none" opacity="0.85"/>
<path d="M539.8,1129.8L551.9,1139.4" stroke="#c2bca8" stroke-width="1.0" stroke-linecap="round" fill="none" opacity="0.85"/>
<path d="M539.8,1129.8L529.5,1125.3" stroke="#c2bca8" stroke-width="1.3" stroke-linecap="round" fill="none" opacity="0.85"/>
<path d="M443.8,1129.8L435.9,1140.4" stroke="#c2bca8" stroke-width="1.3" stroke-linecap="round" fill="none" opacity="0.85"/>
<path d="M443.8,1129.8L436.7,1126.6" stroke="#c2bca8" stroke-width="1.3" stroke-linecap="round" fill="none" opacity="0.85"/>
<path d="M443.8,1129.8L438.5,1124.1" stroke="#c2bca8" stroke-width="1.4" stroke-linecap="round" fill="none" opacity="0.85"/>
<path d="M410.0,1122.0L403.2,1124.0" stroke="#c2bca8" stroke-width="1.2" stroke-linecap="round" fill="none" opacity="0.85"/>
<path d="M410.0,1122.0L420.9,1116.1" stroke="#c2bca8" stroke-width="1.3" stroke-linecap="round" fill="none" opacity="0.85"/>
<path d="M410.0,1122.0L402.1,1126.3" stroke="#c2bca8" stroke-width="0.9" stroke-linecap="round" fill="none" opacity="0.85"/>
<path d="M470.0,1003.0L467.0,1010.2" stroke="#c2bca8" stroke-width="0.8" stroke-linecap="round" fill="none" opacity="0.85"/>
<path d="M470.0,1003.0L467.1,989.8" stroke="#c2bca8" stroke-width="1.2" stroke-linecap="round" fill="none" opacity="0.85"/>
<path d="M436.3,1007.2 Q436.6,1006.2 437.8,1004.8 Q439.1,1003.5 440.6,1004.5 Q442.0,1005.6 443.5,1007.4 Q444.9,1009.1 443.8,1010.7 Q442.8,1012.2 441.4,1013.0 Q440.0,1013.8 438.2,1012.6 Q436.5,1011.4 436.3,1009.8 Q436.1,1008.2 436.3,1007.2Z" fill="#a89a7e" stroke="none" stroke-width="1" filter="url(#cb05)" opacity="0.85"/>
<circle cx="439.60" cy="1009.10" r="2.65" fill="#45454f" stroke="none" stroke-width="1" filter="url(#cb05)"/>
<path d="M456.9,1002.2 Q457.9,1003.1 459.4,1004.6 Q460.9,1006.1 459.8,1007.1 Q458.7,1008.1 457.3,1009.8 Q455.9,1011.4 453.8,1010.7 Q451.6,1010.0 451.9,1008.3 Q452.2,1006.6 452.7,1005.3 Q453.1,1004.0 454.5,1002.7 Q455.9,1001.4 456.9,1002.2Z" fill="#a89a7e" stroke="none" stroke-width="1" filter="url(#cb05)" opacity="0.85"/>
<circle cx="455.80" cy="1006.20" r="2.65" fill="#45454f" stroke="none" stroke-width="1" filter="url(#cb05)"/>
<path d="M464.9,1013.2 Q466.5,1013.7 467.1,1015.3 Q467.8,1016.9 466.2,1019.6 Q464.6,1022.4 463.0,1022.3 Q461.4,1022.1 459.6,1021.3 Q457.8,1020.5 457.6,1018.4 Q457.4,1016.2 458.1,1014.9 Q458.8,1013.6 461.0,1013.2 Q463.3,1012.7 464.9,1013.2Z" fill="#a89a7e" stroke="none" stroke-width="1" filter="url(#cb05)" opacity="0.85"/>
<circle cx="462.20" cy="1017.50" r="2.65" fill="#45454f" stroke="none" stroke-width="1" filter="url(#cb05)"/>
<path d="M425.7,1020.9 Q425.3,1019.6 427.6,1019.1 Q430.0,1018.7 431.4,1019.6 Q432.9,1020.5 433.6,1021.9 Q434.3,1023.3 433.9,1024.8 Q433.5,1026.4 431.5,1027.0 Q429.4,1027.6 427.5,1027.1 Q425.5,1026.6 425.8,1024.4 Q426.2,1022.1 425.7,1020.9Z" fill="#a89a7e" stroke="none" stroke-width="1" filter="url(#cb05)" opacity="0.85"/>
<circle cx="429.70" cy="1023.20" r="2.65" fill="#45454f" stroke="none" stroke-width="1" filter="url(#cb05)"/>
<path d="M444.1,1025.5 Q445.3,1024.4 446.2,1023.7 Q447.1,1022.9 448.6,1022.9 Q450.0,1022.8 451.2,1025.0 Q452.3,1027.1 452.1,1028.9 Q452.0,1030.6 451.0,1031.3 Q450.1,1032.1 447.4,1031.4 Q444.7,1030.8 443.7,1028.7 Q442.8,1026.6 444.1,1025.5Z" fill="#a89a7e" stroke="none" stroke-width="1" filter="url(#cb05)" opacity="0.85"/>
<circle cx="448.10" cy="1026.70" r="2.65" fill="#45454f" stroke="none" stroke-width="1" filter="url(#cb05)"/>
<path d="M473.2,1030.2 Q475.6,1030.1 476.0,1032.2 Q476.3,1034.2 475.9,1035.9 Q475.6,1037.6 474.4,1037.9 Q473.3,1038.2 472.0,1038.6 Q470.7,1039.0 469.4,1038.2 Q468.0,1037.4 468.2,1035.1 Q468.5,1032.8 469.7,1031.6 Q470.9,1030.4 473.2,1030.2Z" fill="#a89a7e" stroke="none" stroke-width="1" filter="url(#cb05)" opacity="0.85"/>
<circle cx="472.10" cy="1035.20" r="2.65" fill="#45454f" stroke="none" stroke-width="1" filter="url(#cb05)"/>
<path d="M495.0,1030.7 Q497.1,1030.5 497.3,1032.3 Q497.5,1034.2 497.4,1036.4 Q497.3,1038.7 495.9,1039.0 Q494.5,1039.4 492.7,1039.4 Q490.9,1039.4 490.8,1037.9 Q490.8,1036.3 490.1,1034.6 Q489.5,1032.9 491.2,1031.9 Q492.8,1030.9 495.0,1030.7Z" fill="#a89a7e" stroke="none" stroke-width="1" filter="url(#cb05)" opacity="0.85"/>
<circle cx="493.90" cy="1035.20" r="2.65" fill="#45454f" stroke="none" stroke-width="1" filter="url(#cb05)"/>
<path d="M513.5,1034.6 Q514.6,1035.4 514.9,1036.8 Q515.3,1038.2 514.7,1039.2 Q514.0,1040.2 512.6,1041.3 Q511.1,1042.5 510.1,1041.4 Q509.1,1040.4 508.2,1039.0 Q507.3,1037.7 508.7,1036.5 Q510.1,1035.3 511.3,1034.6 Q512.5,1033.8 513.5,1034.6Z" fill="#a89a7e" stroke="none" stroke-width="1" filter="url(#cb05)" opacity="0.85"/>
<circle cx="511.60" cy="1038.00" r="2.65" fill="#45454f" stroke="none" stroke-width="1" filter="url(#cb05)"/>
<path d="M532.5,1033.9 Q533.3,1035.5 533.3,1036.4 Q533.3,1037.3 531.8,1038.5 Q530.3,1039.6 528.6,1038.8 Q526.9,1037.9 525.3,1037.2 Q523.8,1036.5 524.1,1034.5 Q524.5,1032.4 526.6,1031.1 Q528.7,1029.9 530.2,1031.1 Q531.7,1032.2 532.5,1033.9Z" fill="#a89a7e" stroke="none" stroke-width="1" filter="url(#cb05)" opacity="0.85"/>
<circle cx="529.20" cy="1035.20" r="2.65" fill="#45454f" stroke="none" stroke-width="1" filter="url(#cb05)"/>
<path d="M446.8,1040.6 Q448.5,1040.8 448.2,1042.2 Q448.0,1043.7 448.1,1046.0 Q448.2,1048.3 446.3,1047.9 Q444.3,1047.5 443.4,1047.5 Q442.5,1047.4 441.9,1046.3 Q441.2,1045.1 440.8,1043.5 Q440.5,1041.9 442.8,1041.2 Q445.2,1040.5 446.8,1040.6Z" fill="#a89a7e" stroke="none" stroke-width="1" filter="url(#cb05)" opacity="0.85"/>
<circle cx="444.50" cy="1044.30" r="2.65" fill="#45454f" stroke="none" stroke-width="1" filter="url(#cb05)"/>
<path d="M463.8,1045.6 Q463.4,1043.9 464.7,1041.8 Q466.0,1039.6 467.3,1040.1 Q468.7,1040.6 471.4,1040.8 Q474.1,1041.0 473.8,1042.5 Q473.5,1044.0 472.4,1045.6 Q471.3,1047.1 470.2,1047.6 Q469.1,1048.1 466.7,1047.8 Q464.2,1047.4 463.8,1045.6Z" fill="#a89a7e" stroke="none" stroke-width="1" filter="url(#cb05)" opacity="0.85"/>
<circle cx="469.20" cy="1044.30" r="2.65" fill="#45454f" stroke="none" stroke-width="1" filter="url(#cb05)"/>
<path d="M489.5,1039.6 Q491.2,1040.4 490.9,1042.3 Q490.7,1044.3 489.1,1045.4 Q487.6,1046.6 486.4,1046.6 Q485.2,1046.6 483.5,1045.8 Q481.8,1045.0 482.1,1043.8 Q482.5,1042.6 483.4,1040.7 Q484.2,1038.8 486.1,1038.9 Q487.9,1038.9 489.5,1039.6Z" fill="#a89a7e" stroke="none" stroke-width="1" filter="url(#cb05)" opacity="0.85"/>
<circle cx="486.20" cy="1042.90" r="2.65" fill="#45454f" stroke="none" stroke-width="1" filter="url(#cb05)"/>
<path d="M412.1,1044.8 Q413.1,1043.8 414.5,1044.6 Q416.0,1045.4 417.1,1047.7 Q418.2,1050.1 417.2,1050.9 Q416.3,1051.8 414.5,1053.2 Q412.7,1054.6 410.9,1053.6 Q409.2,1052.7 408.7,1051.0 Q408.2,1049.2 409.7,1047.5 Q411.2,1045.8 412.1,1044.8Z" fill="#a89a7e" stroke="none" stroke-width="1" filter="url(#cb05)" opacity="0.85"/>
<circle cx="413.50" cy="1049.30" r="2.65" fill="#45454f" stroke="none" stroke-width="1" filter="url(#cb05)"/>
<path d="M503.2,994.3 Q505.0,994.7 506.0,996.5 Q507.1,998.3 506.9,999.4 Q506.7,1000.6 506.4,1002.1 Q506.0,1003.6 504.4,1003.1 Q502.7,1002.6 501.1,1002.3 Q499.5,1002.0 500.3,1000.0 Q501.1,997.9 501.3,995.9 Q501.5,993.9 503.2,994.3Z" fill="#a89a7e" stroke="none" stroke-width="1" filter="url(#cb05)" opacity="0.85"/>
<circle cx="503.80" cy="999.20" r="2.65" fill="#45454f" stroke="none" stroke-width="1" filter="url(#cb05)"/>
<path d="M589.5,993.3 Q590.8,993.5 591.3,995.3 Q591.9,997.0 590.6,998.6 Q589.4,1000.1 588.2,1000.1 Q586.9,1000.0 585.1,1000.4 Q583.2,1000.8 583.5,998.8 Q583.8,996.8 584.6,995.1 Q585.5,993.3 586.9,993.2 Q588.2,993.0 589.5,993.3Z" fill="#a89a7e" stroke="none" stroke-width="1" filter="url(#cb05)" opacity="0.85"/>
<circle cx="587.10" cy="996.40" r="2.65" fill="#45454f" stroke="none" stroke-width="1" filter="url(#cb05)"/>
<path d="M569.7,1035.3 Q571.0,1034.2 572.8,1035.5 Q574.7,1036.9 575.3,1039.1 Q576.0,1041.3 574.9,1042.6 Q573.9,1043.9 572.2,1043.9 Q570.6,1043.9 568.8,1043.4 Q567.0,1042.8 567.3,1041.0 Q567.5,1039.2 568.0,1037.8 Q568.4,1036.3 569.7,1035.3Z" fill="#a89a7e" stroke="none" stroke-width="1" filter="url(#cb05)" opacity="0.85"/>
<circle cx="570.90" cy="1040.10" r="2.65" fill="#45454f" stroke="none" stroke-width="1" filter="url(#cb05)"/>
<path d="M587.0,1056.4 Q587.2,1054.9 588.9,1054.6 Q590.6,1054.4 592.4,1054.5 Q594.3,1054.7 594.9,1056.5 Q595.6,1058.4 594.4,1059.7 Q593.2,1061.0 592.1,1062.4 Q591.0,1063.8 589.4,1062.3 Q587.7,1060.7 587.3,1059.3 Q586.9,1057.9 587.0,1056.4Z" fill="#a89a7e" stroke="none" stroke-width="1" filter="url(#cb05)" opacity="0.85"/>
<circle cx="590.60" cy="1057.80" r="2.65" fill="#45454f" stroke="none" stroke-width="1" filter="url(#cb05)"/>
<path d="M577.8,1059.8 Q578.9,1061.4 579.0,1063.4 Q579.2,1065.4 577.6,1066.8 Q576.1,1068.2 574.1,1067.8 Q572.2,1067.5 570.1,1066.5 Q568.0,1065.6 568.8,1063.7 Q569.6,1061.8 570.9,1060.7 Q572.2,1059.7 574.4,1059.0 Q576.7,1058.3 577.8,1059.8Z" fill="#a89a7e" stroke="none" stroke-width="1" filter="url(#cb05)" opacity="0.85"/>
<circle cx="573.70" cy="1063.40" r="2.65" fill="#45454f" stroke="none" stroke-width="1" filter="url(#cb05)"/>
<path d="M456.3,1059.6 Q458.0,1059.9 459.0,1060.4 Q460.1,1060.8 459.4,1062.9 Q458.8,1065.0 456.9,1065.5 Q455.1,1066.1 453.7,1066.0 Q452.2,1065.9 451.6,1064.8 Q451.0,1063.7 451.3,1061.5 Q451.6,1059.3 453.1,1059.3 Q454.6,1059.3 456.3,1059.6Z" fill="#a89a7e" stroke="none" stroke-width="1" filter="url(#cb05)" opacity="0.85"/>
<circle cx="455.10" cy="1062.70" r="2.65" fill="#45454f" stroke="none" stroke-width="1" filter="url(#cb05)"/>
<path d="M510.9,1059.1 Q512.3,1060.4 513.8,1060.9 Q515.3,1061.5 514.8,1064.2 Q514.3,1067.0 512.0,1068.1 Q509.6,1069.2 508.8,1067.9 Q508.0,1066.7 506.9,1065.7 Q505.9,1064.8 506.3,1062.8 Q506.7,1060.8 508.1,1059.4 Q509.4,1057.9 510.9,1059.1Z" fill="#a89a7e" stroke="none" stroke-width="1" filter="url(#cb05)" opacity="0.85"/>
<circle cx="510.20" cy="1063.40" r="2.65" fill="#45454f" stroke="none" stroke-width="1" filter="url(#cb05)"/>
<path d="M537.3,1049.7 Q539.3,1050.2 539.4,1052.5 Q539.6,1054.8 539.7,1056.2 Q539.9,1057.7 538.1,1058.0 Q536.4,1058.4 534.4,1058.6 Q532.4,1058.9 532.4,1057.5 Q532.3,1056.1 531.8,1054.3 Q531.3,1052.5 533.3,1050.8 Q535.3,1049.1 537.3,1049.7Z" fill="#a89a7e" stroke="none" stroke-width="1" filter="url(#cb05)" opacity="0.85"/>
<circle cx="535.60" cy="1055.00" r="2.65" fill="#45454f" stroke="none" stroke-width="1" filter="url(#cb05)"/>
<path d="M537.9,1061.2 Q538.8,1059.4 539.5,1059.1 Q540.2,1058.8 541.8,1058.9 Q543.5,1058.9 544.6,1060.0 Q545.7,1061.0 545.3,1062.6 Q545.0,1064.2 543.8,1065.8 Q542.7,1067.3 540.9,1066.1 Q539.0,1064.9 538.0,1063.9 Q537.0,1062.9 537.9,1061.2Z" fill="#a89a7e" stroke="none" stroke-width="1" filter="url(#cb05)" opacity="0.85"/>
<circle cx="541.20" cy="1062.00" r="2.65" fill="#45454f" stroke="none" stroke-width="1" filter="url(#cb05)"/>
<path d="M416.4,1071.5 Q417.7,1070.3 419.6,1071.5 Q421.4,1072.6 422.7,1073.0 Q423.9,1073.4 423.9,1076.0 Q423.8,1078.6 422.5,1079.8 Q421.2,1081.0 420.1,1080.4 Q419.0,1079.7 417.5,1079.3 Q416.0,1078.8 415.5,1075.8 Q415.0,1072.7 416.4,1071.5Z" fill="#a89a7e" stroke="none" stroke-width="1" filter="url(#cb05)" opacity="0.85"/>
<circle cx="419.80" cy="1076.10" r="2.65" fill="#45454f" stroke="none" stroke-width="1" filter="url(#cb05)"/>
<path d="M493.3,1069.6 Q494.9,1068.6 496.3,1070.2 Q497.8,1071.9 498.0,1073.4 Q498.2,1075.0 497.3,1076.2 Q496.4,1077.4 494.6,1079.2 Q492.8,1081.0 491.8,1079.3 Q490.7,1077.6 490.2,1076.1 Q489.8,1074.6 490.8,1072.6 Q491.8,1070.7 493.3,1069.6Z" fill="#a89a7e" stroke="none" stroke-width="1" filter="url(#cb05)" opacity="0.85"/>
<circle cx="493.90" cy="1074.70" r="2.65" fill="#45454f" stroke="none" stroke-width="1" filter="url(#cb05)"/>
<path d="M481.0,1081.7 Q480.4,1081.0 481.2,1079.3 Q481.9,1077.7 484.1,1076.9 Q486.3,1076.1 487.8,1077.5 Q489.4,1079.0 489.7,1079.9 Q489.9,1080.8 488.8,1082.6 Q487.8,1084.4 486.2,1085.1 Q484.7,1085.8 483.1,1084.1 Q481.5,1082.5 481.0,1081.7Z" fill="#a89a7e" stroke="none" stroke-width="1" filter="url(#cb05)" opacity="0.85"/>
<circle cx="484.80" cy="1081.00" r="2.65" fill="#45454f" stroke="none" stroke-width="1" filter="url(#cb05)"/>
<path d="M487.7,1079.9 Q488.4,1078.3 490.7,1077.7 Q493.0,1077.1 493.6,1079.0 Q494.2,1080.9 494.3,1082.6 Q494.5,1084.3 494.4,1085.9 Q494.3,1087.5 492.5,1087.0 Q490.7,1086.5 488.3,1085.4 Q486.0,1084.2 486.5,1082.8 Q487.0,1081.4 487.7,1079.9Z" fill="#a89a7e" stroke="none" stroke-width="1" filter="url(#cb05)" opacity="0.85"/>
<circle cx="491.10" cy="1082.50" r="2.65" fill="#45454f" stroke="none" stroke-width="1" filter="url(#cb05)"/>
<path d="M534.9,1069.8 Q535.7,1069.8 536.3,1071.6 Q536.8,1073.4 536.7,1074.3 Q536.5,1075.2 535.4,1076.5 Q534.4,1077.8 531.9,1077.7 Q529.4,1077.6 528.7,1075.8 Q528.1,1074.0 529.1,1072.8 Q530.2,1071.7 532.1,1070.7 Q534.0,1069.8 534.9,1069.8Z" fill="#a89a7e" stroke="none" stroke-width="1" filter="url(#cb05)" opacity="0.85"/>
<circle cx="533.50" cy="1073.30" r="2.65" fill="#45454f" stroke="none" stroke-width="1" filter="url(#cb05)"/>
<path d="M547.1,1072.6 Q548.3,1072.9 548.6,1074.3 Q548.8,1075.7 549.4,1077.5 Q550.0,1079.2 548.1,1080.4 Q546.2,1081.7 544.0,1081.5 Q541.8,1081.3 541.2,1078.8 Q540.6,1076.4 541.7,1075.4 Q542.9,1074.4 544.4,1073.4 Q545.9,1072.4 547.1,1072.6Z" fill="#a89a7e" stroke="none" stroke-width="1" filter="url(#cb05)" opacity="0.85"/>
<circle cx="545.50" cy="1076.10" r="2.65" fill="#45454f" stroke="none" stroke-width="1" filter="url(#cb05)"/>
<path d="M426.0,1084.4 Q427.9,1084.6 428.3,1085.8 Q428.6,1087.0 426.7,1088.9 Q424.8,1090.7 423.5,1091.1 Q422.2,1091.6 420.4,1090.4 Q418.7,1089.2 418.8,1088.3 Q418.9,1087.5 419.4,1086.1 Q419.9,1084.6 422.0,1084.4 Q424.0,1084.2 426.0,1084.4Z" fill="#a89a7e" stroke="none" stroke-width="1" filter="url(#cb05)" opacity="0.85"/>
<circle cx="422.60" cy="1087.40" r="2.65" fill="#45454f" stroke="none" stroke-width="1" filter="url(#cb05)"/>
<path d="M438.8,1089.3 Q441.1,1090.2 440.1,1092.2 Q439.0,1094.1 438.9,1095.7 Q438.8,1097.2 436.4,1097.6 Q434.1,1098.0 433.4,1096.6 Q432.6,1095.2 431.4,1094.0 Q430.1,1092.7 431.7,1090.9 Q433.4,1089.1 435.0,1088.7 Q436.5,1088.4 438.8,1089.3Z" fill="#a89a7e" stroke="none" stroke-width="1" filter="url(#cb05)" opacity="0.85"/>
<circle cx="435.40" cy="1093.00" r="2.65" fill="#45454f" stroke="none" stroke-width="1" filter="url(#cb05)"/>
<path d="M470.4,1082.1 Q472.4,1081.6 473.6,1082.7 Q474.8,1083.9 475.4,1086.6 Q476.1,1089.3 475.5,1090.6 Q474.8,1092.0 472.5,1091.6 Q470.1,1091.2 469.3,1090.6 Q468.5,1090.1 467.2,1088.8 Q465.8,1087.5 467.0,1085.1 Q468.3,1082.7 470.4,1082.1Z" fill="#a89a7e" stroke="none" stroke-width="1" filter="url(#cb05)" opacity="0.85"/>
<circle cx="471.30" cy="1087.40" r="2.65" fill="#45454f" stroke="none" stroke-width="1" filter="url(#cb05)"/>
<path d="M465.7,1091.9 Q467.4,1092.2 467.4,1095.0 Q467.4,1097.9 465.4,1098.6 Q463.4,1099.4 461.8,1098.7 Q460.2,1098.1 459.0,1097.5 Q457.7,1096.8 457.5,1095.5 Q457.3,1094.1 458.9,1092.7 Q460.4,1091.3 462.2,1091.4 Q464.0,1091.5 465.7,1091.9Z" fill="#a89a7e" stroke="none" stroke-width="1" filter="url(#cb05)" opacity="0.85"/>
<circle cx="462.20" cy="1095.20" r="2.65" fill="#45454f" stroke="none" stroke-width="1" filter="url(#cb05)"/>
<path d="M431.0,1092.9 Q432.6,1092.4 433.8,1094.5 Q435.0,1096.7 433.9,1098.4 Q432.8,1100.1 431.4,1101.1 Q430.0,1102.1 429.1,1102.4 Q428.2,1102.7 427.0,1101.0 Q425.8,1099.3 426.1,1097.7 Q426.5,1096.2 427.9,1094.8 Q429.3,1093.4 431.0,1092.9Z" fill="#a89a7e" stroke="none" stroke-width="1" filter="url(#cb05)" opacity="0.85"/>
<circle cx="429.70" cy="1098.00" r="2.65" fill="#45454f" stroke="none" stroke-width="1" filter="url(#cb05)"/>
<path d="M523.3,1082.2 Q524.8,1080.7 526.4,1082.4 Q528.1,1084.2 528.5,1085.5 Q528.8,1086.9 528.1,1088.3 Q527.4,1089.6 525.3,1091.0 Q523.2,1092.3 522.1,1091.9 Q521.0,1091.4 519.9,1089.0 Q518.8,1086.6 520.3,1085.2 Q521.9,1083.8 523.3,1082.2Z" fill="#a89a7e" stroke="none" stroke-width="1" filter="url(#cb05)" opacity="0.85"/>
<circle cx="524.30" cy="1086.70" r="2.65" fill="#45454f" stroke="none" stroke-width="1" filter="url(#cb05)"/>
<path d="M548.4,1082.9 Q550.3,1082.0 552.0,1082.4 Q553.7,1082.8 553.9,1084.4 Q554.1,1085.9 553.9,1087.7 Q553.7,1089.5 552.6,1090.7 Q551.5,1092.0 549.4,1091.1 Q547.3,1090.3 547.2,1089.0 Q547.0,1087.8 546.8,1085.8 Q546.5,1083.7 548.4,1082.9Z" fill="#a89a7e" stroke="none" stroke-width="1" filter="url(#cb05)" opacity="0.85"/>
<circle cx="550.40" cy="1086.70" r="2.65" fill="#45454f" stroke="none" stroke-width="1" filter="url(#cb05)"/>
<path d="M534.3,1092.2 Q535.0,1092.8 534.8,1094.3 Q534.6,1095.8 534.0,1097.9 Q533.5,1100.1 531.3,1100.0 Q529.1,1100.0 527.4,1098.5 Q525.7,1097.1 526.5,1095.2 Q527.4,1093.4 528.8,1092.7 Q530.2,1092.1 531.9,1091.8 Q533.6,1091.5 534.3,1092.2Z" fill="#a89a7e" stroke="none" stroke-width="1" filter="url(#cb05)" opacity="0.85"/>
<circle cx="531.30" cy="1095.20" r="2.65" fill="#45454f" stroke="none" stroke-width="1" filter="url(#cb05)"/>
<path d="M537.3,1093.3 Q539.3,1093.1 540.6,1093.0 Q541.9,1092.9 541.7,1095.3 Q541.6,1097.7 541.5,1098.9 Q541.4,1100.1 540.2,1101.6 Q538.9,1103.2 537.4,1101.8 Q535.9,1100.5 535.0,1098.8 Q534.1,1097.2 534.7,1095.3 Q535.4,1093.4 537.3,1093.3Z" fill="#a89a7e" stroke="none" stroke-width="1" filter="url(#cb05)" opacity="0.85"/>
<circle cx="538.40" cy="1097.30" r="2.65" fill="#45454f" stroke="none" stroke-width="1" filter="url(#cb05)"/>
<path d="M489.5,1095.8 Q490.6,1094.8 492.5,1094.1 Q494.5,1093.4 495.1,1094.4 Q495.7,1095.4 496.8,1098.0 Q497.9,1100.7 496.3,1100.7 Q494.6,1100.8 493.1,1101.5 Q491.6,1102.3 489.6,1101.0 Q487.7,1099.6 488.0,1098.2 Q488.3,1096.8 489.5,1095.8Z" fill="#a89a7e" stroke="none" stroke-width="1" filter="url(#cb05)" opacity="0.85"/>
<circle cx="492.50" cy="1098.00" r="2.65" fill="#45454f" stroke="none" stroke-width="1" filter="url(#cb05)"/>
<path d="M501.0,1095.3 Q503.3,1094.7 504.2,1095.1 Q505.2,1095.5 506.0,1096.8 Q506.8,1098.1 507.0,1100.1 Q507.2,1102.0 506.0,1102.2 Q504.7,1102.3 503.5,1102.7 Q502.2,1103.0 500.8,1101.1 Q499.5,1099.1 499.1,1097.5 Q498.7,1095.8 501.0,1095.3Z" fill="#a89a7e" stroke="none" stroke-width="1" filter="url(#cb05)" opacity="0.85"/>
<circle cx="503.80" cy="1098.70" r="2.65" fill="#45454f" stroke="none" stroke-width="1" filter="url(#cb05)"/>
<path d="M564.4,1097.7 Q565.4,1096.5 566.7,1095.5 Q568.0,1094.4 569.4,1095.9 Q570.7,1097.4 570.9,1099.6 Q571.2,1101.7 570.5,1103.7 Q569.8,1105.7 567.7,1105.3 Q565.5,1104.9 565.2,1103.5 Q564.8,1102.0 564.1,1100.4 Q563.4,1098.8 564.4,1097.7Z" fill="#a89a7e" stroke="none" stroke-width="1" filter="url(#cb05)" opacity="0.85"/>
<circle cx="567.30" cy="1100.10" r="2.65" fill="#45454f" stroke="none" stroke-width="1" filter="url(#cb05)"/>
<path d="M438.1,1104.9 Q439.7,1106.0 440.7,1107.6 Q441.6,1109.2 440.8,1110.4 Q439.9,1111.7 437.6,1111.6 Q435.3,1111.6 434.4,1110.9 Q433.4,1110.2 432.6,1108.9 Q431.8,1107.5 432.9,1105.4 Q433.9,1103.3 435.1,1103.5 Q436.4,1103.7 438.1,1104.9Z" fill="#a89a7e" stroke="none" stroke-width="1" filter="url(#cb05)" opacity="0.85"/>
<circle cx="436.10" cy="1107.90" r="2.65" fill="#45454f" stroke="none" stroke-width="1" filter="url(#cb05)"/>
<path d="M442.4,1108.5 Q444.1,1108.7 445.7,1109.3 Q447.4,1109.8 446.8,1111.8 Q446.2,1113.7 445.7,1115.2 Q445.1,1116.7 443.3,1116.7 Q441.6,1116.7 440.6,1115.5 Q439.7,1114.4 439.3,1112.6 Q439.0,1110.9 439.8,1109.6 Q440.6,1108.2 442.4,1108.5Z" fill="#a89a7e" stroke="none" stroke-width="1" filter="url(#cb05)" opacity="0.85"/>
<circle cx="443.10" cy="1112.80" r="2.65" fill="#45454f" stroke="none" stroke-width="1" filter="url(#cb05)"/>
<path d="M484.6,1100.4 Q485.9,1100.1 486.9,1101.5 Q488.0,1103.0 488.5,1104.3 Q489.1,1105.6 487.1,1107.6 Q485.2,1109.5 483.9,1109.3 Q482.6,1109.0 481.0,1107.9 Q479.4,1106.8 479.3,1105.4 Q479.1,1104.0 481.2,1102.4 Q483.3,1100.8 484.6,1100.4Z" fill="#a89a7e" stroke="none" stroke-width="1" filter="url(#cb05)" opacity="0.85"/>
<circle cx="484.10" cy="1105.00" r="2.65" fill="#45454f" stroke="none" stroke-width="1" filter="url(#cb05)"/>
<path d="M461.5,1115.2 Q461.7,1113.5 462.3,1112.0 Q462.9,1110.5 464.6,1109.8 Q466.2,1109.1 467.5,1109.6 Q468.7,1110.0 469.6,1112.1 Q470.5,1114.2 470.2,1115.7 Q469.8,1117.3 467.8,1117.5 Q465.7,1117.7 463.5,1117.3 Q461.4,1116.9 461.5,1115.2Z" fill="#a89a7e" stroke="none" stroke-width="1" filter="url(#cb05)" opacity="0.85"/>
<circle cx="465.70" cy="1113.50" r="2.65" fill="#45454f" stroke="none" stroke-width="1" filter="url(#cb05)"/>
<path d="M526.0,1103.0 Q527.6,1103.2 527.6,1105.4 Q527.6,1107.6 526.8,1109.7 Q525.9,1111.9 524.1,1112.5 Q522.2,1113.0 520.4,1111.5 Q518.7,1110.0 519.5,1108.6 Q520.3,1107.2 520.7,1105.2 Q521.0,1103.1 522.7,1102.9 Q524.3,1102.8 526.0,1103.0Z" fill="#a89a7e" stroke="none" stroke-width="1" filter="url(#cb05)" opacity="0.85"/>
<circle cx="523.60" cy="1107.20" r="2.65" fill="#45454f" stroke="none" stroke-width="1" filter="url(#cb05)"/>
<path d="M547.6,1102.9 Q548.8,1101.2 550.7,1102.0 Q552.5,1102.8 553.5,1103.8 Q554.5,1104.8 554.6,1107.1 Q554.7,1109.3 553.3,1110.1 Q551.9,1110.9 550.3,1110.7 Q548.7,1110.6 548.0,1108.8 Q547.2,1107.1 546.8,1105.8 Q546.4,1104.5 547.6,1102.9Z" fill="#a89a7e" stroke="none" stroke-width="1" filter="url(#cb05)" opacity="0.85"/>
<circle cx="550.40" cy="1106.50" r="2.65" fill="#45454f" stroke="none" stroke-width="1" filter="url(#cb05)"/>
<path d="M557.4,1103.9 Q558.5,1104.9 559.3,1105.9 Q560.1,1106.8 558.8,1109.4 Q557.5,1111.9 555.9,1111.7 Q554.3,1111.4 553.3,1110.8 Q552.3,1110.2 550.9,1108.7 Q549.4,1107.2 550.4,1105.3 Q551.4,1103.5 553.8,1103.2 Q556.3,1102.9 557.4,1103.9Z" fill="#a89a7e" stroke="none" stroke-width="1" filter="url(#cb05)" opacity="0.85"/>
<circle cx="555.30" cy="1107.20" r="2.65" fill="#45454f" stroke="none" stroke-width="1" filter="url(#cb05)"/>
<path d="M516.7,1108.6 Q518.2,1110.3 519.0,1111.4 Q519.7,1112.4 518.9,1113.6 Q518.0,1114.8 515.9,1116.5 Q513.9,1118.2 512.2,1117.6 Q510.6,1116.9 510.3,1115.6 Q510.0,1114.2 511.4,1112.1 Q512.8,1110.1 514.0,1108.5 Q515.2,1106.9 516.7,1108.6Z" fill="#a89a7e" stroke="none" stroke-width="1" filter="url(#cb05)" opacity="0.85"/>
<circle cx="515.10" cy="1112.80" r="2.65" fill="#45454f" stroke="none" stroke-width="1" filter="url(#cb05)"/>
<path d="M525.9,1111.9 Q527.3,1112.4 528.1,1113.5 Q528.8,1114.6 528.6,1116.1 Q528.3,1117.6 526.7,1119.3 Q525.1,1121.0 523.6,1120.6 Q522.2,1120.3 521.0,1118.9 Q519.9,1117.4 520.4,1115.6 Q521.0,1113.8 522.7,1112.5 Q524.4,1111.3 525.9,1111.9Z" fill="#a89a7e" stroke="none" stroke-width="1" filter="url(#cb05)" opacity="0.85"/>
<circle cx="525.00" cy="1115.60" r="2.65" fill="#45454f" stroke="none" stroke-width="1" filter="url(#cb05)"/>
<path d="M538.4,1111.1 Q539.4,1112.8 539.2,1114.7 Q539.1,1116.6 537.0,1118.1 Q535.0,1119.5 532.6,1118.6 Q530.2,1117.7 530.4,1116.3 Q530.7,1114.9 530.3,1113.1 Q529.8,1111.3 532.1,1111.0 Q534.4,1110.7 535.9,1110.0 Q537.4,1109.3 538.4,1111.1Z" fill="#a89a7e" stroke="none" stroke-width="1" filter="url(#cb05)" opacity="0.85"/>
<circle cx="534.20" cy="1114.20" r="2.65" fill="#45454f" stroke="none" stroke-width="1" filter="url(#cb05)"/>
<path d="M535.6,1113.4 Q535.9,1111.5 537.4,1111.2 Q539.0,1110.9 541.1,1111.8 Q543.3,1112.8 543.3,1114.1 Q543.3,1115.5 543.5,1117.8 Q543.7,1120.2 542.1,1119.5 Q540.4,1118.9 538.6,1119.3 Q536.9,1119.7 536.1,1117.5 Q535.4,1115.3 535.6,1113.4Z" fill="#a89a7e" stroke="none" stroke-width="1" filter="url(#cb05)" opacity="0.85"/>
<circle cx="539.80" cy="1115.60" r="2.65" fill="#45454f" stroke="none" stroke-width="1" filter="url(#cb05)"/>
<path d="M526.6,1120.3 Q526.4,1119.0 527.4,1117.9 Q528.4,1116.9 529.3,1115.7 Q530.2,1114.5 531.5,1115.6 Q532.8,1116.8 533.9,1118.1 Q535.0,1119.3 533.8,1120.6 Q532.7,1121.9 531.3,1122.5 Q530.0,1123.1 528.4,1122.4 Q526.8,1121.7 526.6,1120.3Z" fill="#a89a7e" stroke="none" stroke-width="1" filter="url(#cb05)" opacity="0.85"/>
<circle cx="530.60" cy="1119.20" r="2.65" fill="#45454f" stroke="none" stroke-width="1" filter="url(#cb05)"/>
<path d="M545.9,1116.5 Q546.7,1115.1 548.3,1114.1 Q549.9,1113.1 550.9,1114.8 Q551.9,1116.5 552.1,1118.0 Q552.3,1119.5 552.1,1121.1 Q551.9,1122.8 549.9,1123.0 Q548.0,1123.3 547.3,1121.8 Q546.5,1120.3 545.8,1119.1 Q545.0,1117.9 545.9,1116.5Z" fill="#a89a7e" stroke="none" stroke-width="1" filter="url(#cb05)" opacity="0.85"/>
<circle cx="549.00" cy="1118.50" r="2.65" fill="#45454f" stroke="none" stroke-width="1" filter="url(#cb05)"/>
<path d="M560.6,1117.0 Q561.7,1118.2 562.3,1119.9 Q562.9,1121.6 561.8,1123.2 Q560.7,1124.8 558.9,1124.8 Q557.1,1124.9 556.2,1123.9 Q555.4,1122.9 554.6,1121.3 Q553.8,1119.6 554.1,1118.3 Q554.3,1116.9 556.9,1116.3 Q559.5,1115.8 560.6,1117.0Z" fill="#a89a7e" stroke="none" stroke-width="1" filter="url(#cb05)" opacity="0.85"/>
<circle cx="558.20" cy="1120.60" r="2.65" fill="#45454f" stroke="none" stroke-width="1" filter="url(#cb05)"/>
<path d="M567.8,1114.1 Q569.2,1113.5 570.5,1115.2 Q571.8,1116.8 571.8,1119.0 Q571.8,1121.3 571.4,1122.6 Q571.1,1123.8 569.6,1124.9 Q568.1,1126.0 567.2,1124.0 Q566.3,1122.0 566.1,1120.7 Q565.9,1119.4 566.1,1117.1 Q566.4,1114.7 567.8,1114.1Z" fill="#a89a7e" stroke="none" stroke-width="1" filter="url(#cb05)" opacity="0.85"/>
<circle cx="568.80" cy="1119.90" r="2.65" fill="#45454f" stroke="none" stroke-width="1" filter="url(#cb05)"/>
<path d="M518.0,1123.1 Q517.5,1121.9 518.8,1120.5 Q520.2,1119.0 521.9,1119.0 Q523.7,1119.0 525.3,1119.6 Q527.0,1120.1 528.1,1121.9 Q529.1,1123.7 528.0,1125.4 Q527.0,1127.2 524.7,1126.5 Q522.4,1125.9 520.4,1125.0 Q518.4,1124.2 518.0,1123.1Z" fill="#a89a7e" stroke="none" stroke-width="1" filter="url(#cb05)" opacity="0.85"/>
<circle cx="522.90" cy="1122.70" r="2.65" fill="#45454f" stroke="none" stroke-width="1" filter="url(#cb05)"/>
<path d="M505.8,1123.7 Q506.2,1122.0 507.5,1121.2 Q508.7,1120.5 511.3,1121.0 Q513.8,1121.5 513.6,1123.2 Q513.5,1124.9 514.0,1127.4 Q514.6,1129.9 512.8,1130.3 Q511.1,1130.6 509.3,1129.5 Q507.5,1128.4 506.4,1126.9 Q505.3,1125.5 505.8,1123.7Z" fill="#a89a7e" stroke="none" stroke-width="1" filter="url(#cb05)" opacity="0.85"/>
<circle cx="510.20" cy="1125.50" r="2.65" fill="#45454f" stroke="none" stroke-width="1" filter="url(#cb05)"/>
<path d="M521.8,1126.8 Q522.8,1128.1 522.0,1129.7 Q521.2,1131.3 519.6,1132.1 Q518.0,1132.8 515.6,1132.7 Q513.3,1132.6 512.8,1130.6 Q512.4,1128.7 512.9,1127.8 Q513.5,1127.0 514.8,1126.3 Q516.2,1125.6 518.4,1125.6 Q520.7,1125.6 521.8,1126.8Z" fill="#a89a7e" stroke="none" stroke-width="1" filter="url(#cb05)" opacity="0.85"/>
<circle cx="517.20" cy="1129.00" r="2.65" fill="#45454f" stroke="none" stroke-width="1" filter="url(#cb05)"/>
<path d="M484.5,1124.3 Q485.7,1124.7 486.8,1125.8 Q487.9,1126.8 487.6,1128.9 Q487.3,1131.0 485.0,1131.4 Q482.8,1131.7 481.8,1130.9 Q480.8,1130.1 479.4,1128.7 Q478.1,1127.4 478.9,1125.8 Q479.8,1124.3 481.5,1124.1 Q483.3,1123.8 484.5,1124.3Z" fill="#a89a7e" stroke="none" stroke-width="1" filter="url(#cb05)" opacity="0.85"/>
<circle cx="483.30" cy="1127.60" r="2.65" fill="#45454f" stroke="none" stroke-width="1" filter="url(#cb05)"/>
<path d="M493.5,1122.4 Q494.7,1122.4 495.5,1124.4 Q496.3,1126.5 495.6,1127.9 Q495.0,1129.3 492.8,1129.8 Q490.5,1130.4 489.0,1129.9 Q487.5,1129.3 487.1,1128.0 Q486.7,1126.7 487.5,1124.6 Q488.2,1122.4 490.2,1122.5 Q492.2,1122.5 493.5,1122.4Z" fill="#a89a7e" stroke="none" stroke-width="1" filter="url(#cb05)" opacity="0.85"/>
<circle cx="491.10" cy="1126.20" r="2.65" fill="#45454f" stroke="none" stroke-width="1" filter="url(#cb05)"/>
<path d="M534.9,1129.9 Q534.8,1127.4 536.7,1126.9 Q538.7,1126.5 540.4,1125.8 Q542.2,1125.1 543.1,1126.3 Q543.9,1127.4 543.8,1129.6 Q543.6,1131.9 542.7,1133.4 Q541.8,1135.0 540.3,1134.0 Q538.8,1133.0 536.9,1132.7 Q535.0,1132.3 534.9,1129.9Z" fill="#a89a7e" stroke="none" stroke-width="1" filter="url(#cb05)" opacity="0.85"/>
<circle cx="539.80" cy="1129.80" r="2.65" fill="#45454f" stroke="none" stroke-width="1" filter="url(#cb05)"/>
<path d="M443.6,1125.6 Q444.7,1125.1 446.0,1126.6 Q447.3,1128.2 448.2,1129.0 Q449.2,1129.9 447.6,1131.7 Q446.0,1133.4 444.0,1133.6 Q442.1,1133.7 440.9,1133.8 Q439.7,1133.9 440.0,1131.6 Q440.3,1129.4 441.5,1127.7 Q442.6,1126.0 443.6,1125.6Z" fill="#a89a7e" stroke="none" stroke-width="1" filter="url(#cb05)" opacity="0.85"/>
<circle cx="443.80" cy="1129.80" r="2.65" fill="#45454f" stroke="none" stroke-width="1" filter="url(#cb05)"/>
<path d="M406.3,1122.3 Q405.8,1120.9 406.4,1119.6 Q407.1,1118.2 409.2,1118.2 Q411.3,1118.2 412.5,1119.3 Q413.7,1120.4 414.7,1122.5 Q415.6,1124.6 414.0,1125.7 Q412.3,1126.9 411.0,1126.2 Q409.6,1125.6 408.2,1124.7 Q406.9,1123.8 406.3,1122.3Z" fill="#a89a7e" stroke="none" stroke-width="1" filter="url(#cb05)" opacity="0.85"/>
<circle cx="410.00" cy="1122.00" r="2.65" fill="#45454f" stroke="none" stroke-width="1" filter="url(#cb05)"/>
<path d="M465.0,1004.2 Q464.0,1001.5 465.8,1001.0 Q467.6,1000.4 468.9,1000.1 Q470.2,999.9 471.9,1000.6 Q473.6,1001.2 474.9,1002.2 Q476.2,1003.2 475.4,1005.0 Q474.5,1006.8 472.2,1007.2 Q469.9,1007.7 468.0,1007.3 Q466.0,1006.9 465.0,1004.2Z" fill="#a89a7e" stroke="none" stroke-width="1" filter="url(#cb05)" opacity="0.85"/>
<circle cx="470.00" cy="1003.00" r="2.65" fill="#45454f" stroke="none" stroke-width="1" filter="url(#cb05)"/>
</g>
<rect x="603.00" y="994.00" width="179.20" height="135.80" fill="#fcf8f5"/>
<g clip-path="url(#cl4)">
<path d="M710.9,1057.0 L735.0,1055.0 L760.3,1050.7" stroke="#c6cac4" stroke-width="1.4" stroke-linejoin="round" stroke-linecap="round" fill="none" opacity="0.9"/>
<path d="M650.2,1008.4 L672.8,1002.0 L695.4,999.2" stroke="#c6cac4" stroke-width="1.4" stroke-linejoin="round" stroke-linecap="round" fill="none" opacity="0.9"/>
<path d="M762.5,1062.0 L781.5,1060.6" stroke="#c6cac4" stroke-width="1.4" stroke-linejoin="round" stroke-linecap="round" fill="none" opacity="0.9"/>
<path d="M615.0,1114.2 L623.4,1107.2 L633.3,1098.7" stroke="#c6cac4" stroke-width="1.4" stroke-linejoin="round" stroke-linecap="round" fill="none" opacity="0.9"/>
<path d="M644.6,1088.8 L658.7,1074.7 L660.1,1069.0" stroke="#c6cac4" stroke-width="1.4" stroke-linejoin="round" stroke-linecap="round" fill="none" opacity="0.9"/>
<path d="M671.4,1114.2 L682.7,1095.2" stroke="#c6cac4" stroke-width="1.4" stroke-linejoin="round" stroke-linecap="round" fill="none" opacity="0.9"/>
<path d="M632.0,1112.0 L660.0,1116.0 L700.0,1118.0" stroke="#c6cac4" stroke-width="1.4" stroke-linejoin="round" stroke-linecap="round" fill="none" opacity="0.9"/>
<path d="M620.6,1011.2L617.5,1020.7" stroke="#c6cac4" stroke-width="0.9" stroke-linecap="round" fill="none" opacity="0.85"/>
<path d="M613.5,997.0L626.2,988.7" stroke="#c6cac4" stroke-width="1.4" stroke-linecap="round" fill="none" opacity="0.85"/>
<path d="M640.3,1045.8L637.2,1052.9" stroke="#c6cac4" stroke-width="0.9" stroke-linecap="round" fill="none" opacity="0.85"/>
<path d="M672.8,1002.0L685.6,1007.9" stroke="#c6cac4" stroke-width="1.4" stroke-linecap="round" fill="none" opacity="0.85"/>
<path d="M660.0,1006.0L672.1,1008.0" stroke="#c6cac4" stroke-width="1.3" stroke-linecap="round" fill="none" opacity="0.85"/>
<path d="M670.0,1021.8L679.2,1020.2" stroke="#c6cac4" stroke-width="1.1" stroke-linecap="round" fill="none" opacity="0.85"/>
<path d="M670.0,1021.8L679.3,1016.5" stroke="#c6cac4" stroke-width="0.9" stroke-linecap="round" fill="none" opacity="0.85"/>
<path d="M657.3,1027.4L648.7,1025.1" stroke="#c6cac4" stroke-width="1.3" stroke-linecap="round" fill="none" opacity="0.85"/>
<path d="M657.3,1027.4L648.9,1020.2" stroke="#c6cac4" stroke-width="1.1" stroke-linecap="round" fill="none" opacity="0.85"/>
<path d="M657.3,1027.4L650.6,1023.8" stroke="#c6cac4" stroke-width="1.0" stroke-linecap="round" fill="none" opacity="0.85"/>
<path d="M706.7,998.5L718.7,988.0" stroke="#c6cac4" stroke-width="1.2" stroke-linecap="round" fill="none" opacity="0.85"/>
<path d="M747.6,995.6L740.4,993.5" stroke="#c6cac4" stroke-width="1.3" stroke-linecap="round" fill="none" opacity="0.85"/>
<path d="M747.6,995.6L755.6,996.6" stroke="#c6cac4" stroke-width="1.2" stroke-linecap="round" fill="none" opacity="0.85"/>
<path d="M747.6,995.6L737.2,995.5" stroke="#c6cac4" stroke-width="1.2" stroke-linecap="round" fill="none" opacity="0.85"/>
<path d="M750.5,1026.7L758.9,1036.7" stroke="#c6cac4" stroke-width="1.0" stroke-linecap="round" fill="none" opacity="0.85"/>
<path d="M750.5,1026.7L764.0,1034.1" stroke="#c6cac4" stroke-width="1.0" stroke-linecap="round" fill="none" opacity="0.85"/>
<path d="M770.2,1019.6L774.0,1025.2" stroke="#c6cac4" stroke-width="1.5" stroke-linecap="round" fill="none" opacity="0.85"/>
<path d="M771.6,1036.6L769.2,1045.2" stroke="#c6cac4" stroke-width="1.5" stroke-linecap="round" fill="none" opacity="0.85"/>
<path d="M771.6,1036.6L762.0,1047.7" stroke="#c6cac4" stroke-width="1.3" stroke-linecap="round" fill="none" opacity="0.85"/>
<path d="M760.3,1050.7L758.2,1058.3" stroke="#c6cac4" stroke-width="1.1" stroke-linecap="round" fill="none" opacity="0.85"/>
<path d="M658.7,1074.7L652.5,1060.4" stroke="#c6cac4" stroke-width="1.0" stroke-linecap="round" fill="none" opacity="0.85"/>
<path d="M760.3,1074.7L767.7,1076.8" stroke="#c6cac4" stroke-width="1.3" stroke-linecap="round" fill="none" opacity="0.85"/>
<path d="M623.4,1107.2L617.0,1099.0" stroke="#c6cac4" stroke-width="0.9" stroke-linecap="round" fill="none" opacity="0.85"/>
<path d="M623.4,1107.2L628.6,1111.3" stroke="#c6cac4" stroke-width="1.3" stroke-linecap="round" fill="none" opacity="0.85"/>
<path d="M670.0,1114.2L666.7,1107.5" stroke="#c6cac4" stroke-width="0.8" stroke-linecap="round" fill="none" opacity="0.85"/>
<path d="M670.0,1114.2L661.5,1114.7" stroke="#c6cac4" stroke-width="1.5" stroke-linecap="round" fill="none" opacity="0.85"/>
<path d="M670.0,1114.2L678.1,1122.0" stroke="#c6cac4" stroke-width="1.3" stroke-linecap="round" fill="none" opacity="0.85"/>
<path d="M646.0,1123.4L641.4,1116.9" stroke="#c6cac4" stroke-width="0.9" stroke-linecap="round" fill="none" opacity="0.85"/>
<path d="M646.0,1123.4L635.9,1127.5" stroke="#c6cac4" stroke-width="1.0" stroke-linecap="round" fill="none" opacity="0.85"/>
<path d="M677.1,1122.0L687.1,1124.6" stroke="#c6cac4" stroke-width="1.0" stroke-linecap="round" fill="none" opacity="0.85"/>
<path d="M677.1,1122.0L685.6,1121.4" stroke="#c6cac4" stroke-width="1.0" stroke-linecap="round" fill="none" opacity="0.85"/>
<path d="M710.9,1120.6L719.5,1121.0" stroke="#c6cac4" stroke-width="1.0" stroke-linecap="round" fill="none" opacity="0.85"/>
<path d="M702.5,1126.2L687.9,1119.9" stroke="#c6cac4" stroke-width="1.1" stroke-linecap="round" fill="none" opacity="0.85"/>
<path d="M702.5,1126.2L712.7,1118.9" stroke="#c6cac4" stroke-width="1.4" stroke-linecap="round" fill="none" opacity="0.85"/>
<path d="M711.6,1126.2L721.2,1128.7" stroke="#c6cac4" stroke-width="1.1" stroke-linecap="round" fill="none" opacity="0.85"/>
<path d="M711.6,1126.2L722.2,1121.2" stroke="#c6cac4" stroke-width="1.5" stroke-linecap="round" fill="none" opacity="0.85"/>
<path d="M711.6,1126.2L716.1,1133.9" stroke="#c6cac4" stroke-width="1.1" stroke-linecap="round" fill="none" opacity="0.85"/>
<path d="M690.0,1125.0L679.4,1121.2" stroke="#c6cac4" stroke-width="1.3" stroke-linecap="round" fill="none" opacity="0.85"/>
<path d="M690.0,1125.0L680.1,1124.1" stroke="#c6cac4" stroke-width="1.1" stroke-linecap="round" fill="none" opacity="0.85"/>
<path d="M690.0,1125.0L678.4,1119.9" stroke="#c6cac4" stroke-width="0.8" stroke-linecap="round" fill="none" opacity="0.85"/>
<circle cx="612.1" cy="1018.2" r="6.2" fill="url(#hg_4)"/>
<circle cx="612.10" cy="1018.20" r="2.25" fill="#8a5280" stroke="none" stroke-width="1" filter="url(#cb1)" opacity="0.7"/>
<circle cx="612.10" cy="1018.20" r="2.80" fill="#452c62" stroke="none" stroke-width="1" filter="url(#cb05)"/>
<path d="M623.3,1005.4 Q624.5,1005.3 625.1,1006.8 Q625.7,1008.3 624.7,1009.9 Q623.7,1011.5 621.5,1014.7 Q619.4,1017.9 617.4,1018.7 Q615.4,1019.5 616.0,1017.2 Q616.5,1014.9 617.7,1011.9 Q618.9,1008.9 620.4,1007.2 Q622.0,1005.4 623.3,1005.4Z" fill="#8a5280" stroke="none" stroke-width="1" filter="url(#cb05)"/>
<ellipse cx="620.6" cy="1011.2" rx="3.3" ry="2.4" transform="rotate(-60 620.6 1011.2)" fill="#452c62" filter="url(#cb05)"/>
<path d="M619.7,992.4 Q621.8,992.8 620.5,994.8 Q619.3,996.8 616.6,998.4 Q614.0,1000.1 611.7,1000.9 Q609.4,1001.7 607.3,1001.4 Q605.2,1001.1 606.2,999.6 Q607.1,998.0 609.1,996.7 Q611.1,995.3 614.4,993.7 Q617.7,992.0 619.7,992.4Z" fill="#8a5280" stroke="none" stroke-width="1" filter="url(#cb05)"/>
<ellipse cx="613.5" cy="997.0" rx="3.3" ry="2.4" transform="rotate(-30 613.5 997.0)" fill="#452c62" filter="url(#cb05)"/>
<path d="M599.0,1041.3 Q600.1,1038.7 601.2,1036.6 Q602.2,1034.5 605.1,1035.6 Q608.0,1036.7 610.9,1038.4 Q613.8,1040.1 613.4,1041.8 Q613.0,1043.6 611.2,1046.0 Q609.3,1048.5 606.6,1047.8 Q603.8,1047.1 600.8,1045.5 Q597.9,1044.0 599.0,1041.3Z" fill="#8a5280" stroke="none" stroke-width="1" filter="url(#cb05)"/>
<circle cx="605.80" cy="1041.50" r="5.50" fill="#2a1530" stroke="none" stroke-width="1" filter="url(#cb05)"/>
<path d="M642.5,1039.7 Q643.4,1039.5 644.7,1040.5 Q646.0,1041.6 644.6,1044.5 Q643.1,1047.5 640.8,1050.4 Q638.5,1053.4 637.3,1053.9 Q636.1,1054.4 635.9,1052.3 Q635.6,1050.1 636.9,1046.7 Q638.1,1043.3 639.9,1041.6 Q641.6,1040.0 642.5,1039.7Z" fill="#8a5280" stroke="none" stroke-width="1" filter="url(#cb05)"/>
<ellipse cx="640.3" cy="1045.8" rx="3.3" ry="2.4" transform="rotate(-60 640.3 1045.8)" fill="#452c62" filter="url(#cb05)"/>
<path d="M679.5,1002.6 Q680.7,1004.6 680.1,1005.4 Q679.6,1006.2 676.0,1006.0 Q672.4,1005.9 668.2,1004.0 Q664.0,1002.1 664.1,1001.3 Q664.2,1000.4 665.7,999.0 Q667.1,997.7 670.8,998.1 Q674.6,998.6 676.4,999.6 Q678.3,1000.6 679.5,1002.6Z" fill="#8a5280" stroke="none" stroke-width="1" filter="url(#cb05)"/>
<ellipse cx="672.8" cy="1002.0" rx="3.8" ry="2.8" transform="rotate(15 672.8 1002.0)" fill="#452c62" filter="url(#cb05)"/>
<path d="M665.9,1006.8 Q666.4,1008.1 665.5,1009.0 Q664.5,1010.0 661.7,1009.4 Q658.8,1008.8 656.8,1007.6 Q654.8,1006.4 654.1,1005.1 Q653.4,1003.7 655.1,1003.3 Q656.8,1002.9 659.4,1003.1 Q661.9,1003.3 663.7,1004.4 Q665.5,1005.5 665.9,1006.8Z" fill="#8a5280" stroke="none" stroke-width="1" filter="url(#cb05)"/>
<ellipse cx="660.0" cy="1006.0" rx="2.8" ry="2.1" transform="rotate(15 660.0 1006.0)" fill="#452c62" filter="url(#cb05)"/>
<path d="M676.0,1018.0 Q678.5,1018.2 677.8,1019.9 Q677.1,1021.7 674.5,1022.9 Q671.9,1024.0 668.8,1025.3 Q665.7,1026.5 663.4,1026.1 Q661.1,1025.6 662.1,1023.7 Q663.2,1021.8 665.7,1020.3 Q668.3,1018.7 670.9,1018.2 Q673.5,1017.8 676.0,1018.0Z" fill="#8a5280" stroke="none" stroke-width="1" filter="url(#cb05)"/>
<ellipse cx="670.0" cy="1021.8" rx="3.3" ry="2.4" transform="rotate(-20 670.0 1021.8)" fill="#452c62" filter="url(#cb05)"/>
<path d="M663.5,1029.9 Q663.3,1031.4 662.0,1031.7 Q660.6,1032.0 658.5,1031.0 Q656.4,1030.0 653.7,1028.7 Q650.9,1027.4 650.2,1024.9 Q649.5,1022.3 651.5,1022.0 Q653.6,1021.7 655.8,1022.8 Q658.0,1023.9 660.9,1026.1 Q663.8,1028.4 663.5,1029.9Z" fill="#8a5280" stroke="none" stroke-width="1" filter="url(#cb05)"/>
<ellipse cx="657.3" cy="1027.4" rx="3.3" ry="2.4" transform="rotate(30 657.3 1027.4)" fill="#452c62" filter="url(#cb05)"/>
<path d="M675.8,1031.3 Q674.4,1028.9 675.6,1027.7 Q676.9,1026.6 679.9,1025.9 Q682.9,1025.2 685.0,1026.5 Q687.1,1027.8 687.7,1029.8 Q688.4,1031.8 686.7,1033.7 Q685.1,1035.5 682.1,1035.9 Q679.2,1036.4 678.1,1035.1 Q677.1,1033.8 675.8,1031.3Z" fill="#8a5280" stroke="none" stroke-width="1" filter="url(#cb05)"/>
<circle cx="681.30" cy="1030.90" r="4.50" fill="#2a1530" stroke="none" stroke-width="1" filter="url(#cb05)"/>
<path d="M711.6,992.3 Q713.3,992.7 713.1,995.1 Q712.9,997.5 710.9,999.1 Q709.0,1000.7 706.1,1002.3 Q703.2,1003.8 702.4,1003.4 Q701.6,1002.9 700.9,1002.1 Q700.2,1001.3 702.6,998.3 Q705.0,995.4 707.4,993.7 Q709.9,992.0 711.6,992.3Z" fill="#8a5280" stroke="none" stroke-width="1" filter="url(#cb05)"/>
<ellipse cx="706.7" cy="998.5" rx="3.3" ry="2.4" transform="rotate(-40 706.7 998.5)" fill="#452c62" filter="url(#cb05)"/>
<path d="M753.6,995.5 Q754.7,997.0 755.0,998.1 Q755.3,999.3 750.2,999.1 Q745.1,999.0 743.3,997.8 Q741.6,996.7 740.9,995.7 Q740.1,994.8 740.3,993.3 Q740.5,991.9 745.1,992.1 Q749.7,992.3 751.1,993.2 Q752.5,994.0 753.6,995.5Z" fill="#8a5280" stroke="none" stroke-width="1" filter="url(#cb05)"/>
<ellipse cx="747.6" cy="995.6" rx="3.3" ry="2.4" transform="rotate(10 747.6 995.6)" fill="#452c62" filter="url(#cb05)"/>
<path d="M737.0,1024.3 Q738.6,1025.1 739.8,1026.7 Q741.0,1028.2 740.5,1030.4 Q740.0,1032.7 738.0,1033.6 Q736.0,1034.4 734.2,1033.8 Q732.4,1033.2 731.2,1032.1 Q729.9,1030.9 730.4,1028.9 Q730.9,1026.8 733.2,1025.1 Q735.4,1023.4 737.0,1024.3Z" fill="#8a5280" stroke="none" stroke-width="1" filter="url(#cb05)"/>
<circle cx="734.90" cy="1028.80" r="4.50" fill="#2a1530" stroke="none" stroke-width="1" filter="url(#cb05)"/>
<path d="M756.3,1030.6 Q757.0,1032.9 755.1,1032.7 Q753.1,1032.4 749.9,1030.5 Q746.7,1028.5 745.4,1026.3 Q744.0,1024.1 743.9,1022.4 Q743.7,1020.6 745.6,1020.9 Q747.6,1021.1 749.7,1022.1 Q751.9,1023.0 753.7,1025.7 Q755.5,1028.3 756.3,1030.6Z" fill="#8a5280" stroke="none" stroke-width="1" filter="url(#cb05)"/>
<ellipse cx="750.5" cy="1026.7" rx="3.3" ry="2.4" transform="rotate(40 750.5 1026.7)" fill="#452c62" filter="url(#cb05)"/>
<path d="M775.6,1025.4 Q775.4,1027.6 773.5,1026.8 Q771.6,1026.0 769.1,1023.4 Q766.6,1020.9 766.0,1018.6 Q765.5,1016.2 766.1,1015.0 Q766.7,1013.7 768.4,1014.4 Q770.1,1015.0 771.7,1017.2 Q773.3,1019.3 774.5,1021.2 Q775.7,1023.1 775.6,1025.4Z" fill="#8a5280" stroke="none" stroke-width="1" filter="url(#cb05)"/>
<ellipse cx="770.2" cy="1019.6" rx="3.3" ry="2.4" transform="rotate(60 770.2 1019.6)" fill="#452c62" filter="url(#cb05)"/>
<path d="M774.1,1030.8 Q775.7,1030.4 776.1,1031.6 Q776.5,1032.8 775.2,1035.7 Q773.8,1038.6 771.7,1041.7 Q769.7,1044.7 768.1,1044.8 Q766.4,1044.9 766.7,1042.1 Q767.1,1039.3 768.0,1036.4 Q769.0,1033.6 770.8,1032.4 Q772.5,1031.2 774.1,1030.8Z" fill="#8a5280" stroke="none" stroke-width="1" filter="url(#cb05)"/>
<ellipse cx="771.6" cy="1036.6" rx="3.3" ry="2.4" transform="rotate(-60 771.6 1036.6)" fill="#452c62" filter="url(#cb05)"/>
<path d="M756.5,1045.7 Q759.0,1045.1 761.1,1044.5 Q763.2,1043.8 763.7,1046.6 Q764.1,1049.4 764.5,1051.4 Q764.8,1053.4 763.4,1055.5 Q762.1,1057.6 760.2,1057.8 Q758.3,1058.1 756.9,1055.2 Q755.5,1052.3 754.8,1049.3 Q754.0,1046.3 756.5,1045.7Z" fill="#8a5280" stroke="none" stroke-width="1" filter="url(#cb05)" opacity="0.85"/>
<circle cx="760.30" cy="1050.70" r="3.51" fill="#452c62" stroke="none" stroke-width="1" filter="url(#cb05)"/>
<path d="M617.6,1073.4 Q617.5,1071.3 618.6,1070.5 Q619.7,1069.7 621.2,1069.5 Q622.8,1069.3 623.5,1070.6 Q624.2,1071.9 624.6,1073.4 Q625.0,1074.9 624.1,1075.9 Q623.2,1076.8 621.9,1076.6 Q620.6,1076.4 619.2,1076.0 Q617.8,1075.5 617.6,1073.4Z" fill="#8a5280" stroke="none" stroke-width="1" filter="url(#cb05)"/>
<circle cx="621.30" cy="1073.30" r="3.00" fill="#2a1530" stroke="none" stroke-width="1" filter="url(#cb05)"/>
<path d="M622.0,1078.6 Q622.3,1077.0 623.1,1075.6 Q624.0,1074.2 625.2,1074.8 Q626.3,1075.4 627.9,1076.2 Q629.4,1077.0 629.0,1078.1 Q628.6,1079.3 627.7,1080.1 Q626.9,1081.0 625.8,1081.1 Q624.7,1081.2 623.1,1080.7 Q621.6,1080.3 622.0,1078.6Z" fill="#8a5280" stroke="none" stroke-width="1" filter="url(#cb05)"/>
<circle cx="625.50" cy="1078.20" r="3.00" fill="#2a1530" stroke="none" stroke-width="1" filter="url(#cb05)"/>
<circle cx="616.4" cy="1086.0" r="15.0" fill="url(#hg_4)"/>
<circle cx="616.40" cy="1086.00" r="8.40" fill="#8a5280" stroke="none" stroke-width="1" filter="url(#cb1)" opacity="0.8"/>
<circle cx="614.90" cy="1085.00" r="3.96" fill="#452c62" stroke="none" stroke-width="1" filter="url(#cb1)"/>
<circle cx="618.40" cy="1088.00" r="3.60" fill="#452c62" stroke="none" stroke-width="1" filter="url(#cb1)"/>
<circle cx="676.3" cy="1082.5" r="8.8" fill="url(#hg_4)"/>
<circle cx="676.30" cy="1082.50" r="4.90" fill="#8a5280" stroke="none" stroke-width="1" filter="url(#cb1)" opacity="0.8"/>
<circle cx="674.80" cy="1081.50" r="2.31" fill="#452c62" stroke="none" stroke-width="1" filter="url(#cb1)"/>
<circle cx="678.30" cy="1084.50" r="2.10" fill="#452c62" stroke="none" stroke-width="1" filter="url(#cb1)"/>
<path d="M662.0,1081.2 Q661.6,1083.7 660.2,1082.4 Q658.9,1081.1 657.5,1078.3 Q656.1,1075.4 654.9,1072.3 Q653.6,1069.3 654.7,1067.4 Q655.8,1065.6 657.2,1066.5 Q658.5,1067.4 660.5,1070.9 Q662.4,1074.5 662.4,1076.6 Q662.4,1078.7 662.0,1081.2Z" fill="#8a5280" stroke="none" stroke-width="1" filter="url(#cb05)"/>
<ellipse cx="658.7" cy="1074.7" rx="3.3" ry="2.4" transform="rotate(70 658.7 1074.7)" fill="#452c62" filter="url(#cb05)"/>
<path d="M667.8,1089.0 Q669.3,1090.8 668.4,1092.2 Q667.5,1093.7 665.2,1094.8 Q662.8,1095.8 660.3,1094.7 Q657.9,1093.5 657.3,1091.9 Q656.7,1090.3 657.6,1088.8 Q658.6,1087.3 660.0,1086.3 Q661.4,1085.3 663.8,1086.3 Q666.3,1087.3 667.8,1089.0Z" fill="#8a5280" stroke="none" stroke-width="1" filter="url(#cb05)"/>
<circle cx="662.20" cy="1090.20" r="4.50" fill="#2a1530" stroke="none" stroke-width="1" filter="url(#cb05)"/>
<circle cx="715.9" cy="1098.0" r="8.8" fill="url(#hg_4)"/>
<circle cx="715.90" cy="1098.00" r="4.90" fill="#8a5280" stroke="none" stroke-width="1" filter="url(#cb1)" opacity="0.8"/>
<circle cx="714.40" cy="1097.00" r="2.31" fill="#452c62" stroke="none" stroke-width="1" filter="url(#cb1)"/>
<circle cx="717.90" cy="1100.00" r="2.10" fill="#452c62" stroke="none" stroke-width="1" filter="url(#cb1)"/>
<path d="M754.1,1072.8 Q754.4,1070.5 756.8,1070.2 Q759.3,1069.9 761.6,1069.8 Q764.0,1069.6 765.5,1072.5 Q767.0,1075.4 765.5,1076.8 Q764.0,1078.2 762.6,1079.3 Q761.1,1080.3 758.8,1078.8 Q756.4,1077.3 755.1,1076.2 Q753.9,1075.2 754.1,1072.8Z" fill="#8a5280" stroke="none" stroke-width="1" filter="url(#cb05)"/>
<circle cx="760.30" cy="1074.70" r="4.50" fill="#2a1530" stroke="none" stroke-width="1" filter="url(#cb05)"/>
<circle cx="756.8" cy="1086.7" r="8.8" fill="url(#hg_4)"/>
<circle cx="756.80" cy="1086.70" r="4.90" fill="#8a5280" stroke="none" stroke-width="1" filter="url(#cb1)" opacity="0.8"/>
<circle cx="755.30" cy="1085.70" r="2.31" fill="#452c62" stroke="none" stroke-width="1" filter="url(#cb1)"/>
<circle cx="758.80" cy="1088.70" r="2.10" fill="#452c62" stroke="none" stroke-width="1" filter="url(#cb1)"/>
<circle cx="770.2" cy="1109.3" r="12.5" fill="url(#hg_4)"/>
<circle cx="770.20" cy="1109.30" r="7.00" fill="#8a5280" stroke="none" stroke-width="1" filter="url(#cb1)" opacity="0.8"/>
<circle cx="768.70" cy="1108.30" r="3.30" fill="#452c62" stroke="none" stroke-width="1" filter="url(#cb1)"/>
<circle cx="772.20" cy="1111.30" r="3.00" fill="#452c62" stroke="none" stroke-width="1" filter="url(#cb1)"/>
<circle cx="652.3" cy="1105.0" r="8.8" fill="url(#hg_4)"/>
<circle cx="652.30" cy="1105.00" r="4.90" fill="#8a5280" stroke="none" stroke-width="1" filter="url(#cb1)" opacity="0.8"/>
<circle cx="650.80" cy="1104.00" r="2.31" fill="#452c62" stroke="none" stroke-width="1" filter="url(#cb1)"/>
<circle cx="654.30" cy="1107.00" r="2.10" fill="#452c62" stroke="none" stroke-width="1" filter="url(#cb1)"/>
<path d="M629.2,1111.7 Q630.2,1114.4 628.1,1114.0 Q625.9,1113.7 623.0,1111.4 Q620.0,1109.2 618.8,1107.1 Q617.5,1105.0 617.4,1102.8 Q617.2,1100.6 618.6,1100.3 Q620.0,1100.0 622.5,1102.3 Q625.0,1104.6 626.6,1106.8 Q628.2,1108.9 629.2,1111.7Z" fill="#8a5280" stroke="none" stroke-width="1" filter="url(#cb05)"/>
<ellipse cx="623.4" cy="1107.2" rx="3.3" ry="2.4" transform="rotate(50 623.4 1107.2)" fill="#452c62" filter="url(#cb05)"/>
<path d="M672.2,1109.2 Q674.5,1108.9 675.9,1110.1 Q677.4,1111.3 675.9,1113.6 Q674.3,1116.0 672.1,1119.1 Q670.0,1122.1 667.6,1121.6 Q665.2,1121.1 664.2,1119.5 Q663.2,1117.9 664.1,1114.2 Q665.0,1110.5 667.4,1110.0 Q669.8,1109.5 672.2,1109.2Z" fill="#8a5280" stroke="none" stroke-width="1" filter="url(#cb05)" opacity="0.85"/>
<circle cx="670.00" cy="1114.20" r="3.51" fill="#452c62" stroke="none" stroke-width="1" filter="url(#cb05)"/>
<path d="M648.8,1119.1 Q650.2,1119.5 650.8,1121.7 Q651.5,1124.0 650.6,1125.9 Q649.7,1127.8 646.7,1128.6 Q643.7,1129.4 643.3,1128.0 Q642.8,1126.6 642.1,1125.1 Q641.4,1123.5 642.5,1121.8 Q643.7,1120.0 645.5,1119.3 Q647.4,1118.7 648.8,1119.1Z" fill="#8a5280" stroke="none" stroke-width="1" filter="url(#cb05)" opacity="0.85"/>
<circle cx="646.00" cy="1123.40" r="3.12" fill="#452c62" stroke="none" stroke-width="1" filter="url(#cb05)"/>
<path d="M685.8,1121.8 Q687.4,1123.6 684.4,1124.6 Q681.4,1125.5 679.2,1126.1 Q677.0,1126.6 674.5,1125.1 Q671.9,1123.5 669.2,1122.1 Q666.4,1120.7 668.5,1119.0 Q670.6,1117.4 674.1,1118.2 Q677.6,1118.9 681.0,1119.5 Q684.3,1120.1 685.8,1121.8Z" fill="#8a5280" stroke="none" stroke-width="1" filter="url(#cb05)"/>
<ellipse cx="677.1" cy="1122.0" rx="3.8" ry="2.8" transform="rotate(10 677.1 1122.0)" fill="#452c62" filter="url(#cb05)"/>
<path d="M718.9,1120.1 Q719.1,1121.2 718.4,1122.4 Q717.7,1123.7 714.4,1124.0 Q711.1,1124.3 708.6,1123.5 Q706.0,1122.7 703.3,1120.9 Q700.6,1119.2 702.9,1118.6 Q705.2,1117.9 707.8,1117.3 Q710.4,1116.7 714.6,1117.9 Q718.8,1119.1 718.9,1120.1Z" fill="#8a5280" stroke="none" stroke-width="1" filter="url(#cb05)"/>
<ellipse cx="710.9" cy="1120.6" rx="3.8" ry="2.8" transform="rotate(5 710.9 1120.6)" fill="#452c62" filter="url(#cb05)"/>
<path d="M698.0,1127.9 Q697.8,1125.8 698.3,1123.9 Q698.7,1122.0 701.0,1121.3 Q703.2,1120.6 704.6,1121.5 Q705.9,1122.5 706.4,1124.8 Q707.0,1127.0 706.6,1127.9 Q706.2,1128.8 704.4,1129.9 Q702.6,1131.0 700.3,1130.5 Q698.1,1129.9 698.0,1127.9Z" fill="#8a5280" stroke="none" stroke-width="1" filter="url(#cb05)" opacity="0.85"/>
<circle cx="702.50" cy="1126.20" r="3.12" fill="#452c62" stroke="none" stroke-width="1" filter="url(#cb05)"/>
<path d="M715.6,1121.8 Q716.9,1122.6 717.6,1125.1 Q718.4,1127.5 715.7,1128.9 Q713.0,1130.3 711.6,1130.9 Q710.2,1131.5 708.6,1130.2 Q707.0,1128.8 707.2,1126.8 Q707.5,1124.8 708.5,1123.9 Q709.6,1122.9 711.9,1121.9 Q714.3,1121.0 715.6,1121.8Z" fill="#8a5280" stroke="none" stroke-width="1" filter="url(#cb05)" opacity="0.85"/>
<circle cx="711.60" cy="1126.20" r="3.12" fill="#452c62" stroke="none" stroke-width="1" filter="url(#cb05)"/>
<path d="M696.0,1125.1 Q695.9,1126.5 695.1,1127.3 Q694.4,1128.1 692.6,1128.2 Q690.9,1128.4 687.9,1127.0 Q685.0,1125.5 683.7,1124.3 Q682.3,1123.1 683.9,1122.6 Q685.5,1122.0 687.7,1122.3 Q689.9,1122.6 693.0,1123.2 Q696.1,1123.7 696.0,1125.1Z" fill="#8a5280" stroke="none" stroke-width="1" filter="url(#cb05)"/>
<ellipse cx="690.0" cy="1125.0" rx="2.8" ry="2.1" transform="rotate(10 690.0 1125.0)" fill="#452c62" filter="url(#cb05)"/>
</g>
<line x1="757.20" y1="1123.80" x2="778.00" y2="1123.80" stroke="#111" stroke-width="3.0"/>
<text x="97.85" y="977.16" font-size="24.91" text-anchor="start" fill="#231f20">Ctrl</text>
<text x="278.07" y="977.39" font-size="25.13" text-anchor="start" fill="#231f20">rOPN</text>
<text x="461.30" y="973.45" font-size="25.0" text-anchor="start" fill="#231f20">Lactate</text>
<text x="653.57" y="951.81" font-size="25.02" text-anchor="start" fill="#231f20">rOPN+</text>
<text x="622.87" y="979.64" font-size="25.02" fill="#231f20">SiRNA <tspan font-style="italic">Cd61</tspan></text>
<text x="864.40" y="906.10" font-size="25" font-weight="bold" text-anchor="start" fill="#231f20">g</text>
<circle cx="1109.50" cy="924.20" r="2.80" fill="#231f20" stroke="none" stroke-width="1"/>
<rect x="1106.80" y="948.00" width="5.40" height="5.40" fill="#231f20"/>
<path d="M1106.70,978.88L1112.30,978.88L1109.50,983.92Z" fill="#231f20" stroke="none" stroke-width="1"/>
<path d="M1109.50,1009.70L1112.60,1012.80L1109.50,1015.90L1106.40,1012.80Z" fill="#231f20" stroke="none" stroke-width="1"/>
<text x="1125.73" y="933.96" font-size="25.33" text-anchor="start" fill="#231f20">Ctrl</text>
<text x="1125.34" y="959.41" font-size="25.59" text-anchor="start" fill="#231f20">rOPN</text>
<text x="1124.95" y="990.24" font-size="25.57" text-anchor="start" fill="#231f20">Lactate</text>
<text x="1125.34" y="1022.17" font-size="25.48" fill="#231f20">rOPN+SiRNA <tspan font-style="italic">Cd61</tspan></text>
<line x1="982.80" y1="990.60" x2="982.80" y2="1134.80" stroke="#231f20" stroke-width="2.6"/>
<line x1="976.40" y1="1133.60" x2="982.80" y2="1133.60" stroke="#231f20" stroke-width="2.2"/>
<line x1="976.40" y1="1086.33" x2="982.80" y2="1086.33" stroke="#231f20" stroke-width="2.2"/>
<line x1="976.40" y1="1039.07" x2="982.80" y2="1039.07" stroke="#231f20" stroke-width="2.2"/>
<line x1="976.40" y1="991.80" x2="982.80" y2="991.80" stroke="#231f20" stroke-width="2.2"/>
<line x1="981.60" y1="1133.60" x2="1078.20" y2="1133.60" stroke="#231f20" stroke-width="2.6"/>
<text x="960.04" y="1142.85" font-size="25.5" text-anchor="start" fill="#231f20">0</text>
<text x="960.17" y="1095.33" font-size="25.5" text-anchor="start" fill="#231f20">5</text>
<text x="945.89" y="1048.32" font-size="25.5" text-anchor="start" fill="#231f20">10</text>
<text x="946.01" y="1000.79" font-size="25.5" text-anchor="start" fill="#231f20">15</text>
<text transform="translate(938.20,1181.14) rotate(-90)" font-size="25.49" text-anchor="start" fill="#231f20">Number of Ocs/ Well</text>
<rect x="990.20" y="1058.80" width="14.40" height="74.80" fill="#2c57a8"/>
<rect x="1012.20" y="1121.40" width="13.60" height="12.20" fill="#947e32"/>
<rect x="1033.60" y="1129.20" width="13.90" height="4.40" fill="#efefe8"/>
<rect x="1055.00" y="1087.20" width="14.30" height="46.40" fill="#ee4b52"/>
<line x1="997.40" y1="1041.70" x2="997.40" y2="1058.80" stroke="#2c57a8" stroke-width="1.5"/>
<line x1="993.50" y1="1041.70" x2="1000.90" y2="1041.70" stroke="#2c57a8" stroke-width="1.8"/>
<line x1="1062.20" y1="1069.90" x2="1062.20" y2="1087.20" stroke="#ee4b52" stroke-width="1.5"/>
<line x1="1058.40" y1="1069.90" x2="1065.80" y2="1069.90" stroke="#ee4b52" stroke-width="1.8"/>
<line x1="1018.90" y1="1118.60" x2="1018.90" y2="1121.40" stroke="#947e32" stroke-width="1.5"/>
<line x1="1015.20" y1="1118.60" x2="1022.50" y2="1118.60" stroke="#947e32" stroke-width="1.8"/>
<circle cx="997.40" cy="1030.60" r="2.60" fill="#231f20" stroke="none" stroke-width="1"/>
<circle cx="997.40" cy="1049.20" r="2.60" fill="#231f20" stroke="none" stroke-width="1"/>
<circle cx="997.40" cy="1058.30" r="2.60" fill="#231f20" stroke="none" stroke-width="1"/>
<circle cx="993.00" cy="1067.80" r="2.60" fill="#231f20" stroke="none" stroke-width="1"/>
<circle cx="1001.60" cy="1067.80" r="2.60" fill="#231f20" stroke="none" stroke-width="1"/>
<circle cx="997.40" cy="1077.00" r="2.60" fill="#231f20" stroke="none" stroke-width="1"/>
<path d="M1062.20,1055.80L1065.00,1058.60L1062.20,1061.40L1059.40,1058.60Z" fill="#231f20" stroke="none" stroke-width="1"/>
<path d="M1062.20,1074.50L1065.00,1077.30L1062.20,1080.10L1059.40,1077.30Z" fill="#231f20" stroke="none" stroke-width="1"/>
<path d="M1062.20,1084.00L1065.00,1086.80L1062.20,1089.60L1059.40,1086.80Z" fill="#231f20" stroke="none" stroke-width="1"/>
<path d="M1056.60,1093.00L1059.40,1095.80L1056.60,1098.60L1053.80,1095.80Z" fill="#231f20" stroke="none" stroke-width="1"/>
<path d="M1066.00,1093.00L1068.80,1095.80L1066.00,1098.60L1063.20,1095.80Z" fill="#231f20" stroke="none" stroke-width="1"/>
<path d="M1062.20,1102.90L1065.00,1105.70L1062.20,1108.50L1059.40,1105.70Z" fill="#231f20" stroke="none" stroke-width="1"/>
<rect x="1012.20" y="1121.40" width="13.60" height="5.60" fill="#231f20"/>
<rect x="1014.30" y="1131.50" width="10.00" height="5.00" fill="#231f20"/>
<rect x="1016.20" y="1112.60" width="5.40" height="5.40" fill="#231f20"/>
<path d="M1033.40,1120.72L1039.80,1120.72L1036.60,1126.48Z" fill="#231f20" stroke="none" stroke-width="1"/>
<path d="M1037.40,1120.72L1043.80,1120.72L1040.60,1126.48Z" fill="#231f20" stroke="none" stroke-width="1"/>
<path d="M1041.40,1120.72L1047.80,1120.72L1044.60,1126.48Z" fill="#231f20" stroke="none" stroke-width="1"/>
<rect x="1034.20" y="1131.00" width="13.20" height="2.60" fill="#231f20"/>
<path d="M1035.00,1133.02L1039.40,1133.02L1037.20,1136.98Z" fill="#231f20" stroke="none" stroke-width="1"/>
<path d="M1041.80,1133.02L1046.20,1133.02L1044.00,1136.98Z" fill="#231f20" stroke="none" stroke-width="1"/>
<path d="M997.20,946.20V954.60M997.20,950.40H1061.30M1061.30,946.20V954.60" fill="none" stroke="#231f20" stroke-width="2.0"/>
<text x="1010.64" y="944.74" font-size="15.92" text-anchor="start" fill="#231f20">0.005</text>
<path d="M997.20,972.80V980.60M997.20,976.70H1037.90M1037.90,972.80V980.60" fill="none" stroke="#231f20" stroke-width="2.0"/>
<text x="992.10" y="969.09" font-size="15.55" text-anchor="start" fill="#231f20">&lt;0.0001</text>
<path d="M997.20,998.00V1006.00M997.20,1002.00H1017.40M1017.40,998.00V1006.00" fill="none" stroke="#231f20" stroke-width="2.0"/>
<text x="987.40" y="994.32" font-size="15.46" text-anchor="start" fill="#231f20">&lt;0.0001</text>
<path d="M1020.50,1020.80V1028.60M1020.50,1024.70H1060.80M1060.80,1020.80V1028.60" fill="none" stroke="#231f20" stroke-width="2.0"/>
<text x="1016.35" y="1018.87" font-size="15.81" text-anchor="start" fill="#231f20">0.0002</text>
<path d="M1043.20,1047.40V1054.80M1043.20,1051.10H1062.20M1062.20,1047.40V1054.80" fill="none" stroke="#231f20" stroke-width="2.0"/>
<text x="1029.52" y="1046.35" font-size="15.21" text-anchor="start" fill="#231f20">&lt;0.0001</text>
</svg>
</body></html>
